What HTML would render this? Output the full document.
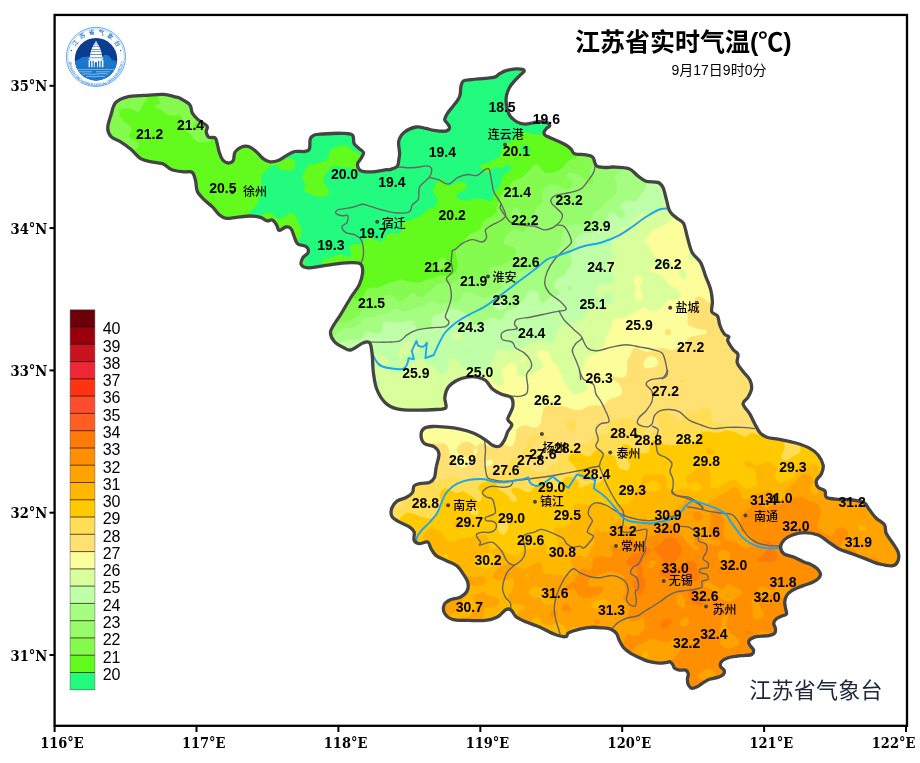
<!DOCTYPE html>
<html lang="zh"><head><meta charset="utf-8"><title>江苏省实时气温</title>
<style>html,body{margin:0;padding:0;background:#fff}svg{display:block}.n{font:bold 14px "Liberation Sans",sans-serif;fill:#000;text-anchor:middle}.c{font:500 12px "Liberation Sans","Noto Sans CJK SC",sans-serif;fill:#000}.ax{font:bold 15px "DejaVu Serif","Liberation Serif",serif;fill:#000}.cb{font:16px "Liberation Sans",sans-serif;fill:#000}</style></head><body>
<svg width="920" height="763" viewBox="0 0 920 763">
<rect width="920" height="763" fill="#fff"/>
<defs><clipPath id="prov"><path d="M115.6 102.6C118.3 99.6 122.7 98 127.5 96.8C132.3 95.6 138.5 95.8 144.5 95.4C150.5 95 158.2 94.2 163.3 94.4C168.4 94.6 172.4 96.2 175.2 96.8C178 97.4 177.6 97 180 98.3C182.4 99.6 187.8 102.3 189.8 104.8C191.9 107.2 190.9 110.5 192.3 113C193.7 115.5 195.6 117.4 198 119.6C200.4 121.8 205.6 124.1 207 126.1C208.4 128.1 205.9 130 206.2 131.8C206.5 133.7 207.2 136.2 208.7 137.2C210.2 138.2 213.8 136.8 215.2 137.9C216.6 139.1 216.6 141.7 217.3 144.1C218 146.5 218.4 149.7 219.3 152.3C220.2 154.9 221.1 157.9 222.6 159.7C224.1 161.5 226.5 162.9 228.3 163C230.1 163.1 232.1 162.3 233.2 160.5C234.3 158.7 233.7 154.5 234.9 152.3C236.1 150.1 238.3 148.4 240.6 147.4C242.9 146.4 246.2 145.9 248.8 146.6C251.4 147.3 253.7 149.4 256.1 151.5C258.6 153.6 261.2 157.2 263.5 158.9C265.8 160.6 267.7 161.5 270.1 161.8C272.6 162.1 275.5 161.5 278.2 160.5C280.9 159.5 283.7 157.1 286.4 155.6C289.1 154.1 291.6 152.2 294.6 151.5C297.6 150.8 301.9 151.9 304.4 151.5C306.9 151.1 308.4 151.1 309.4 149C310.4 146.9 309.4 141.5 310.2 139.2C311 136.9 312.2 136 314.3 135.1C316.4 134.2 317.9 134.3 322.5 134C327.1 133.7 337.1 133.1 342.1 133.3C347.1 133.5 350.4 133.3 352.4 135C354.4 136.7 353 141.2 354.1 143.5C355.2 145.8 357.6 147.1 359.2 148.6C360.8 150.1 363.3 151 363.6 152.7C363.9 154.4 361.9 156.9 360.9 158.8C359.9 160.7 357.5 161.9 357.5 163.9C357.5 165.9 358.3 169.4 360.9 170.7C363.4 172 368.6 172 372.8 171.8C377.1 171.6 383.6 170.1 386.4 169.7C389.2 169.3 388 170.2 389.8 169.6C391.6 169 395.7 167.9 397.2 166.3C398.7 164.7 398.4 162 398.8 159.8C399.2 157.6 399.6 156.3 399.6 153.2C399.6 150.1 398 144.5 398.8 141C399.6 137.5 401.7 134.3 404.6 132C407.5 129.7 412.5 127.6 416 127C419.5 126.4 422.8 127.9 425.8 128.4C428.8 129 430.7 129.9 434 130.3C437.3 130.8 442.9 131.5 445.5 131.1C448.1 130.7 449.3 129.2 449.6 127.9C449.9 126.6 447.9 124.4 447.1 123C446.3 121.6 444.7 121.2 444.7 119.7C444.7 118.2 445.9 116 447.1 113.9C448.3 111.9 450.2 109.7 452 107.4C453.8 105.1 456.4 102.2 457.8 100C459.2 97.8 459.7 96.6 460.2 94.3C460.7 92 460.4 88.3 461 86.1C461.6 83.9 461.7 82 463.5 80.9C465.3 79.8 468.1 80 471.7 79.6C475.2 79.2 481 78.8 484.8 78.4C488.6 78 492.2 77.9 494.6 77.1C497.1 76.3 497.6 74.9 499.5 73.8C501.4 72.7 503.4 71.4 506.1 70.6C508.8 69.8 513.2 69.1 515.9 68.9C518.6 68.7 521.1 69 522.5 69.4C523.9 69.8 524.4 70.5 524.1 71.4C523.8 72.3 522.4 73 520.8 74.6C519.2 76.2 516.2 79 514.3 81.2C512.4 83.4 510.7 85.4 509.4 87.7C508.1 90 507.2 92.7 506.6 95C506.1 97.3 506 99.2 506.1 101.5C506.2 103.8 506.6 106.7 507.2 109.1C507.8 111.5 508.6 113.8 509.9 115.7C511.2 117.6 513.1 119.2 514.8 120.5C516.5 121.8 518.4 122.7 520.2 123.3C522 123.9 523.7 124.1 525.7 124.1C527.7 124 530 123.4 532.2 123C534.4 122.6 536.5 121.7 538.7 121.6C540.9 121.5 543.6 121.9 545.2 122.2C546.8 122.5 547.8 122.9 548.5 123.5C549.2 124.1 550 125.1 549.6 126C549.2 126.9 547.2 127.7 546.3 128.7C545.4 129.7 544.3 130.9 544.1 132C543.9 133.1 544.1 134.2 545.2 135.2C546.3 136.2 548.5 136.9 550.7 137.9C552.9 138.9 555.8 140 558.3 141.2C560.8 142.4 563.7 143.7 565.9 145C568.1 146.3 569.8 147.9 571.3 149.3C572.8 150.8 572.1 152.8 574.6 153.7C577.1 154.6 583.1 154.3 586.1 154.9C589.1 155.5 591.2 155.5 592.9 157.3C594.6 159.1 594.4 164.1 596.4 165.8C598.4 167.5 602 167.3 604.9 167.5C607.8 167.7 609.6 166.8 613.6 167C617.6 167.2 625 167.3 629 168.7C633 170.1 634.7 173.5 637.5 175.6C640.3 177.7 642.6 180.2 646 181.3C649.4 182.4 655.1 181.4 657.9 182.4C660.7 183.4 661.6 184.7 663 187.5C664.4 190.3 665.3 195.4 666.4 199.4C667.5 203.4 668.1 208.2 669.8 211.3C671.5 214.4 674.4 216.1 676.7 218.1C679 220.1 681.8 220.5 683.5 223.3C685.2 226.2 685.5 230.4 686.9 235.2C688.3 240 689.7 247.7 692 252.2C694.3 256.7 698.2 258.4 700.5 262.4C702.8 266.4 703.9 271.6 705.6 276.1C707.3 280.7 709.6 285.4 710.7 289.7C711.8 293.9 712.2 297.9 712.4 301.6C712.6 305.3 710.9 309.4 711.8 311.8C712.6 314.2 716.1 313.6 717.5 315.9C718.9 318.2 718.8 322.5 719.9 325.5C721 328.5 722.9 332.1 724.4 334C725.9 335.9 728.2 335.6 728.8 336.7C729.4 337.8 727.1 338.7 727.8 340.8C728.5 342.9 731.2 347 732.9 349.3C734.6 351.6 737.3 352.1 738 354.4C738.7 356.7 736.4 360 737.3 362.9C738.1 365.8 741 368.6 743.1 371.5C745.2 374.4 748.5 377.2 749.9 380C751.3 382.8 751.9 385.7 751.6 388.5C751.3 391.3 749.6 394.4 748.2 397C746.8 399.6 742.8 400.9 743.1 403.8C743.4 406.7 747.9 410.7 749.9 414.1C751.9 417.5 753.3 421.2 755 424.3C756.7 427.4 758.1 430.7 760.1 432.8C762.1 434.9 763.6 436.1 767 437.2C770.4 438.3 775.8 438.6 780.6 439.6C785.4 440.6 791.1 441.6 795.9 443C800.7 444.4 805.8 446.1 809.5 448.1C813.2 450.1 815.8 452.1 818.1 455C820.4 457.9 822.6 462.1 823.2 465.2C823.8 468.3 822.6 471.1 821.5 473.7C820.4 476.2 817 478.2 816.4 480.5C815.8 482.8 816.7 485.6 818.1 487.3C819.5 489 823.5 489 824.9 490.7C826.3 492.4 824.3 496.1 826.6 497.5C828.9 498.9 834.2 498.9 838.5 499.3C842.8 499.7 847.8 499.3 852.1 499.9C856.4 500.5 861.2 501.1 864.1 502.7C867 504.3 867.2 506.9 869.2 509.5C871.2 512 873.5 515.5 876 518C878.5 520.5 882.8 522.2 884.5 524.8C886.2 527.3 884.8 530.2 886.2 533.3C887.6 536.4 891 540.4 893 543.5C895 546.6 897.2 549.2 898.1 552.1C899 555 899 558.3 898.1 560.6C897.2 562.9 896.1 565.1 893 565.7C889.9 566.3 883.9 565.1 879.4 564C874.9 562.9 870.3 560.6 865.8 558.9C861.2 557.2 856.6 555.5 852.1 553.8C847.6 552.1 842.5 550.7 838.5 548.7C834.5 546.7 831.7 544.1 828.3 541.8C824.9 539.5 822.1 536.5 818.1 535C814.1 533.5 808.7 532.6 804.4 532.6C800.1 532.6 795.9 533.8 792.5 535C789.1 536.2 786 538.1 784 540.1C782 542.1 780.6 544.7 780.6 547C780.6 549.3 781.7 552.1 784 553.8C786.3 555.5 790.8 555.8 794.2 557.2C797.6 558.6 801.9 561.2 804.4 562.3C806.9 563.4 807.3 562.7 809.4 563.7C811.5 564.7 814.9 566.6 816.8 568.3C818.6 570 820.2 572.1 820.5 573.8C820.8 575.5 819.8 576.9 818.6 578.3C817.4 579.7 815.2 580.9 813.1 582C811 583.1 808.2 583.9 805.8 584.8C803.3 585.7 800.8 586.4 798.4 587.5C796 588.6 793.1 589.8 791.1 591.2C789.1 592.6 787.6 594 786.5 595.8C785.4 597.6 784.9 600.1 784.7 602.2C784.6 604.3 785.3 606.6 785.6 608.6C785.9 610.6 787.1 612.9 786.5 614.1C785.9 615.3 783.6 615.2 781.9 616C780.2 616.8 777.8 617.5 776.4 618.7C775 619.9 773.9 621.6 773.7 623.3C773.6 625 775.4 627.1 775.5 628.8C775.6 630.5 775.7 632.3 774.6 633.4C773.5 634.5 771.2 635.1 769.1 635.6C767 636.1 764.2 635.9 761.7 636.1C759.2 636.4 756.5 636.3 754.4 637.1C752.3 637.9 749.7 639.3 748.9 640.7C748.1 642.1 749 643.8 749.8 645.3C750.6 646.8 753.2 648.4 753.5 649.9C753.8 651.4 753.1 653.6 751.7 654.5C750.3 655.4 747.8 655.1 745.2 655.4C742.6 655.7 739.2 655.8 736.1 656.3C733 656.8 729.4 657.3 726.9 658.2C724.4 659.1 722.5 660.4 721.4 661.8C720.3 663.2 720 665 720.5 666.4C721 667.8 723.6 668.7 724.1 670.1C724.6 671.5 724.3 673.5 723.2 674.7C722.1 675.9 720 676.6 717.7 677.4C715.4 678.2 711.9 678.4 709.4 679.3C706.9 680.2 705 681.7 703 682.9C701 684.1 699.3 685.7 697.5 686.6C695.7 687.5 693.5 688.7 692 688.4C690.5 688.1 689.1 686.3 688.3 684.8C687.5 683.3 687.4 681.1 687.4 679.3C687.4 677.5 688.6 675.3 688.3 673.8C688 672.3 687.1 670.7 685.6 670.1C684.1 669.5 681 670.4 679.2 670.1C677.4 669.8 675.7 669.2 674.6 668.3C673.5 667.4 673.6 665.7 672.8 664.6C672 663.5 670.9 662.2 670 661.8C669.1 661.4 669.2 662.1 667.4 662.3C665.5 662.5 662.2 663.4 658.9 663.2C655.6 663 650.9 662.2 647.6 661.2C644.3 660.2 641.9 658.8 639.1 657.5C636.3 656.2 633.3 654.9 630.7 653.3C628.1 651.6 625.5 649.7 623.6 647.6C621.7 645.5 620.6 643 619.4 640.6C618.2 638.2 617.9 635.4 616.5 633.5C615.1 631.6 613.2 630.2 610.9 629.2C608.5 628.2 605.7 628.1 602.4 627.8C599.1 627.5 594.9 627.1 591.1 627.3C587.3 627.5 583.6 628.3 579.8 629.2C576 630.1 570.9 631.6 568.5 632.9C566.1 634.1 568.2 636.5 565.7 636.7C563.2 636.9 558.1 635.6 553.8 634C549.5 632.4 544.6 629.2 540.1 627.2C535.6 625.2 530.5 623.8 526.5 622.1C522.5 620.4 518.8 619 516.3 617C513.8 615 512.9 611.4 511.2 610.1C509.5 608.9 508.4 608.4 506.1 609.5C503.8 610.6 500.9 615.2 497.5 617C494.1 618.8 490.4 619.8 485.6 620.4C480.8 621 474 620.5 468.6 620.4C463.2 620.3 457.3 620.9 453.3 619.7C449.3 618.6 446.2 616 444.7 613.5C443.2 611 443.2 607.3 444.1 605C445 602.7 447.1 601.2 449.8 599.9C452.5 598.6 457.2 598.6 460.1 597.2C463 595.8 465.6 593.8 466.9 591.4C468.2 589 468.5 585.7 467.9 582.9C467.3 580.1 465.4 577.2 463.5 574.4C461.6 571.5 459.6 568.1 456.7 565.8C453.8 563.5 449.8 562.4 446.4 560.7C443 559 438.8 557.6 436.2 555.6C433.6 553.6 432.5 551.1 431.1 548.8C429.7 546.5 429.7 542.9 427.7 542C425.7 541.1 421.5 544 419.2 543.7C416.9 543.4 415 542.3 414.1 540.3C413.2 538.3 415 534.1 414.1 531.8C413.2 529.5 411.6 528.4 409 526.7C406.4 525 401.6 523.3 398.7 521.6C395.8 519.9 393 518.7 391.9 516.4C390.8 514.1 391 510.4 391.9 507.9C392.8 505.3 394.7 502.8 397 501.1C399.3 499.4 403 499.1 405.6 497.7C408.2 496.3 411 494.6 412.4 492.6C413.8 490.6 412.7 487.3 414.1 485.8C415.5 484.3 418.3 484 420.9 483.4C423.4 482.8 427.1 483.4 429.4 482.4C431.7 481.4 433.4 479.9 434.5 477.3C435.6 474.7 435.4 470.9 436.2 467C436.9 463.1 439.3 457.1 439 453.8C438.7 450.5 437 448.7 434.6 447C432.2 445.3 426.7 445.5 424.4 443.5C422.1 441.5 421 437.6 421 435C421 432.4 422.4 429.6 424.4 428.2C426.4 426.8 429.2 426.7 432.9 426.5C436.6 426.3 442 426.8 446.5 427.2C451 427.6 455.6 428.2 460.1 429.2C464.7 430.2 469.5 431.5 473.8 433.3C478.1 435.1 482.6 438.1 485.7 440.1C488.8 442.1 490.2 444.2 492.5 445.2C494.8 446.2 497.3 447.1 499.3 446.3C501.3 445.5 503 442.6 504.4 440.1C505.8 437.7 506.6 434.2 507.8 431.6C509.1 429.1 511.9 426.8 511.9 424.8C511.9 422.8 508.2 421.4 507.8 419.7C507.4 418 508.6 416.9 509.5 414.6C510.4 412.3 512.6 409 512.9 406.1C513.2 403.2 513.2 399.5 511.2 397.5C509.2 395.5 504.1 395.5 501 394.1C497.9 392.7 495.1 391.3 492.5 389C489.9 386.7 488.2 382.5 485.7 380.5C483.1 378.5 480.3 377.7 477.2 377.1C474.1 376.5 470.4 376.5 467 377.1C463.6 377.7 459.8 378.8 456.7 380.5C453.6 382.2 450.2 384.5 448.2 387.3C446.2 390.1 445.2 394.1 444.8 397.5C444.4 400.9 447.2 405.8 445.8 407.8C444.4 409.8 441.3 409.1 436.3 409.5C431.3 409.9 422.3 410.3 415.8 410.2C409.3 410.1 402.2 410.1 397.1 408.8C392 407.6 388.6 406 385.2 402.7C381.8 399.4 378.7 394.1 376.7 389C374.7 383.9 374.1 377.7 373.3 372C372.6 366.3 372.8 359.8 372.2 355C371.6 350.2 371.3 345 369.8 343C368.3 341 366.1 341.9 363 343C359.9 344.1 354.2 348.9 351.1 349.8C348 350.7 347.1 349.5 344.3 348.1C341.5 346.7 336.4 344.1 334.1 341.3C331.8 338.5 329.6 335.6 330.7 331.1C331.8 326.6 337.5 319.8 340.9 314.1C344.3 308.4 348.1 301.9 351.1 297C354.2 292.1 357.3 288.9 359.2 284.9C361.1 280.9 362.3 276.3 362.6 272.9C362.9 269.5 362.6 266.1 360.9 264.4C359.2 262.7 356.1 262.8 352.4 262.7C348.7 262.6 343.8 263.1 338.7 263.7C333.6 264.3 326.8 265.4 321.7 266.1C316.6 266.8 311.5 268.1 308.1 267.8C304.7 267.5 302.1 266.1 301.2 264.4C300.3 262.7 301.8 259.6 302.9 257.6C304 255.6 307.5 254.3 308.1 252.5C308.7 250.7 308.1 248.1 306.4 246.7C304.7 245.3 299.8 245.6 297.8 244C295.8 242.4 295.5 239.8 294.4 237.2C293.3 234.6 292.4 230.4 291 228.7C289.6 227 287.9 226.7 285.9 227C283.9 227.3 280.6 230.7 279.1 230.4C277.6 230.1 277.8 226.9 276.7 225.2C275.6 223.5 273.9 220.8 272.3 220.1C270.7 219.4 269.2 221.2 267.2 220.8C265.2 220.4 263.2 218.2 260.4 217.4C257.5 216.6 254.1 216 250.1 216C246.1 216 240.5 217 236.5 217.4C232.5 217.8 229.1 218.8 226.3 218.4C223.5 218 221.8 216.9 219.5 215C217.2 213.1 215.3 209.8 212.7 207.2C210.1 204.6 206.7 202.4 204.1 199.7C201.5 197 198.7 194.3 197.3 191.2C195.9 188.1 196.4 184.1 195.6 181C194.8 177.9 194.2 173.9 192.2 172.4C190.2 170.9 187.1 172.2 183.7 171.8C180.3 171.4 175.2 171 171.8 169.7C168.4 168.4 166.4 165.2 163.3 163.9C160.2 162.7 156.7 163 153 162.2C149.3 161.3 144.8 161 141.1 158.8C137.4 156.7 134.3 152.1 130.9 149.3C127.5 146.5 124 143.9 120.7 141.8C117.4 139.7 113.3 139 111.1 136.7C108.9 134.4 107.7 131.8 107.7 128.1C107.7 124.4 109.8 118.8 111.1 114.5C112.4 110.2 112.9 105.5 115.6 102.6Z"/></clipPath></defs>
<g clip-path="url(#prov)">
<rect x="90" y="50" width="820" height="660" fill="#22fb7d"/>
<path fill="#63fb1e" d="M93 55L96 55L99 55L102 55L105 55L108 55L111 55L114 55L117 55L120 55L123 55L126 55L129 55L132 55L135 55L138 55L141 55L144 55L147 55L150 55L153 55L156 55L159 55L162 55L165 55L168 55L171 55L174 55L177 55L180 55L183 55L186 55L189 55L192 55L195 55L198 55L201 55L204 55L207 55L210 55L213 55L216 55L219 55L222 55L225 55L228 55L231 55L234 55L237 55L240 55L243 55L246 55L249 55L252 55L255 55L258 55L261 55L264 55L267 55L270 55L272 55L272.4 58L273 59L275.7 61L276 61.1L279 62.9L282 64L282.2 64L285 65.5L286.5 67L285 67.9L282 69.6L280.6 70L279 70.5L276 71.2L273.6 73L276 74.7L279 75L280.3 76L282 77L283.3 79L283.8 82L283.1 85L282 87.5L280.8 88L279.5 91L282 92.7L282.7 94L284.8 97L285 97.2L288 98.7L291 99.6L291.7 100L294 101.2L296 103L297 104.5L298 106L298.9 109L298.9 112L297.3 115L297 115.3L294 115.4L293.7 115L291 113.3L290 112L288 109.9L287.3 109L285.4 106L285 105L282.3 103L282 102.7L281.7 103L279 104.1L277.1 106L276 108.6L275.9 109L276 109.5L276.8 112L279 114.4L279.7 115L282 117L283.3 118L284.8 121L284.5 124L283.1 127L282 128.5L279 127.6L278 127L276 126.2L273 125.3L270 125L267 125.5L264 126.4L262.9 127L261 128.8L260.4 130L260.2 133L261 135.3L261.3 136L263.5 139L264 139.7L265.9 142L267 143.5L269.7 145L270 145.1L273 146L276 147.4L276.6 148L277.2 151L276.8 154L276.8 157L277.7 160L279 161.7L282 160.4L282.5 160L285 158.9L288 158L291 158.2L294 159.9L294.1 160L295.3 163L294.9 166L294.1 169L294 169.2L291 170.8L288 170.6L285 170.5L282 170.5L279.6 169L279 168L277.5 166L276 164.6L273 165.7L272.3 166L270 167.3L267.1 169L267 169.1L264.4 172L264 172.4L261.9 175L261.2 178L261.5 181L261.6 184L261.5 187L261.4 190L261.2 193L261 193.3L260 196L259 199L258.1 202L258 202.3L256.6 205L255 206.8L253.6 208L252 209.5L250.9 211L249 213.8L248.9 214L247.2 217L246 219.7L245.9 220L245.2 223L244.9 226L245.5 229L246 229.9L249 232L252 231.9L255 229.8L255.4 229L256.1 226L256.8 223L257.8 220L258 219.3L259.4 217L261 215.4L263.3 214L264 213.6L267 212.8L270 213.1L272.2 214L273 214.5L276 216.9L276.2 217L279 219.1L282 218.4L283.9 217L285 216.1L287.6 214L288 213.7L291 213.3L294 214L294.1 214L296.5 217L297 220L297 220.1L298 223L300 225.7L300.2 226L301.2 229L301.3 232L300.7 235L300 236.9L299.5 238L298.4 241L297.6 244L297 246L296.5 247L294.8 250L294.2 253L297 254.9L298.9 256L300 256.4L303 258.1L304 259L304.9 262L305.3 265L306 267.1L307.1 268L309 268.7L312 268.1L312.4 268L315 267.6L318 267.4L321 266.3L322.5 265L323 262L323.6 259L324 258.5L327 258.7L330 258.7L333 257.1L334.9 256L336 255.4L339 254.3L342 254.4L344.8 256L345 256.1L348 257.2L351 256L351 256L351 255L350.9 253L349.8 250L349.7 247L351 245.3L354 244.3L357 244.3L358.9 244L360 243.7L363 242.1L364.4 241L365.9 238L366 237.8L369 236.6L372 237.6L372.5 238L375 239.4L377.2 241L378 241.5L381 242L382.6 241L384 239.7L385.1 238L387 235L387 235L390 233L393 233L396 233.8L399 233.2L400.6 232L402 229L401.3 226L400.9 223L402 220.9L405 220.5L408 220.6L410.1 220L411 219.8L414 218.7L417 217.4L418 217L420 216.1L423 214.1L423.1 214L425.7 211L426 210.7L429 209L431.8 208L432 207.9L435 206.5L436.4 205L437.5 202L437.1 199L435.5 196L435 195.2L433.8 193L433.1 190L433.7 187L435 184.6L435.6 184L437.9 181L438 180.9L441 179.7L444 180.3L444.6 181L446.5 184L447 184.6L450 185.7L453 184.2L453.2 184L456 182.4L459 181.4L462 181.8L465 183.1L466.2 184L467.1 187L465 190L465 190L462 191.7L459 192.6L457.9 193L456.5 196L458.7 199L459 199.2L462 200.2L465 200.6L468 200.4L471 199.2L471.7 199L474 198.4L477 198.6L480 198.9L480.6 199L483 199.2L486 200.1L489 201.3L492 199.7L492.5 199L493.3 196L494.3 193L495 192.2L496.7 190L498 189L499.5 187L500.3 184L501 181L501 181L502.2 178L503.8 175L504 174.3L507 173.3L508.3 172L510 170.2L511 169L510.3 166L510 165.5L507 164.1L504.4 166L504 167L501 168.5L498 167.4L495 166.6L492 168.9L492 169L489.9 172L489 172.8L486 172.6L485.5 172L483 169.2L482.7 169L480 166.4L479.4 166L480 165.2L483 163.9L486 163.2L486.9 163L489 162.6L492 161.2L493.1 160L495 159.2L498 157.9L499.1 157L500.9 154L501 153.5L501.7 151L502 148L503.2 145L504 144.3L507 142.7L509.3 142L510 141.8L513 140.3L514.6 139L516 137.7L517.3 136L519 133.1L519.1 133L522 131.4L525 131.9L528 132.9L528.3 133L531 133.8L534 134L537 134.1L540 134.4L543 135L546 135.3L549 135.2L552 135L555 134.1L556.4 133L558 131.1L559 130L561 127.8L564 128.1L567 128.3L569.5 127L570 126.5L571.3 124L572.9 121L573 120.7L573.9 118L575.3 115L576 114.2L577.2 112L579 109.6L579.4 109L581.6 106L582 105.5L584.4 103L585 102.2L587.5 100L588 99.3L590.5 97L591 96L592 94L593.5 91L594 90L595 88L596.2 85L595.8 82L596.8 79L597 78.7L600 76.1L600.3 76L601.6 73L602.8 70L603 69.4L604 67L604.8 64L604.9 61L605.7 58L606 57.3L606.6 55L609 55L612 55L615 55L618 55L621 55L624 55L627 55L630 55L633 55L636 55L639 55L642 55L645 55L648 55L651 55L654 55L657 55L660 55L663 55L666 55L669 55L672 55L675 55L678 55L681 55L684 55L687 55L690 55L693 55L696 55L699 55L702 55L705 55L708 55L711 55L714 55L717 55L720 55L723 55L726 55L729 55L732 55L735 55L738 55L741 55L744 55L747 55L750 55L753 55L756 55L759 55L762 55L765 55L768 55L771 55L774 55L777 55L780 55L783 55L786 55L789 55L792 55L795 55L798 55L801 55L804 55L807 55L810 55L813 55L816 55L819 55L822 55L825 55L828 55L831 55L834 55L837 55L840 55L843 55L846 55L849 55L852 55L855 55L858 55L861 55L864 55L867 55L870 55L873 55L876 55L879 55L882 55L885 55L888 55L891 55L894 55L897 55L897 58L897 61L897 64L897 67L897 70L897 73L897 76L897 79L897 82L897 85L897 88L897 91L897 94L897 97L897 100L897 103L897 106L897 109L897 112L897 115L897 118L897 121L897 124L897 127L897 130L897 133L897 136L897 139L897 142L897 145L897 148L897 151L897 154L897 157L897 160L897 163L897 166L897 169L897 172L897 175L897 178L897 181L897 184L897 187L897 190L897 193L897 196L897 199L897 202L897 205L897 208L897 211L897 214L897 217L897 220L897 223L897 226L897 229L897 232L897 235L897 238L897 241L897 244L897 247L897 250L897 253L897 256L897 259L897 262L897 265L897 268L897 271L897 274L897 277L897 280L897 283L897 286L897 289L897 292L897 295L897 298L897 301L897 304L897 307L897 310L897 313L897 316L897 319L897 322L897 325L897 328L897 331L897 334L897 337L897 340L897 343L897 346L897 349L897 352L897 355L897 358L897 361L897 364L897 367L897 370L897 373L897 376L897 379L897 382L897 385L897 388L897 391L897 394L897 397L897 400L897 403L897 406L897 409L897 412L897 415L897 418L897 421L897 424L897 427L897 430L897 433L897 436L897 439L897 442L897 445L897 448L897 451L897 454L897 457L897 460L897 463L897 466L897 469L897 472L897 475L897 478L897 481L897 484L897 487L897 490L897 493L897 496L897 499L897 502L897 505L897 508L897 511L897 514L897 517L897 520L897 523L897 526L897 529L897 532L897 535L897 538L897 541L897 544L897 547L897 550L897 553L897 556L897 559L897 562L897 565L897 568L897 571L897 574L897 577L897 580L897 583L897 586L897 589L897 592L897 595L897 598L897 601L897 604L897 607L897 610L897 613L897 616L897 619L897 622L897 625L897 628L897 631L897 634L897 637L897 640L897 643L897 646L897 649L897 652L897 655L897 658L897 661L897 664L897 667L897 670L897 673L897 676L897 679L897 682L897 685L897 688L897 691L897 694L897 697L894 697L891 697L888 697L885 697L882 697L879 697L876 697L873 697L870 697L867 697L864 697L861 697L858 697L855 697L852 697L849 697L846 697L843 697L840 697L837 697L834 697L831 697L828 697L825 697L822 697L819 697L816 697L813 697L810 697L807 697L804 697L801 697L798 697L795 697L792 697L789 697L786 697L783 697L780 697L777 697L774 697L771 697L768 697L765 697L762 697L759 697L756 697L753 697L750 697L747 697L744 697L741 697L738 697L735 697L732 697L729 697L726 697L723 697L720 697L717 697L714 697L711 697L708 697L705 697L702 697L699 697L696 697L693 697L690 697L687 697L684 697L681 697L678 697L675 697L672 697L669 697L666 697L663 697L660 697L657 697L654 697L651 697L648 697L645 697L642 697L639 697L636 697L633 697L630 697L627 697L624 697L621 697L618 697L615 697L612 697L609 697L606 697L603 697L600 697L597 697L594 697L591 697L588 697L585 697L582 697L579 697L576 697L573 697L570 697L567 697L564 697L561 697L558 697L555 697L552 697L549 697L546 697L543 697L540 697L537 697L534 697L531 697L528 697L525 697L522 697L519 697L516 697L513 697L510 697L507 697L504 697L501 697L498 697L495 697L492 697L489 697L486 697L483 697L480 697L477 697L474 697L471 697L468 697L465 697L462 697L459 697L456 697L453 697L450 697L447 697L444 697L441 697L438 697L435 697L432 697L429 697L426 697L423 697L420 697L417 697L414 697L411 697L408 697L405 697L402 697L399 697L396 697L393 697L390 697L387 697L384 697L381 697L378 697L375 697L372 697L369 697L366 697L363 697L360 697L357 697L354 697L351 697L348 697L345 697L342 697L339 697L336 697L333 697L330 697L327 697L324 697L321 697L318 697L315 697L312 697L309 697L306 697L303 697L300 697L297 697L294 697L291 697L288 697L285 697L282 697L279 697L276 697L273 697L270 697L267 697L264 697L261 697L258 697L255 697L252 697L249 697L246 697L243 697L240 697L237 697L234 697L231 697L228 697L225 697L222 697L219 697L216 697L213 697L210 697L207 697L204 697L201 697L198 697L195 697L192 697L189 697L186 697L183 697L180 697L177 697L174 697L171 697L168 697L165 697L162 697L159 697L156 697L153 697L150 697L147 697L144 697L141 697L138 697L135 697L132 697L129 697L126 697L123 697L120 697L117 697L114 697L111 697L108 697L105 697L102 697L99 697L96 697L93 697L90 697L90 694L90 691L90 688L90 685L90 682L90 679L90 676L90 673L90 670L90 667L90 664L90 661L90 658L90 655L90 652L90 649L90 646L90 643L90 640L90 637L90 634L90 631L90 628L90 625L90 622L90 619L90 616L90 613L90 610L90 607L90 604L90 601L90 598L90 595L90 592L90 589L90 586L90 583L90 580L90 577L90 574L90 571L90 568L90 565L90 562L90 559L90 556L90 553L90 550L90 547L90 544L90 541L90 538L90 535L90 532L90 529L90 526L90 523L90 520L90 517L90 514L90 511L90 508L90 505L90 502L90 499L90 496L90 493L90 490L90 487L90 484L90 481L90 478L90 475L90 472L90 469L90 466L90 463L90 460L90 457L90 454L90 451L90 448L90 445L90 442L90 439L90 436L90 433L90 430L90 427L90 424L90 421L90 418L90 415L90 412L90 409L90 406L90 403L90 400L90 397L90 394L90 391L90 388L90 385L90 382L90 379L90 376L90 373L90 370L90 367L90 364L90 361L90 358L90 355L90 352L90 349L90 346L90 343L90 340L90 337L90 334L90 331L90 328L90 325L90 322L90 319L90 316L90 313L90 310L90 307L90 304L90 301L90 298L90 295L90 292L90 289L90 286L90 283L90 280L90 277L90 274L90 271L90 268L90 265L90 262L90 259L90 256L90 253L90 250L90 247L90 244L90 241L90 238L90 235L90 232L90 229L90 226L90 223L90 220L90 217L90 214L90 211L90 208L90 205L90 202L90 199L90 196L90 193L90 190L90 187L90 184L90 181L90 178L90 175L90 172L90 169L90 166L90 163L90 160L90 157L90 154L90 151L90 148L90 145L90 142L90 139L90 136L90 133L90 130L90 127L90 124L90 121L90 118L90 115L90 112L90 109L90 106L90 103L90 100L90 97L90 94L90 91L90 88L90 85L90 82L90 79L90 76L90 73L90 70L90 67L90 64L90 61L90 58L90 55ZM251.6 67L249 67.6L246.8 70L248.4 73L249 73.2L249.6 73L252 71.5L253.1 70L252 67L252 67ZM524.8 145L522 145.6L520.2 148L521.1 151L522 152L525 153.6L528 153.1L530.2 151L529.6 148L528 146.4L525.1 145L525 145ZM458.7 217L459 218.9L462 217.9L462.6 217L462 215.5L459 216.7ZM455.5 220L456 220.5L458 220L456 219.7ZM567 60.2L569.4 61L570 61.2L573 62.8L576 63.7L579 63.6L582 63.2L585 62.6L588 61.6L590.7 64L589.3 67L588.1 70L588 70.8L587.6 73L587.5 76L585.1 79L585 79.1L582 80.8L580.3 82L579.2 85L579.2 88L579 90.6L578.9 91L577.2 94L576 94.9L573 95L572.1 94L571.2 91L570.9 88L570.7 85L570.5 82L570 81.3L568.6 79L567 77.2L566.2 76L564.3 73L564 71.6L563.3 70L563.9 67L564 66.2L564.4 64L564.9 61ZM333 148L336 147.2L339 146.4L342 145.6L345 145.2L348 146L350.3 148L351 148.7L353.9 151L354 151.1L357 153L359.4 154L360 154.4L363 154.3L366 154.1L369 155.2L370.6 157L372 159.4L372.2 160L372.9 163L372.4 166L372 166.3L370.6 166L369 165.8L366 165.4L363.4 166L363 166.1L360.7 169L360 170.4L358.1 172L357 172.4L355.9 172L354 170.9L351.9 169L351 168.2L348 167.5L345 167.6L342 167.4L339 166.5L336 166.1L333 166.8L330 168L329.3 169L327.4 172L327 172.4L325 175L324 176.7L323.3 178L323.3 181L324 182.1L324.9 184L326.9 187L327 187.2L328.7 190L329.2 193L327 196L327 196L324 196.7L321 196.6L318 196.6L315 196.3L314.2 196L312 194.8L309 193.1L308.3 193L306 192L303.5 190L305.3 187L305.2 184L303.6 181L303 179.7L302 178L302.4 175L303 174.4L304.1 172L305.6 169L306 168.2L307.7 166L309 165L312 164.3L315 163.8L316.9 163L318 162.4L321 161.6L324 161.7L326.6 160L327 159.6L328.1 157L329.2 154L330 151.5L330.2 151L333 148Z"/>
<path fill="#85fb4f" d="M120 55L123 55L126 55L129 55L132 55L135 55L138 55L138.2 55L141 57L142.5 58L144 58.6L147 59.6L150 59.6L152.3 58L153 57.1L154.3 55L156 55L159 55L162 55L164.6 55L165 56.4L165.8 58L166.5 61L165 63.7L164.9 64L164.6 67L165 67.9L166.3 70L168 71.8L171 71.7L172.8 70L174 68.9L177 67.7L180 67.6L183 67.8L186 68.4L189 69.2L191.7 70L191.9 73L190.3 76L189 77.6L187.7 79L186 80.6L184.1 82L183 83.5L181.8 85L181.8 88L183 90.3L183.4 91L186 93.5L187.7 94L189 94.3L192 94.3L195 94.6L198 95.2L201 95.9L204 96L207 94.7L207.7 94L208.7 91L210 89.3L212.4 88L213 87.8L213.3 88L214.6 91L214.7 94L216 95.6L217.7 97L219 97.5L222 98.6L225 99.9L225.1 100L227.1 103L228 103.9L229.4 106L231 108.2L231.3 109L231.8 112L231.5 115L231 118L231 118L230.7 121L231 122.1L231.5 124L231 125.2L228 126L227.2 124L225 121.8L224.1 121L222 120.1L219 120.1L217.8 121L216 123.5L215.7 124L214.3 127L213.2 130L213 130.7L212.1 133L211.8 136L211.3 139L210 141.7L209.1 142L207 142.3L204 142.2L201 142.3L198 142.1L197.8 142L195 139.4L193.9 139L192 136.3L191.7 136L189 133L189 133L186 130.3L185.9 130L184.7 127L183.7 124L183 121.9L182.8 121L182 118L180 115.4L177 115.1L174 115.5L171 115.6L169.1 115L168 114.6L165 112.7L163.6 112L162 110.2L159 109.2L158.2 109L156 107.2L154.7 106L156 104.7L159 104.6L161.1 103L159 101L158.6 100L158.5 97L158.9 94L159 93L159.3 91L159 90L158.5 88L156 85.5L155.5 85L153 83.1L151.9 82L150 79.4L149.6 79L147 76.3L146.5 76L144 75.2L141 75L138 75L135 75.9L134.8 76L134.1 79L135 80.5L135.7 82L137.3 85L138 86L139.6 88L141 89.6L142.6 91L144 92.7L145.3 94L147 97L146.7 100L144 102.7L143.8 103L142.2 106L141 109L141 109L138.7 112L138 112.6L137.1 112L135 110.8L132.1 109L132 108.9L129 108.4L126 108.4L123 108.7L122 109L120 110.5L119.4 112L119.6 115L120 116.1L120.9 118L123 120.8L123.3 121L126 122.9L127.7 124L129 125.1L130.5 127L131.5 130L130.3 133L129 135.2L128.7 136L129 136.8L131 139L132 139.5L135 140.1L137.2 142L138 143.5L138.5 145L138 147.2L137.6 148L135 149.6L132 148.1L131.7 148L129 146.7L126 146.8L123 147.4L121.4 148L120 148.6L117 150.2L115 151L114 152.1L111 152.4L108 153.8L107.9 154L108 154.4L111 156.5L114 156.1L115 157L117 158.4L118.1 160L119.3 163L120 164.8L120.6 166L123 168.6L123.8 169L126 169.8L128 172L128.9 175L128.2 178L126 179.7L123 180.4L120 180.6L118.5 181L117 181.6L114.3 184L114 184.5L111.7 187L111 188.5L109.7 190L111 191.4L113.8 193L114 193L117 194.4L120 195.5L123 195.5L126 193.2L126.1 193L129 191.3L132 190L132 190L135 189.2L138 188.8L138 190L138.1 193L139 196L141 197.9L143.5 199L144 199.2L147 200.1L150 201.2L151.5 202L152.9 205L152.4 208L150 210.5L148.8 211L147 211.5L144 211.7L142 211L141 210.3L139.5 208L138 206L136.9 205L135 203.5L132.5 202L132 201.7L129 200.8L126 200.4L123.3 202L123 202.3L121.5 205L120.8 208L122.7 211L123 211.2L126 211.4L128.9 211L129 211L132 210.9L132.5 211L135 211.5L138 212.4L139.9 214L140.9 217L141 217.5L141.3 220L141.5 223L141 225.2L139.9 226L138 226.4L137.1 226L135 225.5L132 225.2L131.1 226L130.2 229L130.7 232L132 234.4L132.9 235L135 235.6L138 235.9L141 236.2L144 236.9L146.2 238L147 238.3L150 238.4L153 238.4L156 239.8L156.7 241L157.5 244L158.4 247L159 248.1L161.1 250L162 250.6L165 250.5L166.2 250L168 248.5L169.5 247L171 244.4L171.8 244L174 242.5L175.7 244L177 244.6L180 247L180 247L183 248.2L186 249.8L186.2 250L188.9 253L189 253.2L190.6 256L192 258L194.5 259L195 259.2L198 259.1L199.3 259L201 258.9L204 259L204.5 259L207 259.5L209.6 262L210 262.3L213 263.8L216 262.9L217.2 262L219 260L219.8 259L221 256L222 254.2L225 253.3L228 253.8L231 255.3L231.9 256L234 256.8L237 258L239.4 259L240 259.3L243 261.6L243.3 262L243.4 265L243 266.3L241.9 268L240 270L238.5 271L237 272.4L235.8 274L235.7 277L237 277.5L238 277L240 275.5L241.4 274L243 272.4L246 271.7L249 272.4L251.5 274L252 274.9L252.7 277L253.5 280L254.8 283L255 283.5L258 285.1L261 285.4L263.7 286L264 286.1L267 287.1L270 287.4L273 286.7L275.1 286L276 285.6L279 285L282 286L282 286L284.6 289L285 289.6L286.7 292L288 293.1L291 293.3L293.3 292L294 291.2L295.6 289L297 286.2L297.2 286L300 284.8L303 285.1L305.5 286L306 286.3L307.1 289L307.3 292L307.9 295L309 296.6L312 297.2L315 296.3L318 295.1L318.2 295L321 294.4L324 294.6L325.4 295L327 295.5L330 296.7L333 298L333.2 298L336 298.6L339 298.9L342 299.1L345 299.1L348 298.6L351 298.5L354 298.7L357 299L360 298.6L361.4 298L363 296.6L364.3 295L365.5 292L366 291L367.5 289L369 288L372 287.4L375 287.7L378 287.5L381 286.6L382.2 286L384 285L387 283.7L389.5 283L390 282.8L393 282.2L396 281.4L398.6 280L399 279.7L402 279.1L403.2 280L405 280.8L408 281.5L411 281.9L414 282.2L417 282.5L420 282.3L423 281.3L425.8 280L426 279.9L429 278.9L432 278.1L435 277.4L436.5 277L438 276.3L441 275.6L444 275.7L447 275.9L450 275.5L453 274.3L453.5 274L456 271.3L456.2 271L457.2 268L457.6 265L457.6 262L456.8 259L456 256.1L456 256L455.5 253L456 250.3L456.1 250L458 247L459 246.2L461 244L462 243.1L464 241L465 239.6L466.6 238L468 236.2L469.6 235L471 233.7L474 232.3L475 232L477 231.1L480 229.3L480.3 229L481.1 226L482.1 223L483 222.2L485.2 220L486 219.5L489 217.8L490.6 217L492 216.1L495 214.1L495.1 214L497 211L496.8 208L497.1 205L498 203.4L498.9 202L499.6 199L500.4 196L501 194.8L502.4 193L504 190.7L505.1 190L507 188.8L508.9 187L510 185.1L510.6 184L513 181.3L513.5 181L516 180L519 179.1L521.1 178L522 177.3L524.4 175L525 174.2L527.7 172L528 171.6L530.8 169L531 168.7L533.1 166L534 165.1L537 164L539.3 166L540 166.7L541.2 169L543 171.1L544 172L546 173L549 173.1L552 172.7L555 172.1L555.2 172L558 170.7L561 169L561 169L564 166.1L564.1 166L566.3 163L567 162.4L569.6 160L570 159.7L573 158.3L576 157.4L576.7 157L579 154.6L579.3 154L579.3 151L579 150L578.4 148L577.5 145L577.3 142L578.1 139L579 137.8L580.4 136L582 134.3L583.6 133L585 131.5L586.9 130L588 128.4L588.9 127L590 124L589 121L588 119.6L587.4 118L587.7 115L588 114.7L591 112.8L594 112.5L597 112.1L597.2 112L600 110.6L601.5 109L603 107.6L604.9 106L606 105L609 104.4L612 105.6L614.5 106L615 106.1L615.1 106L618 104.2L618.9 103L621 101.1L622.6 100L624 99.1L627 98.7L629.9 100L630 100L630.3 100L633 97.7L633.5 97L635.5 94L636 93.1L636.5 91L636 89.7L633 88.8L630 90L627 90.4L624 89.1L621.1 88L621 87.9L620.9 88L618 89L616.2 91L615 92.4L613.5 94L612 95.7L609 96.8L606.9 94L607.2 91L608.6 88L609 87.4L611.1 85L612 84.1L615 82.8L618 82.7L619.4 82L621 81.5L624 79.4L624.6 79L627 77.7L629.9 76L630 75.9L632.7 73L632.9 70L632.7 67L633 66.5L634.4 64L636 62.5L636.7 61L637 58L637 55L639 55L642 55L645 55L648 55L651 55L653.8 55L653.7 58L654 59.5L657 59.3L657.8 58L659.5 55L660 55L663 55L666 55L669 55L672 55L675 55L678 55L681 55L684 55L687 55L690 55L693 55L696 55L699 55L702 55L705 55L708 55L711 55L714 55L717 55L720 55L723 55L726 55L729 55L732 55L735 55L738 55L741 55L744 55L747 55L750 55L753 55L756 55L759 55L762 55L765 55L768 55L771 55L774 55L777 55L780 55L783 55L786 55L789 55L792 55L795 55L798 55L801 55L804 55L807 55L810 55L813 55L816 55L819 55L822 55L825 55L828 55L831 55L834 55L837 55L840 55L843 55L846 55L849 55L852 55L855 55L858 55L861 55L864 55L867 55L870 55L873 55L876 55L879 55L882 55L885 55L888 55L891 55L894 55L897 55L897 58L897 61L897 64L897 67L897 70L897 73L897 76L897 79L897 82L897 85L897 88L897 91L897 94L897 97L897 100L897 103L897 106L897 109L897 112L897 115L897 118L897 121L897 124L897 127L897 130L897 133L897 136L897 139L897 142L897 145L897 148L897 151L897 154L897 157L897 160L897 163L897 166L897 169L897 172L897 175L897 178L897 181L897 184L897 187L897 190L897 193L897 196L897 199L897 202L897 205L897 208L897 211L897 214L897 217L897 220L897 223L897 226L897 229L897 232L897 235L897 238L897 241L897 244L897 247L897 250L897 253L897 256L897 259L897 262L897 265L897 268L897 271L897 274L897 277L897 280L897 283L897 286L897 289L897 292L897 295L897 298L897 301L897 304L897 307L897 310L897 313L897 316L897 319L897 322L897 325L897 328L897 331L897 334L897 337L897 340L897 343L897 346L897 349L897 352L897 355L897 358L897 361L897 364L897 367L897 370L897 373L897 376L897 379L897 382L897 385L897 388L897 391L897 394L897 397L897 400L897 403L897 406L897 409L897 412L897 415L897 418L897 421L897 424L897 427L897 430L897 433L897 436L897 439L897 442L897 445L897 448L897 451L897 454L897 457L897 460L897 463L897 466L897 469L897 472L897 475L897 478L897 481L897 484L897 487L897 490L897 493L897 496L897 499L897 502L897 505L897 508L897 511L897 514L897 517L897 520L897 523L897 526L897 529L897 532L897 535L897 538L897 541L897 544L897 547L897 550L897 553L897 556L897 559L897 562L897 565L897 568L897 571L897 574L897 577L897 580L897 583L897 586L897 589L897 592L897 595L897 598L897 601L897 604L897 607L897 610L897 613L897 616L897 619L897 622L897 625L897 628L897 631L897 634L897 637L897 640L897 643L897 646L897 649L897 652L897 655L897 658L897 661L897 664L897 667L897 670L897 673L897 676L897 679L897 682L897 685L897 688L897 691L897 694L897 697L894 697L891 697L888 697L885 697L882 697L879 697L876 697L873 697L870 697L867 697L864 697L861 697L858 697L855 697L852 697L849 697L846 697L843 697L840 697L837 697L834 697L831 697L828 697L825 697L822 697L819 697L816 697L813 697L810 697L807 697L804 697L801 697L798 697L795 697L792 697L789 697L786 697L783 697L780 697L777 697L774 697L771 697L768 697L765 697L762 697L759 697L756 697L753 697L750 697L747 697L744 697L741 697L738 697L735 697L732 697L729 697L726 697L723 697L720 697L717 697L714 697L711 697L708 697L705 697L702 697L699 697L696 697L693 697L690 697L687 697L684 697L681 697L678 697L675 697L672 697L669 697L666 697L663 697L660 697L657 697L654 697L651 697L648 697L645 697L642 697L639 697L636 697L633 697L630 697L627 697L624 697L621 697L618 697L615 697L612 697L609 697L606 697L603 697L600 697L597 697L594 697L591 697L588 697L585 697L582 697L579 697L576 697L573 697L570 697L567 697L564 697L561 697L558 697L555 697L552 697L549 697L546 697L543 697L540 697L537 697L534 697L531 697L528 697L525 697L522 697L519 697L516 697L513 697L510 697L507 697L504 697L501 697L498 697L495 697L492 697L489 697L486 697L483 697L480 697L477 697L474 697L471 697L468 697L465 697L462 697L459 697L456 697L453 697L450 697L447 697L444 697L441 697L438 697L435 697L432 697L429 697L426 697L423 697L420 697L417 697L414 697L411 697L408 697L405 697L402 697L399 697L396 697L393 697L390 697L387 697L384 697L381 697L378 697L375 697L372 697L369 697L366 697L363 697L360 697L357 697L354 697L351 697L348 697L345 697L342 697L339 697L336 697L333 697L330 697L327 697L324 697L321 697L318 697L315 697L312 697L309 697L306 697L303 697L300 697L297 697L294 697L291 697L288 697L285 697L282 697L279 697L276 697L273 697L270 697L267 697L264 697L261 697L258 697L255 697L252 697L249 697L246 697L243 697L240 697L237 697L234 697L231 697L228 697L225 697L222 697L219 697L216 697L213 697L210 697L207 697L204 697L201 697L198 697L195 697L192 697L189 697L186 697L183 697L180 697L177 697L174 697L171 697L168 697L165 697L162 697L159 697L156 697L153 697L150 697L147 697L144 697L141 697L138 697L135 697L132 697L129 697L126 697L123 697L120 697L117 697L114 697L111 697L108 697L105 697L102 697L99 697L96 697L93 697L90 697L90 694L90 691L90 688L90 685L90 682L90 679L90 676L90 673L90 670L90 667L90 664L90 661L90 658L90 655L90 652L90 649L90 646L90 643L90 640L90 637L90 634L90 631L90 628L90 625L90 622L90 619L90 616L90 613L90 610L90 607L90 604L90 601L90 598L90 595L90 592L90 589L90 586L90 583L90 580L90 577L90 574L90 571L90 568L90 565L90 562L90 559L90 556L90 553L90 550L90 547L90 544L90 541L90 538L90 535L90 532L90 529L90 526L90 523L90 520L90 517L90 514L90 511L90 508L90 505L90 502L90 499L90 496L90 493L90 490L90 487L90 484L90 481L90 478L90 475L90 472L90 469L90 466L90 463L90 460L90 457L90 454L90 451L90 448L90 445L90 442L90 439L90 436L90 433L90 430L90 427L90 424L90 421L90 418L90 415L90 412L90 409L90 406L90 403L90 400L90 397L90 394L90 391L90 388L90 385L90 382L90 379L90 376L90 373L90 370L90 367L90 364L90 361L90 358L90 355L90 352L90 349L90 346L90 343L90 340L90 337L90 334L90 331L90 328L90 325L90 322L90 319L90 316L90 313L90 310L90 307L90 304L90 301L90 298L90 295L90 292L90 289L90 286L90 283L90 280L90 277L90 274L90 271L90 268L90 265L90 262L90 259L90 256L90 253L90 250L90 247L90 244L90 241L90 238L90 235L90 232L90 229L90 226L90 223L90 220L90 217L90 214L90 211L90 208L90 205L90 202L90 199L90 196L90 193L90 190L90 187L90 184.3L90.3 184L91 181L90 180.2L90 178L90 175L90 172L90 169L90 166L90 163L90 160L90 157L90 154L90 151L90 148L90 145L90 142L90 139L90 136L90 133L90 130L90 127L90 124L90 121L90 118L90 115L90 112L90 109L90 106L90 103L90 100L90 97L90 96.2L92.2 94L93 92.6L93.7 91L93.2 88L93 87.5L91.2 85L90 84.3L90 82L90 79L90 76L90 74.5L93 74.4L95.4 73L96 72.4L97.9 70L99 67.8L99.8 67L102 65.1L105 66.3L105.8 67L108 68.6L111 68.9L114 68.1L116.4 67L117 66.6L120 64L120 63.7L120.4 61L120 60.4L119 58L117.3 55ZM197.2 109L195 111.5L194.6 112L194.6 115L195 116.2L198 116.5L199.7 115L201 114.3L203.9 112L204 111.3L204.3 109L204 108.6L201 107.7L198 108.6ZM194.7 124L193.8 127L194 130L195 130.2L195.7 130L198 129.1L201 127.8L202.5 127L201 126.1L199.3 124L198 122.5L195 122.6ZM93.5 205L95.8 208L96 208.2L98.4 211L99 211.7L101.1 214L102 215L103.9 217L105 217.2L108 217.7L110.9 217L111 217L112.4 214L112.5 211L112 208L111.2 205L111 204.6L108 202.8L106 205L105 205.9L102.3 208L102 208.3L101.4 208L99 207.1L97.2 205L96 204.5ZM195 55L198 55L201 55L204 55L206.1 55L206.1 58L204 59.9L202.7 61L201 62.5L199.6 61L198 60.1L196.6 58L195 56.1L194.4 55ZM147 129.5L150 129.5L150.5 130L150 132.9L147 131.4L146 130ZM141 179.3L142.1 181L141.6 184L141 185.1L139.6 184L140 181ZM210 204.7L213 204.7L213.6 205L215.4 208L216 209.1L216.5 211L216 211.2L214.1 214L213.7 217L215.2 220L216 220.9L219 222.3L221.2 223L222 224.7L222.6 226L223.5 229L222 230.5L219 231.1L216 230.4L213 229.6L210 230.1L207 231.8L206.6 232L204 233.3L201 233.4L198.5 232L198 231.6L196.3 229L195.6 226L196.6 223L198 220.6L198.3 220L199.4 217L201 214.1L201.1 214L203.5 211L204 210.5L206.3 208L207 207.3L209.6 205ZM156 212.3L159 211.6L162 213L164.8 214L165 214.1L165.2 214L168 213.2L171 212.7L173.4 214L174 214.7L174.8 217L174 218.6L173.2 220L171 221.9L168 222.9L165 221.5L162.9 220L162 218.6L159 218.3L156 217.5L155.6 217L154.9 214ZM231 239.9L234 241L234 241L234.5 244L234 245.6L233 247L231 249.2L228 249.2L226.4 247L226.5 244L228 241.1L228.2 241ZM441 257.9L444 257.6L445.9 259L446.9 262L445.7 265L444 267.5L443.4 268L441 269.8L438 269.8L435 268.5L434.5 268L435 266.4L435.4 265L437.4 262L438 261.2L439.6 259ZM282 273.3L285 272.9L288 273.1L291 272.4L294 271.5L296.5 274L297 275.3L297.2 277L297.1 280L297 280.5L294 281.3L291.6 280L291 279.6L288 278.7L285 278.3L283 277L282 275.2L281.4 274Z"/>
<path fill="#97fc6b" d="M675 55L678 55L681 55L684 55L687 55L690 55L693 55L696 55L699 55L702 55L705 55L708 55L711 55L714 55L717 55L720 55L723 55L726 55L729 55L732 55L735 55L738 55L741 55L744 55L747 55L750 55L753 55L756 55L759 55L762 55L765 55L768 55L771 55L774 55L777 55L780 55L783 55L786 55L789 55L792 55L795 55L798 55L801 55L804 55L807 55L810 55L813 55L816 55L819 55L822 55L825 55L828 55L831 55L834 55L837 55L840 55L843 55L846 55L849 55L852 55L855 55L858 55L861 55L864 55L867 55L870 55L873 55L876 55L879 55L882 55L885 55L888 55L891 55L894 55L897 55L897 58L897 61L897 64L897 67L897 70L897 73L897 76L897 79L897 82L897 85L897 88L897 91L897 94L897 97L897 100L897 103L897 106L897 109L897 112L897 115L897 118L897 121L897 124L897 127L897 130L897 133L897 136L897 139L897 142L897 145L897 148L897 151L897 154L897 157L897 160L897 163L897 166L897 169L897 172L897 175L897 178L897 181L897 184L897 187L897 190L897 193L897 196L897 199L897 202L897 205L897 208L897 211L897 214L897 217L897 220L897 223L897 226L897 229L897 232L897 235L897 238L897 241L897 244L897 247L897 250L897 253L897 256L897 259L897 262L897 265L897 268L897 271L897 274L897 277L897 280L897 283L897 286L897 289L897 292L897 295L897 298L897 301L897 304L897 307L897 310L897 313L897 316L897 319L897 322L897 325L897 328L897 331L897 334L897 337L897 340L897 343L897 346L897 349L897 352L897 355L897 358L897 361L897 364L897 367L897 370L897 373L897 376L897 379L897 382L897 385L897 388L897 391L897 394L897 397L897 400L897 403L897 406L897 409L897 412L897 415L897 418L897 421L897 424L897 427L897 430L897 433L897 436L897 439L897 442L897 445L897 448L897 451L897 454L897 457L897 460L897 463L897 466L897 469L897 472L897 475L897 478L897 481L897 484L897 487L897 490L897 493L897 496L897 499L897 502L897 505L897 508L897 511L897 514L897 517L897 520L897 523L897 526L897 529L897 532L897 535L897 538L897 541L897 544L897 547L897 550L897 553L897 556L897 559L897 562L897 565L897 568L897 571L897 574L897 577L897 580L897 583L897 586L897 589L897 592L897 595L897 598L897 601L897 604L897 607L897 610L897 613L897 616L897 619L897 622L897 625L897 628L897 631L897 634L897 637L897 640L897 643L897 646L897 649L897 652L897 655L897 658L897 661L897 664L897 667L897 670L897 673L897 676L897 679L897 682L897 685L897 688L897 691L897 694L897 697L894 697L891 697L888 697L885 697L882 697L879 697L876 697L873 697L870 697L867 697L864 697L861 697L858 697L855 697L852 697L849 697L846 697L843 697L840 697L837 697L834 697L831 697L828 697L825 697L822 697L819 697L816 697L813 697L810 697L807 697L804 697L801 697L798 697L795 697L792 697L789 697L786 697L783 697L780 697L777 697L774 697L771 697L768 697L765 697L762 697L759 697L756 697L753 697L750 697L747 697L744 697L741 697L738 697L735 697L732 697L729 697L726 697L723 697L720 697L717 697L714 697L711 697L708 697L705 697L702 697L699 697L696 697L693 697L690 697L687 697L684 697L681 697L678 697L675 697L672 697L669 697L666 697L663 697L660 697L657 697L654 697L651 697L648 697L645 697L642 697L639 697L636 697L633 697L630 697L627 697L624 697L621 697L618 697L615 697L612 697L609 697L606 697L603 697L600 697L597 697L594 697L591 697L588 697L585 697L582 697L579 697L576 697L573 697L570 697L567 697L564 697L561 697L558 697L555 697L552 697L549 697L546 697L543 697L540 697L537 697L534 697L531 697L528 697L525 697L522 697L519 697L516 697L513 697L510 697L507 697L504 697L501 697L498 697L495 697L492 697L489 697L486 697L483 697L480 697L477 697L474 697L471 697L468 697L465 697L462 697L459 697L456 697L453 697L450 697L447 697L444 697L441 697L438 697L435 697L432 697L429 697L426 697L423 697L420 697L417 697L414 697L411 697L408 697L405 697L402 697L399 697L396 697L393 697L390 697L387 697L384 697L381 697L378 697L375 697L372 697L369 697L366 697L363 697L360 697L357 697L354 697L351 697L348 697L345 697L342 697L339 697L336 697L333 697L330 697L327 697L324 697L321 697L318 697L315 697L312 697L309 697L306 697L303 697L300 697L297 697L294 697L291 697L288 697L285 697L282 697L279 697L276 697L273 697L270 697L267 697L264 697L261 697L258 697L255 697L252 697L249 697L246 697L243 697L240 697L237 697L234 697L231 697L228 697L225 697L222 697L219 697L216 697L213 697L210 697L207 697L204 697L201 697L198 697L195 697L192 697L189 697L186 697L183 697L180 697L177 697L174 697L171 697L168 697L165 697L162 697L159 697L156 697L153 697L150 697L147 697L144 697L141 697L138 697L135 697L132 697L129 697L126 697L123 697L120 697L117 697L114 697L111 697L108 697L105 697L102 697L99 697L96 697L93 697L90 697L90 694L90 691L90 688L90 685L90 682L90 679L90 676L90 673L90 670L90 667L90 664L90 661L90 658L90 655L90 652L90 649L90 646L90 643L90 640L90 637L90 634L90 631L90 628L90 625L90 622L90 619L90 616L90 613L90 610L90 607L90 604L90 601L90 598L90 595L90 592L90 589L90 586L90 583L90 580L90 577L90 574L90 571L90 568L90 565L90 562L90 559L90 556L90 553L90 550L90 547L90 544L90 541L90 538L90 535L90 532L90 529L90 526L90 523L90 520L90 517L90 514L90 511L90 508L90 505L90 502L90 499L90 496L90 493L90 490L90 487L90 484L90 481L90 478L90 475L90 472L90 469L90 466L90 463L90 460L90 457L90 454L90 451L90 448L90 445L90 442L90 439L90 436L90 433L90 430L90 427L90 424L90 421L90 418L90 415L90 412L90 409L90 406L90 403L90 400L90 397L90 394L90 391L90 388L90 385L90 382L90 379L90 376L90 373L90 370L90 367L90 364L90 361L90 358L90 355L90 352L90 349L90 346L90 343L90 340L90 337L90 334L90 331L90 328L90 325L90 322L90 319L90 316L90 313L90 310L90 307L90 304L90 301L90 298L90 295L90 292L90 289L90 286L90 283L90 280L90 277L90 274L90 272.7L93 272.4L96 272.4L99 273.1L101.4 274L102 274.4L104.9 277L105 277.3L106.6 280L108 281.4L110.4 283L111 283.5L113.1 286L112.5 289L112.7 292L114 293.9L114.8 295L117 296.8L118.3 298L120 299.2L123 300.2L126 299.5L128 298L129 296.2L129.8 295L131.9 292L132 291.9L132.2 292L135 292.6L138 294.9L138.2 295L141 295.6L143.2 295L144 294.7L147 292.8L150 292.2L153 292.4L154.5 292L156 291.6L159 289.7L159.8 289L162 287.6L165 286.6L168 288.3L168.4 289L169.4 292L169.3 295L168 296.7L166.3 298L165 299.2L163.8 301L165 303L168 302.6L171 301.3L171.5 301L174 299.8L177 300L180 300.9L180.3 301L183 302.6L186 303.7L188.6 304L189 304.1L192 304.8L195 305.4L195.5 304L198 302.6L199.6 301L201 300.1L204 298.4L205.3 298L207 297L210 295.4L210.6 295L210 294.4L209.1 292L209.3 289L210 288.5L213 288.1L216 288.9L216.1 289L217.1 292L216.3 295L216 296.5L214.9 298L216 298.5L218.1 301L219 301.6L220.6 304L222 305.5L223.1 307L225 308.9L226 310L228 312.9L228.1 313L229 316L229.9 319L231 320.8L232.1 322L234 323.4L237 324.3L240 324.4L243 322.8L243.8 322L246 319.9L247.5 319L249 318.2L252 318.2L255 318.8L256.4 319L258 319.3L259.2 319L261 318.1L264 316.1L267 317.5L268.9 319L270 319.3L273 320L276 319.9L279 319.2L279.5 319L282 318.2L285 317.2L288 316.4L290.5 316L291 315.9L291.5 316L294 316.4L297 318.9L297.1 319L300 321.9L300.2 322L303 323.8L306 324L309 322.8L310.4 322L312 321L315 319.4L316.3 319L318 318.5L321 318.3L324 318L327 317.9L330 318.7L330.6 319L333 320.6L336 321.9L337.5 322L339 322.1L339.6 322L342 321.7L345 321.4L348 320.9L351 319.8L353.2 319L354 318.7L357 316.4L357.4 316L360 313L360 313L362.9 310L363 309.9L366 308.8L369 309L372 309.4L375 308.7L377.6 307L378 306.7L380.2 304L381 302.6L381.9 301L383 298L384 296.2L387 295.2L387.8 295L390 294.4L391.1 295L393 296.1L395 298L396 299.1L398.2 301L399 301.4L402 301.2L402.3 301L405 298.8L405.9 298L408 296.1L409.5 295L411 293.8L414 293.4L416.2 295L417 295.5L420 297.2L423 296.6L425.4 295L426 294.5L429 292.1L429.1 292L432 289.1L432.1 289L435 286.1L435.1 286L438 284.3L441 283.1L442.1 283L444 282.9L445.9 283L447 283.1L450 283.1L450.4 283L453 282.3L456 280.5L456.8 280L459 278.9L462 277.8L465 277.6L468 278.2L471 279L474 279.9L475.1 280L477 280.1L477.4 280L480 279.4L483 278.2L485.6 277L486 276.6L488.2 274L488.8 271L489 269.8L489.7 268L492 266.4L495 266.2L498 266.4L501 265.7L502.2 265L504 264.3L507 262.6L508 262L510 260.7L512.7 259L513 258.8L515.1 256L515.7 253L515.9 250L513.8 247L513 246.6L510 245.8L507 245.6L504.3 244L504 242.4L503.9 241L504 240.5L504.9 238L507 235.3L507.2 235L509.6 232L510 231.4L513 229L513.4 229L516 228.6L516.7 229L519 230.4L521.9 232L522 232L522 232L525 230.3L526.2 229L528 226.2L528.2 226L528.7 223L529.9 220L531 219.3L532.5 217L534 214.1L534 214L534.8 211L535.7 208L537 206.4L540 205.1L540.2 205L542.9 202L542.5 199L541.8 196L542 193L543 190.9L543.4 190L545.2 187L546 186.4L549 184.5L552 184.4L555 185L558 185.6L561 186.6L561.6 187L564 188.5L567 189.7L570 188.7L571.3 187L572.5 184L571.5 181L570 179.4L567.8 178L567 176.9L566.3 175L567 173.9L570 172.3L573 173L576 173.9L578.7 175L579 175.2L582 177.1L583.3 178L585 180.6L585.3 181L588 183.8L588.9 184L591 184.2L591.7 184L594 181.4L594.1 181L594 180.8L591.9 178L591 176.8L589.4 175L589.4 172L590.5 169L591 167.8L592.2 166L594 164.8L596.2 163L597 162.5L598.9 160L600 158.8L602 157L603 156L606 154.3L606.4 154L608.7 151L609 150.7L611.4 148L612 147.5L615 145.2L615.4 145L618 143.4L621 143.1L623.6 145L624 145.3L627 147.7L630 145.3L630.1 145L631.1 142L633 141.1L636 139.9L637.5 139L639 137.5L639.9 136L640 133L639 130.2L638.9 130L637.8 127L637.5 124L638.3 121L639 119.6L640.3 118L642 115.7L643 115L644.8 112L645 111.8L646.5 109L648 107.5L649.2 106L651 104.1L651.9 103L653.6 100L654 98.5L654.4 97L654.7 94L655.3 91L657 88.6L657.9 88L660 87.2L663 87.8L663.5 88L666 89.6L669 89.7L670.2 88L671.3 85L670.9 82L669.9 79L669 76.9L668.4 76L666 73L666 73L664.3 70L665.7 67L666 66.8L668.9 64L669 63.9L671.7 61L672 60.2L673.3 58L673.1 55ZM690.7 61L691.2 64L692.3 67L693 69L696 67.8L696.3 67L696.3 64L696 63.3L694 61L693 60.2ZM689.8 76L690 76.5L690.3 76L690 75.5ZM194.7 310L195 311.6L195.3 310L195 309.1ZM516 206.7L517.8 208L519 209.4L519.8 211L520.8 214L522 216.3L522.7 217L524.7 220L522 222.4L519.3 220L519 219.7L516 217.4L515 217L513 216.5L510 214L512 211L513 208.6L513.3 208ZM129 270.7L129.8 271L132 272.6L134.1 274L135 276.1L135.8 277L135.6 280L135 281.5L134.3 283L132 284.9L130.3 286L129 287.1L127 289L126 289.5L123 290.1L120 289.4L119.2 289L117.1 286L117.5 283L118.8 280L120 278.1L120.5 277L122.7 274L123 273.6L126 271.1L126.4 271ZM150 270.9L153 270.8L153.9 271L156 272.4L157.6 274L156 276.7L155.8 277L153 279.9L152.9 280L150 282.1L147 282.1L144.8 280L144 278.9L142.1 277L143.1 274L144 273.7L147 272.2L149.6 271Z"/>
<path fill="#a5fd82" d="M786 55L789 55L792 55L795 55L798 55L801 55L804 55L807 55L810 55L813 55L816 55L819 55L822 55L825 55L828 55L831 55L834 55L837 55L840 55L843 55L846 55L849 55L852 55L855 55L858 55L861 55L864 55L867 55L870 55L873 55L876 55L879 55L882 55L885 55L888 55L891 55L894 55L897 55L897 58L897 61L897 64L897 67L897 70L897 73L897 76L897 79L897 82L897 85L897 88L897 91L897 94L897 97L897 100L897 103L897 106L897 109L897 112L897 115L897 118L897 121L897 124L897 127L897 130L897 133L897 136L897 139L897 142L897 145L897 148L897 151L897 154L897 157L897 160L897 163L897 166L897 169L897 172L897 175L897 178L897 181L897 184L897 187L897 190L897 193L897 196L897 199L897 202L897 205L897 208L897 211L897 214L897 217L897 220L897 223L897 226L897 229L897 232L897 235L897 238L897 241L897 244L897 247L897 250L897 253L897 256L897 259L897 262L897 265L897 268L897 271L897 274L897 277L897 280L897 283L897 286L897 289L897 292L897 295L897 298L897 301L897 304L897 307L897 310L897 313L897 316L897 319L897 322L897 325L897 328L897 331L897 334L897 337L897 340L897 343L897 346L897 349L897 352L897 355L897 358L897 361L897 364L897 367L897 370L897 373L897 376L897 379L897 382L897 385L897 388L897 391L897 394L897 397L897 400L897 403L897 406L897 409L897 412L897 415L897 418L897 421L897 424L897 427L897 430L897 433L897 436L897 439L897 442L897 445L897 448L897 451L897 454L897 457L897 460L897 463L897 466L897 469L897 472L897 475L897 478L897 481L897 484L897 487L897 490L897 493L897 496L897 499L897 502L897 505L897 508L897 511L897 514L897 517L897 520L897 523L897 526L897 529L897 532L897 535L897 538L897 541L897 544L897 547L897 550L897 553L897 556L897 559L897 562L897 565L897 568L897 571L897 574L897 577L897 580L897 583L897 586L897 589L897 592L897 595L897 598L897 601L897 604L897 607L897 610L897 613L897 616L897 619L897 622L897 625L897 628L897 631L897 634L897 637L897 640L897 643L897 646L897 649L897 652L897 655L897 658L897 661L897 664L897 667L897 670L897 673L897 676L897 679L897 682L897 685L897 688L897 691L897 694L897 697L894 697L891 697L888 697L885 697L882 697L879 697L876 697L873 697L870 697L867 697L864 697L861 697L858 697L855 697L852 697L849 697L846 697L843 697L840 697L837 697L834 697L831 697L828 697L825 697L822 697L819 697L816 697L813 697L810 697L807 697L804 697L801 697L798 697L795 697L792 697L789 697L786 697L783 697L780 697L777 697L774 697L771 697L768 697L765 697L762 697L759 697L756 697L753 697L750 697L747 697L744 697L741 697L738 697L735 697L732 697L729 697L726 697L723 697L720 697L717 697L714 697L711 697L708 697L705 697L702 697L699 697L696 697L693 697L690 697L687 697L684 697L681 697L678 697L675 697L672 697L669 697L666 697L663 697L660 697L657 697L654 697L651 697L648 697L645 697L642 697L639 697L636 697L633 697L630 697L627 697L624 697L621 697L618 697L615 697L612 697L609 697L606 697L603 697L600 697L597 697L594 697L591 697L588 697L585 697L582 697L579 697L576 697L573 697L570 697L567 697L564 697L561 697L558 697L555 697L552 697L549 697L546 697L543 697L540 697L537 697L534 697L531 697L528 697L525 697L522 697L519 697L516 697L513 697L510 697L507 697L504 697L501 697L498 697L495 697L492 697L489 697L486 697L483 697L480 697L477 697L474 697L471 697L468 697L465 697L462 697L459 697L456 697L453 697L450 697L447 697L444 697L441 697L438 697L435 697L432 697L429 697L426 697L423 697L420 697L417 697L414 697L411 697L408 697L405 697L402 697L399 697L396 697L393 697L390 697L387 697L384 697L381 697L378 697L375 697L372 697L369 697L366 697L363 697L360 697L357 697L354 697L351 697L348 697L345 697L342 697L339 697L336 697L333 697L330 697L327 697L324 697L321 697L318 697L315 697L312 697L309 697L306 697L303 697L300 697L297 697L294 697L291 697L288 697L285 697L282 697L279 697L276 697L273 697L270 697L267 697L264 697L261 697L258 697L255 697L252 697L249 697L246 697L243 697L240 697L237 697L234 697L231 697L228 697L225 697L222 697L219 697L216 697L213 697L210 697L207 697L204 697L201 697L198 697L195 697L192 697L189 697L186 697L183 697L180 697L177 697L174 697L171 697L168 697L165 697L162 697L159 697L156 697L153 697L150 697L147 697L144 697L141 697L138 697L135 697L132 697L129 697L126 697L123 697L120 697L117 697L114 697L111 697L108 697L105 697L102 697L99 697L96 697L93 697L90 697L90 694L90 691L90 688L90 685L90 682L90 679L90 676L90 673L90 670L90 667L90 664L90 661L90 658L90 655L90 652L90 649L90 646L90 643L90 640L90 637L90 634L90 631L90 628L90 625L90 622L90 619L90 616L90 613L90 610L90 607L90 604L90 601L90 598L90 595L90 592L90 589L90 586L90 583L90 580L90 577L90 574L90 571L90 568L90 565L90 562L90 559L90 556L90 553L90 550L90 547L90 544L90 541L90 538L90 535L90 532L90 529L90 526L90 523L90 520L90 517L90 514L90 511L90 508L90 505L90 502L90 499L90 496L90 493L90 490L90 487L90 484L90 481L90 478L90 475L90 472L90 469L90 466L90 463L90 460L90 457L90 454L90 451L90 448L90 445L90 442L90 439L90 436L90 433L90 430L90 427L90 424L90 421L90 418L90 415L90 412L90 409L90 406L90 403L90 400L90 397L90 394L90 391L90 388L90 385L90 382L90 379L90 376L90 373L90 370L90 367.6L93 368.6L96 368.8L99 369L102 369.2L102.5 367L103.4 364L104.6 361L105 360.5L108 359.7L111 360.2L114 360.3L117 360L120 359.3L122.2 358L122.1 355L120 352.4L119.7 352L117 349.6L116.2 349L114 347.5L111.4 346L111 345.6L109.3 343L109.4 340L111 337.1L111 337L113.4 334L114 333.2L116.6 331L117 330.4L117.5 331L120 332.4L121.3 334L123 335.5L124.9 337L126 337.8L129 338.8L132 338.9L135 338.9L136.7 340L138 341.8L138.5 343L139.7 346L141 347.7L142.6 349L144 349.9L147 349.6L147.7 349L149.2 346L148.9 343L149 340L150 338.9L152.2 337L153 336.6L156 336.4L157.7 337L159 338.5L162 340L162 340L162.1 340L165 339.4L166.6 340L168 340.4L171 342.7L171.4 343L174 345.3L174.9 346L177 348.8L177.1 349L178.1 352L178.3 355L178 358L178 361L180 363.5L183 363.5L186 362.2L188.1 361L189 360.5L192 358.5L192.6 358L194.1 355L194.2 352L194 349L193.9 346L194.9 343L195 342.9L198 342.1L201 342.3L203.6 343L204 343.1L207 344.8L208.8 346L210 346.6L213 347.8L215.7 349L216 349.1L219 349.9L221.9 349L222 349L225 346.7L226 346L228 345.1L231 343.6L232 343L234 341.6L237 340.1L240 341.4L240.3 343L241.6 346L243 347.6L244.5 349L246 350.3L249 351.9L249.9 352L252 352.9L253.2 352L255 351.5L258 349.5L258.6 349L261 347.7L264 346.5L266.7 346L267 345.9L270 345.4L273 343.8L273.7 343L276 340.5L276.5 340L279 337.3L279.5 337L282 334.9L285 334.8L288 336.3L289.1 337L291 338.2L293.1 340L294 341.7L294.5 343L295.7 346L297 347.4L298.6 349L300 349.7L303 350.2L306 350L309 349.5L310.1 349L312 347.9L314.8 346L315 345.8L317.6 343L317.7 340L317.2 337L317.7 334L318 333.6L321 332.7L324 333.7L324.6 334L327 335.3L330 336.1L333 335.8L336 334.4L336.5 334L339 331.3L339.3 331L342 328.9L345 328L345.1 328L348 327.9L351 327.9L354 327.5L357 326.2L358.3 325L360 323L360.8 322L363 319.4L363.6 319L366 317.6L369 317.3L372 317.4L375 316.9L376.7 316L378 315.5L381 314L384 313.1L384.6 313L387 312.4L390 310.9L391.5 310L393 309.2L396 309.2L398.6 310L399 310.2L402 311.6L405 311.8L408 310.9L410.3 310L411 309.7L414 308.5L417 307.9L420 307.6L421.6 307L423 306.5L425.9 304L426 303.9L429 301.7L432 301.4L435 302.5L438 303.6L440.7 304L441 304L441.4 304L444 303.7L447 303.2L450 302.9L453 302.9L456 302.7L459 301.7L460.2 301L461.2 298L461.6 295L462 294.4L465 292.4L468 292L471 292.6L474 293.7L476.1 295L477 295.4L480 297.1L483 297.8L486 296.9L489 296L491.8 295L492 294.9L495 292.7L496.6 292L498 290.9L500.6 289L501 287.6L501.6 286L503 283L504 282.5L507 281.6L510 281.4L511.9 283L513 283.5L516 284.1L517.9 283L519 281.6L519.7 280L519 277.5L518.5 277L516.3 274L519 273.1L522 272L525 271L525 271L528 270.2L531 269.2L534 268L534 268L537 266.3L539 265L540 264L543 262.2L543.6 262L546 261.1L549 259.7L550.2 259L552 257.9L554.5 256L555 255.4L556.2 253L557.8 250L558 249.6L559.6 247L561 244L561 243.8L561.3 241L561.6 238L562.2 235L562.9 232L563.6 229L564 228.5L567 226L567.1 226L570 225.2L573 224.5L576 224.1L579 224.3L582 224.6L585 224.4L588 223L588.1 223L590.5 220L591 218.3L591.5 217L592.9 214L594 212.7L596.5 211L597 210.7L600 208.9L600.9 208L603 205.8L603.6 205L606 202.4L606.5 202L609 200.2L610.8 199L612 198.1L614.1 196L615 194.8L615.9 193L616.7 190L617.2 187L617 184L616 181L615 178.7L614.6 178L615 176.4L616 175L618 172.8L618.7 172L621 171.1L624 170.6L627 170.1L629.6 169L630 168.7L633 167.1L636 166.7L639 167L642 167.6L645 168.3L648 168.2L650.7 166L651 165.8L654 163.7L655.2 163L657 162.1L660 160.1L660.2 160L663 157.1L663.2 157L666 156L669 155.4L672 154.2L672.2 154L675 151.6L675.6 151L677.5 148L678 146L678.4 145L678 144.3L675 143.7L672 143.5L669 142.8L667.2 142L667.1 139L668 136L669 133L669 133L670.6 130L669 128.7L668 127L666 124.6L665.6 124L666 123.3L668.2 121L669 120.1L671 118L672 117L673.8 115L675 113.8L676.8 112L678 111.5L678.3 112L679 115L679.3 118L679.5 121L678.7 124L678 125.9L676.8 127L678 128.2L678.9 130L681 131.8L682 133L684 135L686.1 136L687 136.6L690 136.6L690.3 136L691.5 133L692.5 130L693 129L693.8 127L696 124.2L696.3 124L699 123L702 123.2L705 123.2L708 121.4L708.4 121L710.8 118L711 117.8L714 117L717 117.2L720 116L720.5 115L720 112.9L719.7 112L717 109.9L715.3 109L714 108.1L711.4 106L711.9 103L713.8 100L714 99.5L717 97.7L717.9 97L720 95.9L722.3 94L723 93.2L724.6 91L724.1 88L723 86.7L720.8 85L720 84.2L717 84.1L715.4 85L714.2 88L714.3 91L714.1 94L714 94.2L711 96.2L708 96.9L707.8 97L705 98.1L702 98.3L700.3 97L699 94.2L699 94L699 93.9L700.2 91L702 89.3L705 88.1L705.5 88L708 87.4L711 85.4L711.7 85L712.3 82L713.9 79L714 78.9L717 78.3L720 77L721.1 76L723 75L726 73.8L729 73.4L732 73.6L734.7 76L735 77L736.2 79L738 80.2L740.3 79L741 78.7L744 77.9L747 77.6L750 76.8L752.1 76L753 75.6L756 74L757.2 73L759 70.3L759.1 70L760.5 67L762 65.4L765 64.4L768 64.7L771 64.5L772.3 64L774 63.4L777 62.5L780 61.6L781.3 61L783 59.7L784.1 58L784.6 55ZM154.4 361L153 363.5L152.8 364L153 364.4L154.4 367L155.6 370L156 371.1L159 371.3L162 371.3L165 370.2L165.1 370L165 368.4L164.9 367L164.1 364L162.8 361L162 360L159 359.2L156 360.1ZM114 317.3L115.5 319L114 320.5L111.4 319Z"/>
<path fill="#bfffa8" d="M816 56.8L816.9 55L819 55L822 55L825 55L826.9 55L826.8 58L826.6 61L828 63.4L828.5 64L831 65.6L834 64.8L834.6 64L837 62.8L840 61.8L843 61.9L846 64L846 64L849 66.7L849.5 67L852 68.4L855 68.7L857 67L858 65.9L859 64L859.8 61L859.5 58L858.8 55L861 55L864 55L867 55L870 55L873 55L876 55L879 55L882 55L885 55L888 55L891 55L894 55L897 55L897 58L897 61L897 64L897 67L897 70L897 73L897 76L897 79L897 82L897 85L897 88L897 91L897 94L897 97L897 100L897 103L897 106L897 109L897 112L897 115L897 118L897 121L897 124L897 127L897 130L897 133L897 136L897 139L897 142L897 145L897 148L897 151L897 154L897 157L897 160L897 163L897 166L897 169L897 172L897 175L897 178L897 181L897 184L897 187L897 190L897 193L897 196L897 199L897 202L897 205L897 208L897 211L897 214L897 217L897 220L897 223L897 226L897 229L897 232L897 235L897 238L897 241L897 244L897 247L897 250L897 253L897 256L897 259L897 262L897 265L897 268L897 271L897 274L897 277L897 280L897 283L897 286L897 289L897 292L897 295L897 298L897 301L897 304L897 307L897 310L897 313L897 316L897 319L897 322L897 325L897 328L897 331L897 334L897 337L897 340L897 343L897 346L897 349L897 352L897 355L897 358L897 361L897 364L897 367L897 370L897 373L897 376L897 379L897 382L897 385L897 388L897 391L897 394L897 397L897 400L897 403L897 406L897 409L897 412L897 415L897 418L897 421L897 424L897 427L897 430L897 433L897 436L897 439L897 442L897 445L897 448L897 451L897 454L897 457L897 460L897 463L897 466L897 469L897 472L897 475L897 478L897 481L897 484L897 487L897 490L897 493L897 496L897 499L897 502L897 505L897 508L897 511L897 514L897 517L897 520L897 523L897 526L897 529L897 532L897 535L897 538L897 541L897 544L897 547L897 550L897 553L897 556L897 559L897 562L897 565L897 568L897 571L897 574L897 577L897 580L897 583L897 586L897 589L897 592L897 595L897 598L897 601L897 604L897 607L897 610L897 613L897 616L897 619L897 622L897 625L897 628L897 631L897 634L897 637L897 640L897 643L897 646L897 649L897 652L897 655L897 658L897 661L897 664L897 667L897 670L897 673L897 676L897 679L897 682L897 685L897 688L897 691L897 694L897 697L894 697L891 697L888 697L885 697L882 697L879 697L876 697L873 697L870 697L867 697L864 697L861 697L858 697L855 697L852 697L849 697L846 697L843 697L840 697L837 697L834 697L831 697L828 697L825 697L822 697L819 697L816 697L813 697L810 697L807 697L804 697L801 697L798 697L795 697L792 697L789 697L786 697L783 697L780 697L777 697L774 697L771 697L768 697L765 697L762 697L759 697L756 697L753 697L750 697L747 697L744 697L741 697L738 697L735 697L732 697L729 697L726 697L723 697L720 697L717 697L714 697L711 697L708 697L705 697L702 697L699 697L696 697L693 697L690 697L687 697L684 697L681 697L678 697L675 697L672 697L669 697L666 697L663 697L660 697L657 697L654 697L651 697L648 697L645 697L642 697L639 697L636 697L633 697L630 697L627 697L624 697L621 697L618 697L615 697L612 697L609 697L606 697L603 697L600 697L597 697L594 697L591 697L588 697L585 697L582 697L579 697L576 697L573 697L570 697L567 697L564 697L561 697L558 697L555 697L552 697L549 697L546 697L543 697L540 697L537 697L534 697L531 697L528 697L525 697L522 697L519 697L516 697L513 697L510 697L507 697L504 697L501 697L498 697L495 697L492 697L489 697L486 697L483 697L480 697L477 697L474 697L471 697L468 697L465 697L462 697L459 697L456 697L453 697L450 697L447 697L444 697L441 697L438 697L435 697L432 697L429 697L426 697L423 697L420 697L417 697L414 697L411 697L408 697L405 697L402 697L399 697L396 697L393 697L390 697L387 697L384 697L381 697L378 697L375 697L372 697L369 697L366 697L363 697L360 697L357 697L354 697L351 697L348 697L345 697L342 697L339 697L336 697L333 697L330 697L327 697L324 697L321 697L318 697L315 697L312 697L309 697L306 697L303 697L300 697L297 697L294 697L291 697L288 697L285 697L282 697L279 697L276 697L273 697L270 697L267 697L264 697L261 697L258 697L255 697L252 697L249 697L246 697L243 697L240 697L237 697L234 697L231 697L228 697L225 697L222 697L219 697L216 697L213 697L210 697L207 697L204 697L201 697L198 697L195 697L192 697L189 697L186 697L183 697L180 697L177 697L174 697L171 697L168 697L165 697L162 697L159 697L156 697L153 697L150 697L147 697L144 697L141 697L138 697L135 697L132 697L129 697L126 697L123 697L120 697L117 697L114 697L111 697L108 697L105 697L102 697L99 697L96 697L93 697L90 697L90 694L90 691L90 688L90 685L90 682L90 679L90 676L90 673L90 670L90 667L90 664L90 661L90 658L90 655L90 652L90 649L90 646L90 643L90 640L90 637L90 634L90 631L90 628L90 625L90 622L90 619L90 616L90 613L90 610L90 607L90 604L90 601L90 598L90 595L90 592L90 589L90 586L90 583L90 580L90 577L90 574L90 571L90 568L90 565L90 562L90 559L90 556L90 553L90 550L90 547L90 544L90 541L90 538L90 535L90 532L90 529L90 526L90 523L90 520L90 517L90 514L90 511L90 508L90 505L90 502L90 499L90 496L90 493L90 490L90 487L90 484L90 481L90 478L90 475L90 472L90 469L90 466L90 463L90 460L90 457L90 454L90 451L90 448L90 445L90 442L90 439L90 436L90 433L90 430L90 427L90 424L90 421L90 418L90 415L90 412L90 409L90 406L90 403.8L93 404L95.9 406L96 406.1L99 408.8L99.6 406L99.5 403L99 402L97.6 400L97.7 397L99 395.6L102 394L105 395.6L107.3 397L108 397.2L111 398.2L113.6 400L113.8 403L113.4 406L113.4 409L113.3 412L113.4 415L114 415.5L117 417.7L117.7 418L120 418.5L123 418.1L123.3 418L125.1 415L123.6 412L123 411L122 409L122 406L122.9 403L123 402.6L126 400.6L129 401L132 400.4L132.4 400L133.6 397L133 394L132 392.5L129 391.4L126.4 394L126 394.4L123 396.7L120 396.3L118.1 394L117 391.1L117 391L116.2 388L114 385L112.9 385L111 384.9L110.9 385L108 386.1L105 387.6L102 387.8L99 386.9L96 386.8L93 387.5L91.9 388L90 388.4L90 388L90 385L90 382L90 379L90 378.9L93 379L93.3 379L96 380.5L99 380.9L102 379.7L105 379.1L108 379.2L111 379.3L114 379.4L116 382L117 383.1L120 384.3L121.8 385L123 385.6L126 387.3L127.6 388L129 390.4L132 390.1L135 389.9L136.3 391L138 392.5L141 393.5L144 393.6L145.4 394L147 395.1L147.8 397L147.7 400L147.7 403L148.7 406L150 407.7L151.6 409L153 409.7L156 410.2L159 410.1L162 409.4L163.1 409L165 407.7L168 407.6L169.4 409L171 409.7L174 411.9L174.1 412L177 412.8L180 413.1L183 412.5L184.3 412L186 411.1L189 409.2L189.4 409L191.1 406L192 403.5L195 403.2L196.3 406L196.9 409L198 410L201 411.1L204 410.7L207 409.3L207.4 409L210 406.6L210.5 406L212.1 403L213 400.5L213.2 400L215.2 397L216 396.2L219 395L220.7 394L222 392L222.8 391L222.5 388L222 387.6L219.8 385L219 384.4L216 382.2L215.8 382L215 379L215.8 376L216 375.5L219 375.1L222 374.8L223.8 376L225 376.6L225.9 379L226.8 382L227.3 385L227.4 388L228 389.8L228.4 391L230.2 394L231 394.5L234 394.1L234.2 394L237 391.7L237.5 391L238.9 388L240 386.2L240.6 385L243 383.2L246 382.6L249 383.1L252 383.9L255 384.5L258 384.2L261 383.6L264 382.8L265.4 382L267 380.3L268 379L270 376.6L271.9 376L273 375.8L275.3 376L276 376.1L279 376.8L282 378.1L283.1 379L285 380.6L287.2 382L288 382.2L291 382L291.1 382L294 379.1L294.1 379L294.9 376L295.9 373L297 372.4L300 372.6L301.4 373L303 373.2L306 373.5L309 373.4L310.9 373L312 372.7L315 371.8L318 371L320.4 370L321 369.1L322.9 367L324 365.9L327 365.3L330 364L330 364L330.6 361L330.6 358L331.3 355L333 352.4L333.2 352L335.1 349L336 347.3L336.8 346L339 343.2L339.3 343L342 341.6L345 340.9L348 340.4L349.4 340L351 339.6L354 339.1L357 339.5L360 339.8L363 337.1L363 337L364.3 334L366 332.6L369 331.9L372 332.4L375 333.1L378 333.3L381 332.1L382.3 331L382.3 328L382.1 325L384 322.7L385.8 322L387 321.7L390 321.5L393 321.9L396 321.9L399 321.8L402 321.8L405 321.5L408 321L411 320.5L414 321.5L414.4 322L415.3 325L416 328L417 329.4L420 330.1L423 329.3L426 328.5L429 328.1L429.4 328L431.7 325L431.7 322L432 319.3L432 319L433.8 316L435 315.2L438 314.5L441 313.4L441.6 313L444 311.8L447 310.2L447.4 310L450 309.3L453 309.1L456 309.4L458.5 310L459 310.1L462 311.3L464.9 313L465 313.2L467.3 316L468 317.6L469.1 319L470.7 322L471 322.7L474 324.8L477 324.4L480 323.6L482.7 322L483 321.9L486 320L488.2 319L489 318.6L492 317.8L495 317.9L497 319L498 319.6L501 319.3L501.3 319L503.8 316L504 315.6L505 313L507 310.7L510 310L510 310L513 308.9L516 307.3L516.4 307L519 304.7L519.7 304L522 301.2L522.1 301L524.7 298L525 297.6L526.6 295L528 292.3L528.2 292L531 290.1L534 290.3L537 291.8L537.3 292L539.1 295L539.3 298L539.7 301L540 301.4L543 302.9L546 301.2L546.2 301L549 298.6L550.1 298L552 296.8L555 296.1L558 295.5L559.1 295L559.1 292L558 291.2L555.7 289L555 288L554 286L554.5 283L555 281.8L555.9 280L558 278L560.5 277L561 276.9L564 275.4L565 274L566.8 271L567 270.7L568.7 268L570 266.1L570.9 265L572.3 262L571.8 259L570.2 256L570.6 253L573 250L573 250L574.5 247L574.9 244L575.4 241L576 239.6L576.6 238L579 235.1L579.1 235L582 233.2L585 232.7L588 233.1L591 233.5L593.6 232L594 231.8L597 229L597 229L600 227.1L603 226.1L603.3 226L606 224.5L607 223L607.4 220L607.6 217L608.8 214L609 213.7L612 212L615 213.2L615.4 214L618 216.8L618.3 217L621 217.9L623.4 217L624 216.2L625.2 214L624.4 211L624 210.6L621 208.2L620.7 208L620.4 205L621 204.4L623.2 202L624 201.3L627 200.2L630 200.5L633 201.5L636 200.8L637.4 199L639 197.2L639.7 196L642 193.3L642.3 193L644.5 190L645 188.9L645.8 187L646.9 184L648 182.4L649.5 181L651 180.1L654 179.9L656.9 181L657 181.1L659.4 184L660 185L663 187L663 187L663 187L664 184L663.7 181L664.3 178L666 175L666 175L669 173.6L672 173.7L675 174L678 173.9L681 173L682.4 172L682.8 169L681.7 166L681 164.6L680 163L679.5 160L681 158.1L682.2 157L684 156.1L687 155.5L690 155.2L693 155L696 155.2L699 155.9L702 154.2L702.1 154L702.5 151L703.7 148L705 146.1L707.4 145L708 144.7L709.5 145L711 145.3L714 145.7L717 145.5L720 146.3L721.3 148L721.4 151L721.7 154L723 156.4L726 156.4L729 155.1L732 154.4L733.4 154L735 153.1L738 151.7L741 151L741.2 151L743.1 148L741 147L738.7 145L738 144.5L735 142.4L734 142L732 140.9L730.3 139L729.4 136L729 134.3L728.9 133L728.7 130L729 127.5L729.1 127L730.8 124L732 122.9L735 122.7L738 123.8L738.6 124L741 125.6L744 126.2L746.4 124L747 123.6L748.7 121L750 119L750.8 118L753 115.7L754.5 115L756 114.3L759 113.5L762 112.6L763.7 112L765 111.4L768 109.8L769.8 109L771 108L774 108.3L774.7 109L777 109.8L780 110.6L783 110.9L786 111.1L789 111L792 110L793.3 109L795 107.1L795.9 106L798 103.7L799.3 103L801 102.3L804 101.8L807 101.7L810 102.3L811.2 103L812.5 106L812.2 109L813 110.2L815 109L816 108.4L816.9 106L819 103.5L819.2 103L820.4 100L819.8 97L819 96.6L816 94.9L814.9 94L813 92.8L810 91L809.9 91L807 88.5L804.1 88L807 87.5L808.7 85L810 83.2L810.6 82L810.4 79L810 78.4L808.7 76L807 73.4L806.7 73L805.8 70L806.8 67L807 66.7L808.6 64L810 62.1L811.3 61L813 59.2L815.3 58ZM828.2 91L828 92.3L827.7 94L828 94.1L828.4 94L831 92.8L834 91.3L834.4 91L834 90.4L831 90.2ZM773.4 133L774 133.3L774.6 133L774 132.7ZM695.3 169L696 171.2L699 170.2L700.2 169L699 166.5L696 168.2ZM569.1 286L567.7 289L570 290.4L572.5 289L570.5 286L570 285.7ZM789 78.5L792 77.2L793.6 79L795 79.8L797 82L798 82.9L800.6 85L801 85.8L804 88L801 89.6L798 90.5L797 91L795 91.9L792 94L792 94L789 95.2L786 95.3L783 95L780 94.9L777 94.7L775.9 94L774 92.2L773.4 91L773.2 88L774 85L774 85L776.6 82L777 81.8L780 81.2L783 80.6L786 79.7L788.2 79ZM501 300.6L504 300.7L504.9 301L506.5 304L505.6 307L504 309.6L503 310L501 310.5L498 310.5L497.2 310L495 308.4L494.2 307L494.4 304L495 303.3L498 301.1L498.3 301ZM186 384.9L186.2 385L186 387.2L185.9 385Z"/>
<path fill="#d9ff9c" d="M885 114.6L888 114.3L891 114L894 113.6L897 113.1L897 115L897 118L897 121L897 124L897 127L897 130L897 133L897 136L897 139L897 142L897 145L897 148L897 151L897 154L897 157L897 160L897 163L897 166L897 169L897 172L897 175L897 178L897 181L897 184L897 187L897 190L897 193L897 196L897 199L897 202L897 205L897 208L897 211L897 214L897 217L897 220L897 223L897 226L897 229L897 232L897 235L897 238L897 241L897 244L897 247L897 250L897 253L897 256L897 259L897 262L897 265L897 268L897 271L897 274L897 277L897 280L897 283L897 286L897 289L897 292L897 295L897 298L897 301L897 304L897 307L897 310L897 313L897 316L897 319L897 322L897 325L897 328L897 331L897 334L897 337L897 340L897 343L897 346L897 349L897 352L897 355L897 358L897 361L897 364L897 367L897 370L897 373L897 376L897 379L897 382L897 385L897 388L897 391L897 394L897 397L897 400L897 403L897 406L897 409L897 412L897 415L897 418L897 421L897 424L897 427L897 430L897 433L897 436L897 439L897 442L897 445L897 448L897 451L897 454L897 457L897 460L897 463L897 466L897 469L897 472L897 475L897 478L897 481L897 484L897 487L897 490L897 493L897 496L897 499L897 502L897 505L897 508L897 511L897 514L897 517L897 520L897 523L897 526L897 529L897 532L897 535L897 538L897 541L897 544L897 547L897 550L897 553L897 556L897 559L897 562L897 565L897 568L897 571L897 574L897 577L897 580L897 583L897 586L897 589L897 592L897 595L897 598L897 601L897 604L897 607L897 610L897 613L897 616L897 619L897 622L897 625L897 628L897 631L897 634L897 637L897 640L897 643L897 646L897 649L897 652L897 655L897 658L897 661L897 664L897 667L897 670L897 673L897 676L897 679L897 682L897 685L897 688L897 691L897 694L897 697L894 697L891 697L888 697L885 697L882 697L879 697L876 697L873 697L870 697L867 697L864 697L861 697L858 697L855 697L852 697L849 697L846 697L843 697L840 697L837 697L834 697L831 697L828 697L825 697L822 697L819 697L816 697L813 697L810 697L807 697L804 697L801 697L798 697L795 697L792 697L789 697L786 697L783 697L780 697L777 697L774 697L771 697L768 697L765 697L762 697L759 697L756 697L753 697L750 697L747 697L744 697L741 697L738 697L735 697L732 697L729 697L726 697L723 697L720 697L717 697L714 697L711 697L708 697L705 697L702 697L699 697L696 697L693 697L690 697L687 697L684 697L681 697L678 697L675 697L672 697L669 697L666 697L663 697L660 697L657 697L654 697L651 697L648 697L645 697L642 697L639 697L636 697L633 697L630 697L627 697L624 697L621 697L618 697L615 697L612 697L609 697L606 697L603 697L600 697L597 697L594 697L591 697L588 697L585 697L582 697L579 697L576 697L573 697L570 697L567 697L564 697L561 697L558 697L555 697L552 697L549 697L546 697L543 697L540 697L537 697L534 697L531 697L528 697L525 697L522 697L519 697L516 697L513 697L510 697L507 697L504 697L501 697L498 697L495 697L492 697L489 697L486 697L483 697L480 697L477 697L474 697L471 697L468 697L465 697L462 697L459 697L456 697L453 697L450 697L447 697L444 697L441 697L438 697L435 697L432 697L429 697L426 697L423 697L420 697L417 697L414 697L411 697L408 697L405 697L402 697L399 697L396 697L393 697L390 697L387 697L384 697L381 697L378 697L375 697L372 697L369 697L366 697L363 697L360 697L357 697L354 697L351 697L348 697L345 697L342 697L339 697L336 697L333 697L330 697L327 697L324 697L321 697L318 697L315 697L312 697L309 697L306 697L303 697L300 697L297 697L294 697L291 697L288 697L285 697L282 697L279 697L276 697L273 697L270 697L267 697L264 697L261 697L258 697L255 697L252 697L249 697L246 697L243 697L240 697L237 697L234 697L231 697L228 697L225 697L222 697L219 697L216 697L213 697L210 697L207 697L204 697L201 697L198 697L195 697L192 697L189 697L186 697L183 697L180 697L177 697L174 697L171 697L168 697L165 697L162 697L159 697L156 697L153 697L150 697L147 697L144 697L141 697L138 697L135 697L132 697L129 697L126 697L123 697L120 697L117 697L114 697L111 697L108 697L105 697L102 697L99 697L96 697L93 697L90 697L90 694L90 691L90 688L90 685L90 682L90 679L90 676L90 673L90 670L90 667L90 664L90 661L90 658L90 655L90 652L90 649L90 646L90 643L90 640L90 637L90 634L90 631L90 628L90 625L90 622L90 619L90 616L90 613L90 610L90 607L90 604L90 601L90 598L90 595L90 592L90 589L90 586L90 583L90 580L90 577L90 574L90 571L90 568L90 565L90 562L90 559L90 556L90 553L90 550L90 547L90 544L90 541L90 538L90 535L90 532L90 529L90 526L90 523L90 520L90 517L90 514L90 511L90 508L90 505L90 502L90 499L90 496L90 493L90 491.6L93 492.3L94.2 493L96 493.5L99 493.7L102 493.7L103.1 493L104.9 490L104.6 487L102.5 484L102 483.4L100.3 481L99 479.3L97.6 478L96 477.2L93 476.4L90 476.2L90 475L90 472L90 469L90 466L90 463L90 460L90 457L90 455L93 455.1L96 455.4L99 455.7L102 456.5L102.6 457L105 458.3L106.9 460L108 461.1L110.1 463L111 464L114 465.9L114.1 466L117 467.7L118.5 469L120 470.5L121.2 472L123 474L124.1 475L126 476L129 476.5L132 475.8L133.2 475L134.9 472L135 471.8L138 469.4L141 469.6L144 470.7L147 471.8L147.6 472L150 473L153 473.3L154.8 472L156 469.1L156 469L159 466.9L162 467.6L165 468.4L168 468.4L171 466.7L171.6 466L172.1 463L171 461L170.4 460L168.5 457L169.3 454L171 452.5L174 451L177 451.2L179.1 454L179.9 457L180 457.5L180.4 460L182.5 463L183 463.3L186 464.4L189 464.5L191.2 463L189.7 460L189.1 457L189.5 454L190 451L190.7 448L192 446.7L194.1 445L195 444.5L198 442.3L198.7 442L201 440.9L203 442L204 442.4L207 443L210 442.4L212.8 442L213 442L213.7 442L216 442.2L218.8 442L219 442L219.9 439L220.5 436L222 433.4L222.3 433L225 431L227.7 430L228 429.9L231 429.6L234 429.8L235.7 430L235.5 433L236.6 436L237 436.3L240 437.8L243 438.8L243.7 439L246 439.5L249 439.4L249.6 439L251.5 436L251.1 433L249 430.1L248.7 430L246 429.1L243 429.3L240 429.6L237.6 427L240 424.1L240.1 424L243 421.9L244.9 421L246 420.1L249 418.4L249.4 418L249.5 415L250 412L252 409.3L253 409L255 408.4L258 407.4L261 406.4L264 408L267 408.6L270 407.5L273 408.1L274.2 409L276 410.6L279 411.5L282 409.3L282.3 409L285 407.8L288 408.2L290.2 409L291 409.3L294 410.4L297 411.3L299.2 412L300 412.2L303 412.6L305.5 412L306 411.8L309 409.5L310.1 409L312 408.1L315 407.1L316.3 406L318 405L320.8 403L321 402.9L324 401.2L325.2 400L326.9 397L327 396.9L328.5 394L330 392.3L331.3 391L333 388.6L333.5 388L334.1 385L335.5 382L336 381.7L339 379.8L340.7 379L342 378.2L345 378.3L346.6 379L348 379.4L349.7 379L351 378.2L351.9 376L352.9 373L354 370.2L354.1 370L355.3 367L357 364.1L357.2 364L360 361.7L363 362.5L365.9 361L365 358L363 355.3L360.8 358L360 359.1L357 359.8L356.2 358L357 357.2L359.5 355L360 354.7L363 354.9L366 354.6L369 354.2L372 353.9L375 353.7L378 353.7L381 354.5L381.6 355L384 356.6L385.7 358L387 359.2L388.7 361L389.1 364L388.9 367L389.5 370L390 370.8L393 372.8L396 373L399 372.5L401.6 370L400.7 367L400.1 364L400.7 361L399 358.1L399 358L398 355L399 352L399 352L400.6 349L401.8 346L402 345.5L404.1 343L405 342.4L408 341.7L411 341.6L414 341.6L417 341.8L420 342.5L421 343L423 346L420.9 349L420 349.4L417 351L415.4 352L414 353.5L411 354.4L408 354.3L405 354.9L404.9 355L402.1 358L403.3 361L405 361.8L408 363.8L409.7 364L411 364.3L411.3 364L413.6 361L414 360.4L417 359.1L420 359.3L423 360.1L424.3 361L426 362.8L427.4 364L429 365.1L432 366.1L433.2 367L435 369.1L435.5 370L437.8 373L438 373.2L441 373.6L443.7 373L444 372.9L447 370.9L447.8 370L448.2 367L448.2 364L448.6 361L450 358.6L453 358.6L456 359.3L457.5 361L459 362.4L460.3 364L462 365.6L464 367L465 367.6L468 368.9L471 369.8L471.5 370L474 371.2L477 372.1L480 371.1L483 370.1L483.1 370L486 369L488.9 367L489 367L490.6 364L492 361.7L492.5 361L494.6 358L495 356.8L495.9 355L496 352L498 349.3L501 349.7L504 350.5L507 350.7L510 350.6L513 350.4L516 349.9L518.9 349L519 349L522 347.7L525 346.4L525.9 346L528 344.8L531 343.5L532.2 343L534 342.3L537 340.9L539.9 340L540 340L540.5 340L543 340.1L546 341.2L549 342.6L550.1 343L552 343.4L552.6 343L554.2 340L555 337.8L555.3 337L556.4 334L557.7 331L558 330.1L559.3 328L560.5 325L561 322.8L563.4 325L564 325.2L567 325.8L569.4 325L570 324.9L573 323.6L576 322.4L577 322L579 320.6L581.2 319L582 317.9L583.8 316L585 314.7L586.3 313L588 310.5L588.4 310L591 307.7L594 307.7L597 308L600 307.7L601.5 307L603 306L606 304.2L607.2 304L609 303.6L612 302.5L613.1 301L613.3 298L612.2 295L612 294.7L609.3 292L609 291.6L607.3 292L606 292.3L603.6 295L603 295.8L600 297.2L597 295.9L596.4 295L595.2 292L595.6 289L597 287.3L599.2 286L600 285.6L603 285L606 284.9L609 284.1L610.5 283L612 282L613.8 280L613.9 277L612 274.1L611.9 274L609 271.4L608.4 271L606.9 268L606.8 265L607.6 262L609 260.7L611.7 259L612 258.8L614.4 256L613.4 253L612 251.1L611.2 250L610.6 247L611.9 244L612 243.8L613.4 241L613.7 238L614.7 235L615 234.3L617.1 232L618 230.9L619.4 229L621 228.2L624 227.3L627 226.3L627.4 226L630 223.9L630.7 223L632.9 220L633 219.9L635.8 217L636 216.7L639 214.7L640.8 214L642 213.5L645 213.2L648 213.5L651 213.2L654 212.3L657 211.1L657.3 211L660 209.2L661.2 208L662.4 205L663 203L663.4 202L665.4 199L666 198.5L669 196.8L671.1 196L672 195.7L673.2 196L675 196.8L676.4 199L678 200.5L680 202L681 202.5L684 203.2L687 202L687 202L688.7 199L689.9 196L690 195.7L691.9 193L693 192.2L696 190.5L699 190.2L702 191.9L702.8 193L705 195.5L705.3 196L708 199L708 199L711 200.8L714 200.5L717 199.3L717.5 199L718.7 196L718.3 193L717.9 190L718.7 187L720 186.1L723 185.4L726 185L728.6 184L729 183.7L732 181.3L733.5 181L735 180.5L738 179.7L738.5 178L738.7 175L738.5 172L739.5 169L741 167.4L742.4 166L744 164.8L747 163.8L750 163.9L753 164.7L754.8 166L755.9 169L754.3 172L753 174L752.5 175L753 176.3L754.1 178L756 179.2L759 179.5L760.8 178L762 176.7L763.6 175L765 174.2L768 173L771 172L771.1 172L774 171.2L776.9 169L777 168.9L777.6 166L778.3 163L779.8 160L780 159.8L782.7 157L783 156.8L786 155.2L788.9 154L789 154L792 153.3L795 152.1L798 151L798 151L801 150.5L804 150.3L807 149.5L810 148.3L810.4 148L813 146.5L815.3 145L816 144.5L819 143.2L822 143.8L824.4 145L825 145.4L827.8 148L828 148.7L829.1 151L831 152.8L833.8 151L833.5 148L834 147.6L836.4 145L837 144.7L840 143.3L842.3 142L843 141.7L846 139.9L847.1 139L849 137.9L852 136.9L854.8 139L855 139.2L858 141.2L861 140.4L863 139L864 138L867 136.1L867.3 136L870 135.5L873 135L876 134L877.7 133L879 131.3L879.9 130L879.9 127L879.3 124L879.1 121L879.7 118L882 115.4L883.1 115ZM839.8 151L837 153.6L836.5 154L837 154.5L837.7 157L840 159.9L843 159.7L844.7 157L845.6 154L844.2 151L843 150.3L840 150.9ZM791 160L791.7 163L792 163.3L795 164.9L797.7 163L797.3 160L795 157.9L792 158.3ZM784.5 175L783 176.5L782.2 178L783 178.9L786 180.2L789 180.4L792 179.4L793.5 178L792.1 175L792 174.9L789 174.3L786 174.7ZM740.9 190L741 190.5L741.1 190L741 189.7ZM729 199L729 199L732 199.5L734.1 199L732 198.7L729 199ZM590.1 322L591 323.5L592.4 322L591 321.3ZM570.8 349L570.4 352L573 352.9L574.2 352L575.5 349L573 346.1ZM375 382L375 382.1L376.4 385L378 386.6L378.8 385L381 382.1L381.1 382L381 381.9L378 379.5L375 381.9ZM262.6 415L261 417L260.1 418L259.3 421L261 423L261.6 424L264 426.1L265 427L267 428.7L268.5 430L270 431.7L271.3 433L273 434.4L276 434.9L279 433.6L279.5 433L281.4 430L282 429.3L284.2 427L285 426L286.3 424L286.1 421L285 419.1L283.9 418L282 416.2L279 415.1L276 415.4L273 415.6L270.8 415L270 414.6L267 412.5L264 413.1ZM221.1 451L221.4 454L222 454.7L225 456.5L228 456.3L231 455.3L232.8 454L231 453.3L228 451.7L227.3 451L225 449.8L222 448.9ZM558 318.8L561 318.1L562.2 319L561 321.5L558 319.2L557.9 319ZM453 332.9L456 332.8L459 332.7L462 332.6L462.4 334L462.4 337L462 337.9L459.6 340L459 340.4L456 340.1L455.8 340L453 337.8L452.4 337L452.4 334ZM468 344L469.5 346L468 348.2L465.2 346ZM300 390.8L303 389.3L305.3 391L306 391.5L306.8 394L307.3 397L306.9 400L306 401.1L303.3 400L303 399.9L300 397.9L298.9 397L297 394.8L294.7 394L297 392.2L299.6 391ZM201 423.5L204 422.3L207 421.6L210 422.4L211.2 424L212.7 427L212.6 430L210 432.1L207 432.2L204 432.3L201 431.8L199.5 430L198 427L199.5 424ZM183 438.9L183.1 439L186 441.5L186.4 442L187.1 445L186 445.8L183 446.8L180 446.7L178.1 445L177.5 442L180 439.2L181.7 439ZM105 441.2L108 440.7L111 441.3L111.8 442L111.2 445L111 445.3L108 447.5L105.1 448L105 448L105 448L103.7 445L104.5 442ZM129 442.7L132 442.5L133 445L133.2 448L132 449.8L129 449.4L128.1 448L127.9 445Z"/>
<path fill="#fbfe9b" d="M879 158.3L882 159.9L882 160L885 161.9L886.4 163L888 164L891 166L891 166L894 167.9L897 168.6L897 169L897 172L897 174.3L894.9 175L894 175.3L891 176.4L888 177L885 178L885 178L882 180.6L881.4 181L882 181.6L883.2 184L885 185.4L888 186.5L891 186.1L894 186.4L896.3 187L897 187.1L897 190L897 193L897 196L897 199L897 202L897 205L897 208L897 211L897 214L897 217L897 220L897 223L897 226L897 229L897 232L897 235L897 238L897 241L897 244L897 247L897 250L897 253L897 256L897 259L897 262L897 265L897 268L897 271L897 274L897 277L897 280L897 283L897 286L897 289L897 292L897 295L897 298L897 301L897 304L897 307L897 310L897 313L897 316L897 319L897 322L897 325L897 328L897 331L897 334L897 337L897 340L897 343L897 346L897 349L897 352L897 355L897 358L897 361L897 364L897 367L897 370L897 373L897 376L897 379L897 382L897 385L897 388L897 391L897 394L897 397L897 400L897 403L897 406L897 409L897 412L897 415L897 418L897 421L897 424L897 427L897 430L897 433L897 436L897 439L897 442L897 445L897 448L897 451L897 454L897 457L897 460L897 463L897 466L897 469L897 472L897 475L897 478L897 481L897 484L897 487L897 490L897 493L897 496L897 499L897 502L897 505L897 508L897 511L897 514L897 517L897 520L897 523L897 526L897 529L897 532L897 535L897 538L897 541L897 544L897 547L897 550L897 553L897 556L897 559L897 562L897 565L897 568L897 571L897 574L897 577L897 580L897 583L897 586L897 589L897 592L897 595L897 598L897 601L897 604L897 607L897 610L897 613L897 616L897 619L897 622L897 625L897 628L897 631L897 634L897 637L897 640L897 643L897 646L897 649L897 652L897 655L897 658L897 661L897 664L897 667L897 670L897 673L897 676L897 679L897 682L897 685L897 688L897 691L897 694L897 697L894 697L891 697L888 697L885 697L882 697L879 697L876 697L873 697L870 697L867 697L864 697L861 697L858 697L855 697L852 697L849 697L846 697L843 697L840 697L837 697L834 697L831 697L828 697L825 697L822 697L819 697L816 697L813 697L810 697L807 697L804 697L801 697L798 697L795 697L792 697L789 697L786 697L783 697L780 697L777 697L774 697L771 697L768 697L765 697L762 697L759 697L756 697L753 697L750 697L747 697L744 697L741 697L738 697L735 697L732 697L729 697L726 697L723 697L720 697L717 697L714 697L711 697L708 697L705 697L702 697L699 697L696 697L693 697L690 697L687 697L684 697L681 697L678 697L675 697L672 697L669 697L666 697L663 697L660 697L657 697L654 697L651 697L648 697L645 697L642 697L639 697L636 697L633 697L630 697L627 697L624 697L621 697L618 697L615 697L612 697L609 697L606 697L603 697L600 697L597 697L594 697L591 697L588 697L585 697L582 697L579 697L576 697L573 697L570 697L567 697L564 697L561 697L558 697L555 697L552 697L549 697L546 697L543 697L540 697L537 697L534 697L531 697L528 697L525 697L522 697L519 697L516 697L513 697L510 697L507 697L504 697L501 697L498 697L495 697L492 697L489 697L486 697L483 697L480 697L477 697L474 697L471 697L468 697L465 697L462 697L459 697L456 697L453 697L450 697L447 697L444 697L441 697L438 697L435 697L432 697L429 697L426 697L423 697L420 697L417 697L414 697L411 697L408 697L405 697L402 697L399 697L396 697L393 697L390 697L387 697L384 697L381 697L378 697L375 697L372 697L369 697L366 697L363 697L360 697L357 697L354 697L351 697L348 697L345 697L342 697L339 697L336 697L333 697L330 697L327 697L324 697L321 697L318 697L315 697L312 697L309 697L306 697L303 697L300 697L297 697L294 697L291 697L288 697L285 697L282 697L279 697L276 697L273 697L270 697L267 697L264 697L261 697L258 697L255 697L252 697L249 697L246 697L243 697L240 697L237 697L234 697L231 697L228 697L225 697L222 697L219 697L216 697L213 697L210 697L207 697L204 697L201 697L198 697L195 697L192 697L189 697L186 697L183 697L180 697L177 697L174 697L171 697L168 697L165 697L162 697L159 697L156 697L153 697L150 697L147 697L144 697L141 697L138 697L135 697L132 697L129 697L126 697L123 697L120 697L117 697L114 697L111 697L108 697L105 697L102 697L99 697L96 697L93 697L90 697L90 694L90 691L90 688L90 685L90 682L90 679L90 676L90 673L90 670L90 667L90 664L90 661L90 658L90 655L90 652L90 649L90 646L90 643L90 640L90 637L90 634L90 631L90 628L90 625L90 622L90 619L90 616L90 613L90 610L90 607L90 604L90 601L90 598L90 595L90 592L90 589L90 586L90 583L90 580L90 577L90 574L90 571L90 570.5L91 571L93 571.4L96 571.4L98.5 571L99 570.8L100.4 568L100.4 565L100.4 562L102 559.3L102.2 559L105 556.2L105.2 556L107.9 553L108 552.9L111 551.1L112.8 550L114 549.1L115.7 547L116.9 544L117 543.7L120 541.8L122.6 544L123 544.3L126 546.7L129 546.9L132 545L133.3 544L135 542.4L138 541.7L141 542.3L144 541.3L144.3 541L144 540.3L142.6 538L141 537.1L138.1 535L138 534.9L137 532L135.7 529L135 527.4L134.3 526L134.8 523L135 522.8L138 520L138 520L140.2 517L139.5 514L138 511.2L137.9 511L137.5 508L138 507.2L141 507L144 507.7L147 507.7L150 507.9L150.2 508L151.4 511L150 513L149.2 514L147 515.4L144.8 517L144 518.9L143.3 520L144 520.8L144.6 523L146 526L147 528.9L147 529L147.6 532L148.5 535L149.9 538L150 538.2L150.5 541L152 544L153 544.8L156 544L156 544L159 542.6L159.7 541L159.9 538L160.3 535L161.1 532L160.9 529L159.4 526L159 525.2L158.1 523L157.8 520L158.5 517L159 516.1L160.5 514L162 511.9L163 511L165 509.4L168 509.7L171 510.4L174 511L174 511L177 511.4L180 511.6L183 511L183 511L185.5 508L186 507.1L187.2 505L189 502.8L189.7 502L192 500.3L193.3 499L195 497.3L196.2 496L198 493.7L199.1 493L201 492.1L204 491.8L207 492.4L208.1 493L209.7 496L210 498.4L210.1 499L211.2 502L213 503.5L216 503.4L219 502.2L219.6 502L222 501.2L225 501.3L226.7 502L228 502.8L230.7 505L231 505.2L234 505.6L236.6 505L237 504.8L239.1 502L239 499L239.2 496L240 493L240 492.9L243 491L246 491L249 490.1L249.1 490L250.2 487L249.9 484L249.8 481L249.9 478L250 475L250.6 472L252 470.5L254.9 469L255 469L258 466.5L258.5 466L261 464.1L262.7 463L264 462.4L267 461.8L270 462.2L272.6 463L273 463.2L276 463L276 463L279 460.5L279.3 460L280 457L280.8 454L282 452.2L284.8 451L285 451L285.2 451L288 451.5L291 451.8L294 451.6L297 451.5L300 451.8L302.6 451L303 450.6L303.6 448L303.6 445L303.2 442L303 440.6L302.6 439L302.9 436L303 435.9L305.7 433L306 432.8L309 431.4L312 431L315 431.8L317.5 433L318 433.3L321 435.3L322 436L322.3 439L321 440.3L320.2 442L319 445L319 448L321 449.9L324 450.2L327 450.1L330 451L330.1 451L331.2 454L330 456.1L329.7 457L329.4 460L330 461.6L333 462L336 460.9L338.8 460L339 459.9L339.5 457L339 455L338.5 454L339 452.5L340 451L342 450.1L344.9 451L345 451L346.8 454L348 455.5L351 456.4L354 455.5L357 454.8L360 454L360 454L360.3 451L360.1 448L361.6 445L363 444.3L365.7 445L366 445.1L369 446.7L372 448L372.2 448L375 450L378 449.9L381 449.2L384 448.5L385.1 448L387 447.1L387.8 445L390 442.1L390.1 442L393 439L393 439L396 436.3L399 436.5L402 437L405 436.2L405.3 436L408 433.6L408.5 433L410.6 430L411 429.4L413.2 427L414 426L416.7 424L417 423.7L420 423.7L420.3 424L423 426.1L423.7 427L426 428.6L429 429.6L432 429L435 428L437.4 427L438 426.5L440.5 424L440.6 421L440 418L439.4 415L438.9 412L438.9 409L440.5 406L441 405.5L442.3 406L444 406.4L447 407.3L450 408L453 407.5L454.6 406L456 404.1L456.6 403L459 400L459 400L461.9 397L462 396.9L464.2 394L465 392.7L468 391.5L470 394L471 395.7L471.5 397L472 400L472.5 403L474 405.1L477 406L480 405.9L483 403.5L483.2 403L483.3 400L483 397L483 397L482.5 394L482 391L481 388L480.4 385L482.9 382L483 382L486 380.5L489 379.2L492 380.1L493.4 382L495 383.7L497.1 385L498 385.4L501 385.4L502.3 385L504 382.9L504.4 382L504 381.4L503.3 379L502 376L501.4 373L502 370L504 367.3L504.4 367L507 365L508.6 364L510 363.1L513 362.4L516 363.9L516.1 364L516.4 367L516.3 370L516.7 373L518.2 376L519 376.5L522 376.8L525 376.6L528 376.3L529 376L531 375.3L534 373.3L534.4 373L537 371.1L539.1 370L540 369.4L543 367.2L543.2 367L543.4 364L543 363.5L540.7 361L540 360.2L538.4 358L537 355L537.1 352L540 350.3L543 350.1L546 351L548 352L549 353.2L549.9 355L550.3 358L552 360.6L552.3 361L555 363.2L555.9 364L557.9 367L558 367.1L559 370L560.2 373L561 374.6L561.8 376L563.3 379L564 381.1L564.5 382L565.8 385L567 386.5L568.1 388L570 390.3L570.7 391L572.6 394L573 394.8L576 394.5L577.6 394L579 393.6L582 392.4L584.6 391L585 390.8L588 388.5L588.5 388L588 386.3L587.5 385L585 382.7L584.6 382L583.6 379L582.5 376L582 374.4L581.4 373L581.3 370L582 369.2L583.2 367L584.5 364L585 362.1L585.3 361L586.6 358L588 356.6L591 355.3L591.9 355L594 354.1L597 352L597 352L599.8 349L600 348.8L603 346.1L603.3 346L605.4 343L604.9 340L605 337L606 336.3L607.8 334L609 332.6L609.9 331L611 328L611.6 325L612 322.6L612.2 322L613.7 319L615 318L618 317.5L621 317.7L624 317.5L627 316.3L627.5 316L630 314.7L632.9 313L633 312.9L636 311.1L638.5 310L639 309.6L642 307.7L643.5 307L645 305.5L646.2 307L648 309.9L648.1 310L651 310.6L654 310.5L656.8 310L657 310L660 309L662.5 307L663 306.3L664.4 304L666 301.2L666.2 301L669 299.5L672 299.7L675 299.9L678 299L679.5 298L681 295.1L681 295L681 294.9L679.5 292L678 289.5L677.1 289L675 288L672 286.9L670.9 286L669 284.7L667.7 283L666 281.2L665.3 280L663 277.3L662.7 277L660 274.6L658.4 274L657 273.4L654 272.8L651 272.1L649.2 271L650.2 268L651 267.4L654 266.2L657 266.2L660 266.9L662.7 268L663 268.1L666 268.5L669 268.1L669.1 268L672 265L671.8 262L669 261L666.6 262L666 262.3L663 262.7L662.1 262L660 261L657.9 259L657 258.3L654.8 256L654 255L652.4 253L651 250L651 249.9L649.6 247L648 245L647.4 244L645 241L645 241L645 240.9L646.4 238L648 236L648.9 235L651 232.6L651.6 232L654 229.6L654.7 229L657 228.2L660 227.2L662 226L663 225.5L666 223.8L666.8 223L669 221.3L670.3 220L672 218.9L675 217.5L677.3 217L678 216.8L678.5 217L681 218.7L681.6 220L682.3 223L684 225.9L684.1 226L687 228L690 228L691.9 226L693 223.6L693.4 223L696 221.3L699 221.8L702 221.4L703.5 220L705 218.9L708 217.1L711 217.2L714 219.4L714.6 220L717 222.5L717.7 223L720 224.6L723 225.9L723.6 226L726 226.4L727.4 226L729 225.1L730.4 223L732 220.2L732.2 220L735 218.7L736.8 220L738 222.7L738.1 223L738.1 226L740.5 229L741 229.2L744 229.8L747 230.5L750 231.7L750.9 232L753 232.5L755.3 232L756 230.9L756.3 229L756 228.2L754.9 226L753 224.2L751.3 223L750 222.1L748.2 220L747 217.2L746.9 217L745.4 214L744.3 211L745.1 208L746.6 205L747 204.5L749.7 202L750 201.6L753 200.3L756 199.5L759 200L760.7 202L762 203.3L763 205L762.8 208L762 209.7L761.4 211L759.8 214L759.3 217L761.3 220L762 220.4L765 221L768 220.7L770.5 220L771 219.8L774 217.6L774.6 217L776.2 214L777 212.9L780 211.8L783 212.8L785.6 214L786 214.3L787.4 217L787.5 220L787.3 223L786.9 226L786.7 229L789 230.4L792 230.8L795 230.2L796.7 229L798 227.6L799.2 226L800.8 223L801 222.5L804 221.8L805.1 223L805.3 226L804 229L804 229L804 229.1L804.1 232L807 234.4L808 235L810 235.7L813 235.8L816 235.7L818.3 235L818.9 232L817.3 229L816 226.6L815.6 226L814.9 223L815.6 220L816 219.2L817 217L818.5 214L818 211L816 209.8L813 210.6L812.2 211L810 211.9L807 212.9L804.3 214L804 214.2L801 215L798 214.5L795 214.1L793.1 214L792 213.9L789 211.4L788.9 211L789 210.7L789.7 208L792 205.8L795 205.2L796.1 205L798 204.8L801 203.4L802.3 202L803.8 199L804 197.8L804.4 196L805.3 193L807 191.4L808.4 190L810 189.1L813 187.9L815.7 187L816 186.9L819 185.9L821.6 184L822 183.8L825 182.7L828 182.5L831 182.8L833 184L834 184.9L836.9 187L837 187.1L840 187.5L843 187L843.1 187L846 185.7L847.5 184L847.3 181L849 179.7L851.4 178L852 177.8L855 175.8L855.7 175L858 172.7L859.1 172L861 170.8L864 171.2L865.1 172L867 174.5L867.4 175L868.6 178L870 179.7L873 180.7L876 179.7L877.2 178L876.7 175L876.3 172L876.1 169L876.3 166L876.9 163L877.9 160ZM852.5 184L852 184.5L849.2 187L850.8 190L852 191L854.3 193L855 193.5L856.5 196L857.2 199L857.8 202L858 203.1L858.7 205L859.8 208L860.8 211L861 211.3L864 213.1L867 211.2L867.1 211L867 210.3L866.7 208L867 206.8L867.2 205L868.4 202L869.4 199L869 196L867 193.4L866.6 193L864.2 190L864 189.6L862.9 187L861.4 184L861 183.7L858 182.5L855 182.8ZM824.5 199L825 199.3L825.3 199L825 198.7ZM714.3 238L714 239.2L712.9 241L714 241.2L717 242.4L718.3 244L720 245.2L723 246.7L726 245.7L727.5 244L728.2 241L726.7 238L726 237.3L723 235.9L720 236L717 237.1ZM689 253L687.7 256L688.9 259L690 260.2L693 259.9L693.6 259L693.5 256L693 255.2L690.4 253L690 252.7ZM678.6 271L678.2 274L680.4 277L681 277.7L684 279.9L686.3 277L686.3 274L685.4 271L684 269.7L681 269.6ZM636 276.3L639 275.5L642 276.6L642.2 277L642.5 280L642 282.4L641.7 283L640.3 286L640.5 289L642 291.8L642.1 292L642.8 295L642.7 298L642 300.2L640.3 301L639 301.3L638.3 301L636 300.1L635 298L634.9 295L635.2 292L635.6 289L635.6 286L634.6 283L633 280.2L632.9 280L633 279.8L634.6 277ZM522 358L525 357.4L526.2 358L525.7 361L525 361.5L522 361.7L520.6 361L522 358ZM390 422.8L393 422.5L396 422.8L397.4 424L396.2 427L396 427.3L393 428.5L390 427.3L389.4 427L387.4 424ZM339 429.1L342 427.5L345 427.7L347.8 430L348 431.1L348.2 433L348 433.5L346.1 436L345 437L342.5 439L342 439.5L339 441.1L336 441.1L333 439L333.4 436L335.1 433L336 432L337.9 430ZM249 460.9L249.6 463L249 464.3L248.4 463ZM93 508.1L93.9 511L93.3 514L93 514.3L90 515.5L90 514L90 511L90 509.1ZM99 534.4L102 533.9L104.3 535L105 536.4L105.5 538L105 538.9L103.9 541L102 542.6L99 543.3L96 543.9L95.9 544L95.3 547L95.7 550L96 551.3L96.5 553L97.1 556L96.5 559L96 559.3L93 561L90 561.6L90 559L90 556L90 553L90 550L90 547L90 544L90 541.2L92.7 541L93 541L95 538L96 537.1L98.1 535Z"/>
<path fill="#ffe072" d="M852 234.8L855 234.6L857 235L858 235.4L861 237.1L863.7 238L864 238.6L865.4 241L864 241.7L861 242.6L858 243.5L855 244L852 243.1L849.8 241L849 239.8L846.6 238L849 235.1L849.3 235ZM870 249.9L873 249.7L874.9 250L876 250.3L879 251.4L881.5 253L882 256L882 256L882 256L879 258.6L877.6 259L876 260.1L875.4 262L875.4 265L874.7 268L873.9 271L873.5 274L874.1 277L875.3 280L876 281.2L877.8 283L879 283.7L882 283.1L882.1 283L882.5 280L882 277.9L881.8 277L882 275.1L882.1 274L882.8 271L882.8 268L882.2 265L882.4 262L885 260.1L888 260.2L891 260.9L894 261.7L896.7 262L897 262L897 265L897 268L897 271L897 274L897 277L897 280L897 283L897 286L897 289L897 292L897 295L897 298L897 301L897 304L897 307L897 310L897 313L897 316L897 319L897 322L897 325L897 328L897 331L897 334L897 337L897 340L897 343L897 346L897 349L897 352L897 355L897 358L897 361L897 364L897 367L897 370L897 373L897 376L897 379L897 382L897 385L897 388L897 391L897 394L897 397L897 400L897 403L897 406L897 409L897 412L897 415L897 418L897 421L897 424L897 427L897 430L897 433L897 436L897 439L897 442L897 445L897 448L897 451L897 454L897 457L897 460L897 463L897 466L897 469L897 472L897 475L897 478L897 481L897 484L897 487L897 490L897 493L897 496L897 499L897 502L897 505L897 508L897 511L897 514L897 517L897 520L897 523L897 526L897 529L897 532L897 535L897 538L897 541L897 544L897 547L897 550L897 553L897 556L897 559L897 562L897 565L897 568L897 571L897 574L897 577L897 580L897 583L897 586L897 589L897 592L897 595L897 598L897 601L897 604L897 607L897 610L897 613L897 616L897 619L897 622L897 625L897 628L897 631L897 634L897 637L897 640L897 643L897 646L897 649L897 652L897 655L897 658L897 661L897 664L897 667L897 670L897 673L897 676L897 679L897 682L897 685L897 688L897 691L897 694L897 697L894 697L891 697L888 697L885 697L882 697L879 697L876 697L873 697L870 697L867 697L864 697L861 697L858 697L855 697L852 697L849 697L846 697L843 697L840 697L837 697L834 697L831 697L828 697L825 697L822 697L819 697L816 697L813 697L810 697L807 697L804 697L801 697L798 697L795 697L792 697L789 697L786 697L783 697L780 697L777 697L774 697L771 697L768 697L765 697L762 697L759 697L756 697L753 697L750 697L747 697L744 697L741 697L738 697L735 697L732 697L729 697L726 697L723 697L720 697L717 697L714 697L711 697L708 697L705 697L702 697L699 697L696 697L693 697L690 697L687 697L684 697L681 697L678 697L675 697L672 697L669 697L666 697L663 697L660 697L657 697L654 697L651 697L648 697L645 697L642 697L639 697L636 697L633 697L630 697L627 697L624 697L621 697L618 697L615 697L612 697L609 697L606 697L603 697L600 697L597 697L594 697L591 697L588 697L585 697L582 697L579 697L576 697L573 697L570 697L567 697L564 697L561 697L558 697L555 697L552 697L549 697L546 697L543 697L540 697L537 697L534 697L531 697L528 697L525 697L522 697L519 697L516 697L513 697L510 697L507 697L504 697L501 697L498 697L495 697L492 697L489 697L486 697L483 697L480 697L477 697L474 697L471 697L468 697L465 697L462 697L459 697L456 697L453 697L450 697L447 697L444 697L441 697L438 697L435 697L432 697L429 697L426 697L423 697L420 697L417 697L414 697L411 697L408 697L405 697L402 697L399 697L396 697L393 697L390 697L387 697L384 697L381 697L378 697L375 697L372 697L369 697L366 697L363 697L360 697L357 697L354 697L351 697L348 697L345 697L342 697L339 697L336 697L333 697L330 697L327 697L324 697L321 697L318 697L315 697L312 697L309 697L306 697L303 697L300 697L297 697L294 697L291 697L288 697L285 697L282 697L279 697L276 697L273 697L270 697L267 697L264 697L261 697L258 697L255 697L252 697L249 697L246 697L243 697L240 697L237 697L234 697L231 697L228 697L225 697L222 697L219 697L216 697L213 697L210 697L207 697L204 697L201 697L198 697L195 697L192 697L189 697L186 697L183 697L180 697L177 697L174 697L171 697L168 697L165 697L162 697L159 697L156 697L153 697L150 697L147 697L144 697L141 697L138 697L135 697L132 697L129 697L126 697L123 697L120 697L117 697L114 697L111 697L108 697L105 697L102 697L99 697L96 697L93 697L90 697L90 694L90 691L90 688L90 685L90 682L90 679L90 676L90 673L90 670L90 667L90 664L90 661L90 658L90 655L90 652L90 649L90 646L90 643L90 640L90 637L90 634L90 631L90 628L90 625.5L90.6 625L93 622.9L93.7 622L96 619.5L96.6 619L99 617.7L102 616.6L103.9 616L105 615.3L106.9 613L107.4 610L107.4 607L107.4 604L107.9 601L108 600.1L108.3 598L108.7 595L110.2 592L111 591.3L113.2 592L114 592.4L115.9 595L117 596.1L118.9 598L120 598.7L123 600.9L123.1 601L125.2 604L126 605.9L126.4 607L127.4 610L128.8 613L129 613.3L132 615.8L132.4 616L135 617.6L137.3 619L138 620L138.8 619L141 617.9L141.9 616L144 613.1L144.1 613L145.6 610L146.6 607L147 605.2L147.5 604L149.2 601L150 600.2L153 599.7L156 600.3L159 599.4L159.7 598L160.5 595L160.2 592L159 589.5L158.6 589L156 586.7L155 586L153.8 583L156 580.9L159 580.4L162 581.2L165 581.6L168 581.1L170.1 580L171 579.6L174 577.8L175.3 577L177 575.9L179.2 574L180 571L179.4 568L179 565L180 562.4L180.4 562L183 560.8L186 560.1L187.6 559L187.7 556L187.4 553L187.6 550L189 547.2L189.1 547L191.8 544L192 543.8L195 541.8L198 541.3L201 542.5L202.9 544L202.8 547L202.9 550L203.5 553L204 554L204.5 553L207 550.6L207.8 550L210 548L213 548.1L216 548.3L219 548.2L222 548.5L225 548.9L228 548.6L231 547.2L231.4 547L233.7 544L232.5 541L231 539.5L228 538.6L225 539L222 539.9L219 540.2L216 539.1L214.5 538L216 536.1L216.6 535L219 533.7L222 532.2L222.5 532L225 531.1L228 531.6L228.8 532L231 533.1L234 533.5L237 532.1L237.1 532L238.4 529L239.4 526L240 525.4L243 523.8L246 523.2L247.7 523L249 522.9L252 522.5L255 521.1L256 520L258 517.6L258.5 517L260.3 514L261 512.7L262.3 511L264 509.1L266.7 508L267 507.9L267.7 508L270 508.2L273 508.7L276 508L276 508L279 505.4L279.7 505L282 504.1L285 504.5L286 505L288 505.9L291 507.3L294 507.7L297 507.6L299.1 508L300 508.2L303 509.8L306 511L306.1 511L309 511.3L309.9 511L312 509.7L312.7 508L313.2 505L314.1 502L315 500.7L317 499L318 498.2L321 497.5L324 498.9L324.1 499L327 501.7L330 499.3L330.1 499L330 498.3L329.5 496L327.5 493L327 492.2L325.6 490L325.4 487L326.4 484L327 483L328.1 481L330 478.3L330.4 478L333 475.9L336 475.9L339 477.2L341 478L342 478.3L345 478.3L345.6 478L348 476.4L351 475.9L353.2 478L354 479.2L354.9 481L355.8 484L357 485.6L360 486.1L363 485.3L366 484L366.2 484L369 483.4L370.6 484L372 484.8L375 486.1L376.5 484L378 482.7L379.1 481L380.8 478L381 477.4L382.6 475L384 474.1L387 474.2L390 474.8L391.1 475L393 475.2L396 475.3L398.5 475L399 474.9L402 472.2L402.1 472L402.5 469L402 467.7L401.6 466L400.9 463L400.3 460L399.7 457L399.8 454L402 451.2L402.2 451L405 448.7L406 448L408 446.7L410.3 445L411 444.5L414 443.4L417 442.6L420 445L420 445L423 446L426 445.3L426.7 445L429 444L432 443L435 443.3L438 443.8L441 443.3L444 443.2L446.6 445L447 445.5L448.5 448L448.9 451L449.8 454L450 454.1L453 456.9L453 457L455.1 460L456 462L456.4 463L458.3 466L459 466.6L462 467.8L465 467.5L467.3 466L468 464.7L469 463L468.6 460L468 459.2L465.8 457L465 456.6L462 455.4L459 454.1L458.9 454L456.8 451L456.9 448L459 445.1L459.1 445L462 443L464.7 442L465 441.8L468 441.7L468.7 442L471 443.1L474 445L474 445.2L477 447.7L477.6 445L480 443.6L483 443.7L485.5 445L486 445.1L489 446.4L492 446.6L495 445.5L496 445L498 443.8L501 443.2L504 444L505.9 445L507 445.8L510 446.6L513 445.5L513.4 445L514.5 442L515.2 439L515.8 436L516 434L516.1 433L516.3 430L519 427.1L519.2 427L522 425.9L525 425.1L528 425.6L530.2 427L531 427.2L534 427.5L537 427.2L537.5 427L540 424.7L540.6 424L541.2 421L541.5 418L542.1 415L542.5 412L543 410.2L543.3 409L546 406L546 406L549 405.2L552 405.4L554.4 406L555 406.2L558 406.7L561 406.2L564 406.2L567 407.2L570 408.5L571.4 409L573 409.5L576 410.1L579 410.2L582 409.8L583.1 409L585 407.8L588 406.2L588.4 406L591 405.3L594 405.2L597 405.3L600 405.4L603 405.1L605.8 403L606 402.8L608.7 400L609 399.8L612 398.5L615 397.8L617.5 397L618 396.7L621 394.9L621.7 394L622.2 391L621.4 388L621 387.1L619.6 385L618 382.8L616.5 382L615 380.3L612 379.8L610.1 379L611.3 376L612 375.9L612.5 376L615 377.1L618 377.6L621 377.5L624 377L625.6 376L627 373.3L627.1 373L627.2 370L627.2 367L627 364.4L627 364L627 363L627.1 361L628.6 358L630 355.8L630.4 355L631.4 352L632.7 349L633 348.5L636 347L639 348.3L640 349L642 350.1L645 351.4L648 351.8L651 351.1L654 349.7L655.3 349L657 348.5L660 347.9L663 348L666 348.7L666.9 349L669 349.8L672 350.3L675 349.4L675.6 349L678 347.6L680.9 346L681 345.9L684 344L685.1 343L687 340L687 339.9L689.9 337L690 336.9L693 336.2L696 335.6L699 335L702 334.6L705 334.3L705.5 334L707.1 331L705 329.6L702 329.7L699 329.3L696 328.2L695.5 328L693 327.3L690 326.3L688.3 325L687.4 322L687.6 319L687.7 316L687.2 313L687.3 310L690 307.5L690.5 307L692.9 304L693 303.7L694 301L695.4 298L696 297.2L699 296L702 297.4L702.7 298L705 299.8L706.9 301L708 301.9L711 303.8L711.4 304L714 305.8L717 306.7L717.8 307L720 307.9L723 310L723 310L725.2 313L723.5 316L724.3 319L726 319.8L727.2 319L727.5 316L726.8 313L729 311.6L730.6 310L732 309.2L735 308.2L738 308L741 308.3L742.5 310L744 312.4L744.2 313L746.2 316L747 317L749.4 319L750 319.5L753 319.8L754.2 319L756 317.9L757.9 316L759 314L759.5 313L760.2 310L760.1 307L759 304.7L758.8 304L757.3 301L756.6 298L759 295.1L759.2 295L762 294.2L765 294.5L766.5 295L768 296L769.7 298L769.5 301L769.1 304L770.1 307L771 307.7L774 308.9L777 308.7L779.4 307L780 305.4L780.3 304L780 303L779.2 301L777.4 298L777.1 295L780 292.7L782.6 292L783 291.9L783.3 292L786 292.9L788.1 295L789 295.8L791.2 298L792 298.7L794.7 301L795 301.3L798 303.5L799.4 304L801 304.7L804 304.4L804.7 304L807 302.6L808.4 301L809.3 298L808.7 295L807.1 292L807 291.8L805.3 289L804 286.1L803.9 286L803.7 283L804 282L804.8 280L807 277.4L810 277.3L813 278L816 278.2L818.8 277L819 276.7L821.3 274L820.6 271L820.1 268L819 265.4L818.9 265L817.2 262L816 259.6L815.5 259L816 257.8L817.7 256L819 255.6L822 255.8L822.3 256L825 257.7L826.2 259L827.6 262L827.5 265L826.3 268L825 270.6L824.6 271L822.4 274L822.1 277L823.4 280L825 281.9L825.8 283L828 285.7L828.5 286L831 288L834 287.7L836.2 286L837 284.7L837.5 283L838 280L838.9 277L840 274.9L840.8 274L843 271.8L845.7 271L846 270.8L846.8 271L849 271.3L852 272.2L855 271.3L855.2 271L855 269.4L854.7 268L853.3 265L855 263L855.7 262L858 261.2L861 260.3L864 259.3L864.7 259L866.9 256L867 255.5L867.5 253L869.8 250ZM829.8 301L828 301.8L826.7 304L825 306.8L824.9 307L825 309.3L828 309.5L831 308.4L833.7 307L834 306.1L834.6 304L834 303.3L831.5 301L831 300.6ZM778.9 337L780 337.1L780.3 337L780 337ZM767.7 340L768 342.5L771 341.2L773.7 340L771 339.7L768 339.7ZM646.7 358L645 360L644.3 361L643.1 364L643.5 367L645 368.2L648 368.2L651 367.8L654 367.2L654.5 367L657 365.2L658 364L658.4 361L657 359L656 358L654 356.7L651 355.8L648 356.4ZM473.6 451L473.3 454L474 454.8L477 454.1L477 454L477.5 451L477 448.2L474 449.7ZM488 460L486 460.9L484 463L485.3 466L486 466.3L489 466.1L489.4 466L492 463.9L493.2 463L492.4 460L492 459.9L489 459.7ZM254.5 532L252 533.1L250.4 535L249.4 538L249 539.3L248.4 541L246.7 544L246 546.8L245.9 547L246 547.1L248.6 550L249 550.2L252 551.7L254.9 553L255 553L255.3 553L258 551.7L261 550L261.2 550L264 548.1L265.7 547L267 545.2L267.4 544L267 543.4L266.3 541L265.8 538L264 535.2L263.9 535L261 533.1L258 532L257.6 532L255 531.8ZM197.4 559L195 560.7L192.8 562L192 564L191.7 565L190 568L189 569L187.3 571L186.1 574L187.2 577L189 578.7L192 579.4L194.2 577L195 575.7L195.7 574L197 571L198 569.7L199.4 568L201 566.3L201.9 565L202.8 562L202.6 559L201 556.5L198 558.7ZM158.3 613L157.9 616L158.4 619L159 620.2L160.7 619L162 618.1L163.1 616L164 613L162 610.8L159 611.7ZM101.4 631L99 631.4L96.1 634L96.3 637L97.4 640L98.6 643L99 643.8L99.9 643L102 642L103.7 640L105 638.7L107.4 637L108 636.3L109.6 637L111 637.4L113.9 640L114 640.1L114.6 640L117 639.8L118.5 637L118.8 634L117 631.9L114 631.1L111 631.3L108 631.3L106.3 631L105 630.9L102 630.9ZM777 255.5L780 254.3L783 254.1L786 254.3L789 255.4L790 256L792 257.1L795 258.2L798 258.7L799.6 259L801 259.4L803.5 262L803 265L801 267.3L799.7 268L798 268.5L795 269.1L792 269.3L789 268.3L788.6 268L786 265.8L784.3 265L783 264.4L780 264L778.3 265L777 265.8L775 268L774 269.1L771 269.4L768 268.1L767.7 268L765.9 265L766.9 262L768 259.8L768.8 259L771 257.5L774 256.9L775.9 256ZM840 254.9L843 254.1L846 254.8L847 256L848.5 259L849 261.2L849.5 262L849 262.7L846.4 265L846 265.2L843.3 265L843 265L840 263.9L837.5 262L837 260.2L836.7 259L837 258.5L838.4 256ZM729 276.8L732 275.9L733.7 277L735 277.8L738 279.8L739 280L741 280.5L744 280.1L746.5 280L747 280L747.1 280L750 280.9L753 282.9L753.1 283L753 283.2L752.3 286L750 287.9L748.6 289L747 289.9L744 291L741.7 292L741 292.3L738 294.1L737.1 295L735 297.2L734.2 298L732 299.4L729 299.5L726 298.8L724.4 298L723 296.1L722.4 295L723 294.1L726 292.2L726.6 292L729 291.2L731.7 289L731.3 286L729.8 283L729 281.3L728.5 280L728.8 277ZM666 329.7L669 328.6L671.4 331L670.8 334L669 335.4L666 335.1L665 334L665.1 331Z"/>
<path fill="#ffdd55" d="M885 308.6L888 308.6L890.8 310L891 310.1L893.8 313L894 315L894.1 316L894 316.2L892.5 319L891 320.9L890.1 322L888.3 325L888 326.2L887.4 328L888 331L888 331L891 332.5L894 332.5L897 332L897 334L897 337L897 340L897 343L897 346L897 349L897 352L897 355L897 355.3L896.3 355L894 354.2L891 353.8L888 354.8L887.5 355L885 358L885 358.1L884.9 358L883.7 355L883.2 352L882.9 349L882.6 346L882 343.9L881.1 343L879 342.3L876 342.1L873 341.1L871.9 340L871.7 337L872.6 334L873 333L874.1 331L875.2 328L876 325.7L876.3 325L877.7 322L878.8 319L879 318.3L879.5 316L880.5 313L882 310.8L882.9 310ZM813 336.6L813.2 337L813 337.8L811.5 337ZM834 336.3L837 336.6L837.2 337L838.4 340L840 342.4L840.6 343L843 344.5L846 344.9L849 344.9L852 344L854 343L855 342.6L858 341.7L861 342.2L862.4 343L864 345.1L864.5 346L864.1 349L864 349.2L862.6 352L861 354.7L860.5 355L861 356.1L861.5 358L862.4 361L861.3 364L864 367L864 367L867 369.3L867.8 370L870 371.2L873 371.9L876 371.9L879 371L880.2 370L882 368.2L883.7 367L885 365.6L888 365.1L891 364.8L894 364.1L894.7 364L897 363.3L897 364L897 367L897 370L897 373L897 376L897 379L897 382L897 385L897 388L897 391L897 394L897 397L897 400L897 403L897 406L897 409L897 412L897 415L897 418L897 421L897 424L897 427L897 430L897 433L897 436L897 439L897 442L897 445L897 448L897 451L897 454L897 457L897 460L897 463L897 466L897 469L897 472L897 475L897 478L897 481L897 484L897 487L897 490L897 493L897 496L897 499L897 502L897 505L897 508L897 511L897 514L897 517L897 520L897 523L897 526L897 529L897 532L897 535L897 538L897 541L897 544L897 547L897 550L897 553L897 556L897 559L897 562L897 565L897 568L897 571L897 574L897 577L897 580L897 583L897 586L897 589L897 592L897 595L897 598L897 601L897 604L897 607L897 610L897 613L897 616L897 619L897 622L897 625L897 628L897 631L897 634L897 637L897 640L897 643L897 646L897 649L897 652L897 655L897 658L897 661L897 664L897 667L897 670L897 673L897 676L897 679L897 682L897 685L897 688L897 691L897 694L897 697L894 697L891 697L888 697L885 697L882 697L879 697L876 697L873 697L870 697L867 697L864 697L861 697L858 697L855 697L852 697L849 697L846 697L843 697L840 697L837 697L834 697L831 697L828 697L825 697L822 697L819 697L816 697L813 697L810 697L807 697L804 697L801 697L798 697L795 697L792 697L789 697L786 697L783 697L780 697L777 697L774 697L771 697L768 697L765 697L762 697L759 697L756 697L753 697L750 697L747 697L744 697L741 697L738 697L735 697L732 697L729 697L726 697L723 697L720 697L717 697L714 697L711 697L708 697L705 697L702 697L699 697L696 697L693 697L690 697L687 697L684 697L681 697L678 697L675 697L672 697L669 697L666 697L663 697L660 697L657 697L654 697L651 697L648 697L645 697L642 697L639 697L636 697L633 697L630 697L627 697L624 697L621 697L618 697L615 697L612 697L609 697L606 697L603 697L600 697L597 697L594 697L591 697L588 697L585 697L582 697L579 697L576 697L573 697L570 697L567 697L564 697L561 697L558 697L555 697L552 697L549 697L546 697L543 697L540 697L537 697L534 697L531 697L528 697L525 697L522 697L519 697L516 697L513 697L510 697L507 697L504 697L501 697L498 697L495 697L492 697L489 697L486 697L483 697L480 697L477 697L474 697L471 697L468 697L465 697L462 697L459 697L456 697L453 697L450 697L447 697L444 697L441 697L438 697L435 697L432 697L429 697L426 697L423 697L420 697L417 697L414 697L411 697L408 697L405 697L402 697L399 697L396 697L393 697L390 697L387 697L384 697L381 697L378 697L375 697L372 697L369 697L366 697L363 697L360 697L357 697L354 697L351 697L348 697L345 697L342 697L339 697L336 697L333 697L330 697L327 697L324 697L321 697L318 697L315 697L312 697L309 697L306 697L303 697L300 697L297 697L294 697L291 697L288 697L285 697L282 697L279 697L276 697L273 697L270 697L267 697L264 697L261 697L258 697L255 697L252 697L249 697L246 697L243 697L240 697L237 697L234 697L231 697L228 697L225 697L222 697L219 697L216 697L213 697L210 697L207 697L204 697L201 697L198 697L195 697L192 697L189 697L186 697L183 697L180 697L177 697L174 697L171 697L168 697L165 697L162 697L159 697L156 697L153 697L150 697L147.5 697L147 696.1L145.7 694L144 691.3L143.7 691L141 688.1L138 688.2L135 690.1L133.9 691L132 693.6L129.9 694L129 694.3L128.9 694L127.3 691L127.3 688L127.7 685L127.7 682L127.1 679L126.6 676L127.1 673L128.4 670L129 668.7L130.1 667L132 664.9L135 664.3L138 665.7L139 667L139.4 670L139.1 673L139.2 676L140.7 679L141 679.5L144 681.7L147 681.8L150 681.3L153 680.3L155.9 679L156 678.9L158.8 676L159 675.4L159.7 673L160.2 670L160.4 667L160.3 664L159.7 661L159 658.8L158.8 658L159 657.3L160.3 655L162 654L163.4 652L165 650.3L165.8 649L168 646.6L168.8 646L171 644.1L174 643.7L177 644.8L178.4 646L180 647L181.9 649L183 650L186 651.9L189 651.9L192 649.5L192.4 649L193.5 646L193 643L192 641.6L190.8 640L189.5 637L189.8 634L190 631L189 628.2L188.8 628L186 625.6L185.3 625L186 624.5L189 624.5L192 625L195 625L198 624.7L201 624.6L202.8 625L204 625.3L207 626.2L210 626L211.2 625L213 622.1L213.1 622L215.5 619L216 618.6L219 618.7L220.8 619L222 619.4L222.8 619L224.7 616L225 613L225 612.7L225.3 610L227.6 607L228 606.8L229.4 607L231 607.3L234 607.7L235.4 607L237 606.1L238.6 604L240 602.6L243 601.2L243.8 601L246 600.6L249 598.9L250 598L252 596.4L255 595.4L258 595.6L261 596.2L264 597L267 596.2L267.5 595L267.7 592L267 589L267 589L264 586.8L263.1 586L261 583.9L260.4 583L259.4 580L259.1 577L260 574L261 573.2L264 572.5L266.8 574L267 574.1L268.6 577L269.9 580L270 580.2L272.1 583L273 583.5L275.3 583L276 582.9L279 582.2L282 581.3L284.4 580L285 579.6L288 577.7L289.3 577L291 575.5L292.7 574L293.1 571L292.3 568L294 567.3L297 567.4L300 565L298 562L297.3 559L297.1 556L297 554.9L296.7 553L295 550L294 548.1L293.5 547L293.9 544L294 543.5L296.2 541L297 540.6L297.5 541L300 542.6L302.6 544L303 544.2L306 546L307.3 547L309 548.3L312 548.8L314.9 547L315 546.9L315.9 544L315 541.6L314.7 541L312 538.2L311.7 538L309 536.1L307.5 535L306 532.2L305.9 532L306 531.9L309 530.6L312 532L312 532L315 534L318 534.7L319.5 535L321 535.6L324 536.4L326.8 535L327 534.7L327.4 532L328.5 529L329.3 526L330 524.6L330.9 523L333 521.3L334.4 520L336 518.9L338.2 517L339 516.3L341.7 514L342 513.5L345 511.9L348 513.3L348.6 514L350.9 517L351 517.1L353.8 520L354 520.2L357 521.6L360 521.2L361.2 520L363 517.9L363.9 517L366 515.6L367.4 514L369 512.3L369.6 511L370.9 508L372 505.1L372 505L372.8 502L374.2 499L375 498.4L378 496.3L378.3 496L381 493.9L382.1 493L383.7 490L384 489.2L386 487L387 486L389.9 484L390 484L393 483.5L396 483.1L399 483L402 483L405 481.8L405.8 481L408 478.9L409.2 478L411 476.7L413.4 475L414 474.7L416.1 475L417 475.2L419.4 478L420 478.8L423 480.3L426 479.9L429 480.1L431.7 481L432 481.1L435 481.5L437.6 481L438 481L441 480.1L444 478.9L445.9 478L447 477.3L450 475.9L453 475.3L456 476.1L458.7 478L459 478.2L462 479.3L465 480.1L468 479L469.2 478L471 476.4L474 476.4L477 477.9L477.2 478L480 478.6L482.4 478L483 477.8L486 475.3L486.4 475L489 473L491 472L492 471.6L495 471L498 470.9L501 470.8L504 469.4L504.4 469L506.7 466L507 465.6L509.3 463L510 461.8L511.4 460L513 458.8L516 457.8L519 457.6L519.7 457L521.9 454L522 453.8L523.9 451L525 448.5L525.4 448L526.2 445L526.7 442L528 440.8L530 439L531 438.1L533.7 436L534 435.9L537 435.6L540 435.4L543 435.2L546 435.7L546.6 436L549 438.9L549.1 439L549 439.1L546 439.5L543 439.5L540 439L539.4 439L537 438.5L536.8 439L534 440.6L532.8 442L531.9 445L532.2 448L533.3 451L534 452.1L535.9 454L537 455.4L539.8 457L540 457.4L543 459.5L543.5 460L546 462.8L546.2 463L546 463.7L543 464L541.9 463L540 461L538.4 460L537 459L534 458.2L531 457.5L528 457.5L525 458.3L522 459.2L521.3 460L521.1 463L522 464.8L525 465.5L527.1 466L528 466.1L531 468L531.9 469L534 470.8L536.3 472L537 472.2L540 472.2L542.3 472L543 471.9L546 471.3L549 470.4L550.4 469L549 466.5L547.8 466L549 465.6L552 464.8L555 463.9L556.4 463L558 461.8L558.9 460L559.8 457L559.6 454L558 451.2L557.8 451L555 448.8L553.7 448L552.5 445L555 442.8L558 443.6L561 444L564 444.3L567 444.7L570 444.9L573 444.6L576 443.9L579 443.7L582 444.3L585 444.6L588 442.6L588.5 442L591 439.6L591.7 439L594 436.9L595.4 436L597 434.7L600 434.4L603 434.1L606 433.9L608.6 433L609 431.2L609.1 430L609 429.7L608.1 427L606.9 424L608 421L609 420.9L612 420.5L615 419.8L618 419L621 418.3L622.6 418L624 417.7L627 417.5L630 417.8L630.8 418L633 419.3L635.5 421L636 421.4L639 422.8L640.8 424L642 424.6L644.3 427L645 429.8L645 430L645 432.7L645 433L645 433L648 434.1L651 433.4L652.3 433L654 432.1L657 430.8L660 430.1L663 430.4L664.8 430L663 429.6L660 429.6L658.9 427L658.1 424L657.8 421L657.3 418L657 416.8L656.5 415L656.6 412L657 411L658.4 409L660 407.7L663 408L664.5 409L666 410.2L667.8 412L669 413.7L670.5 415L672 416.1L675 417.9L675.1 418L677.5 421L678 422.5L681 421.9L681.2 421L682 418L683.4 415L684 413.9L686.3 412L687 411.6L687.7 412L690 412.6L693 413.9L696 413.8L697.3 412L699 410.4L700.7 409L702 408.1L705 407.5L708 408.1L709.4 409L711 411.9L711 412L711.2 415L711.2 418L711.6 421L714 423.3L716 424L717 424.2L720 424.4L723 424.5L726 425.1L729 425.6L732 426L735 426.6L737.1 427L738 427.2L741 427.9L744 428.7L747 428.8L750 427.6L752.7 427L753 426.9L753.6 427L756 427.4L759 427.3L760.2 427L762 426.6L765 425.7L768 425.1L771 424.8L773.4 424L774 423.6L776.1 421L776.9 418L776.6 415L777 412.9L777.3 412L780 410.4L783 410.2L786 410L788 409L789 408.2L791 406L792 403.8L792.3 403L792.9 400L794.1 397L795 395.9L796.2 394L798 392L799 391L799.9 388L798 385.3L797.8 385L795 382.7L793.8 382L792 380.4L789 379.9L786 381.6L784.6 379L786 377.7L788.5 376L789 375.3L789.6 373L790.6 370L792 367L792 367L793.9 364L795 361.7L795.2 361L796.9 358L798 356.6L801 355.9L804 356.4L807 356.2L808.6 355L810 353.5L811 352L813 350.1L814.5 349L816 346.9L816.8 346L817.2 343L819 340.1L819.2 340L822 339.1L825 339.6L828 339.6L831 338L832.7 337ZM826.6 349L825.3 352L825 353.2L824.9 355L825 356.2L825.2 358L826.6 361L828 362.7L829.8 364L831 364.7L834 365.6L837 366L840 366.1L843 366L846 365.7L849 365.7L852 366.8L852.3 367L855 367.8L858 367.4L859.5 367L860.4 364L858 363L855 361.3L854.7 361L852.3 358L852 357.8L849 356.3L846 355.1L845.8 355L843 353L841.4 352L840 350.8L837 350.1L834 349.9L831 349.5L829.2 349L828 347.6ZM814.3 373L813.1 376L813 377.4L812.9 379L812.5 382L812.1 385L812.6 388L813 388.7L814.5 391L816 393.8L816.1 394L817.2 397L819 398.9L822 398.3L825 397L825.1 397L828 395.4L831 394.7L832.5 394L834 392.8L836 391L837 388.3L837.1 388L837 387.5L836.4 385L834.1 382L834 381.9L831 381.4L828 379.8L827.6 379L826.2 376L825 373.4L824.6 373L822 371.6L819 371.1L816 371.7ZM520.3 475L522 475.1L522.1 475L522 474.9ZM518.9 478L519 478.2L519.3 478L519 475.7ZM395.4 502L395.2 505L396 507.2L396.9 508L399 508.6L400.1 508L402 505.4L402.3 505L402 503.8L401.2 502L399 500.1L396 500.7ZM232.7 631L234 633.7L234.5 634L237 634.4L238.1 634L238.3 631L237 630L234 629.1ZM179.3 670L177 670.5L174 672L173 673L171.8 676L172.4 679L174 680.3L177 681.5L180 681.2L183 680.2L186 679.3L187.3 679L189 678.5L192 678L195 677.7L197.8 676L196.8 673L195 671.3L193 670L192 669.6L189 668.9L186 669L183 669.4L180 669.9ZM795 341.3L798 342.2L800.5 343L800.9 346L798 347.2L795 346.4L794.7 346L793.2 343ZM684 378.7L684.2 379L684.7 382L684 383.5L681 382.5L680.3 382L681 379.8L682.1 379ZM663 393.5L663.7 394L663 394.4L662.6 394ZM570 420.2L573 419.4L576 420.1L576.5 421L576.6 424L576 426.8L575.9 427L573.9 430L573 431L570 431.4L567.6 430L567 428.6L566.8 427L566 424L567 421.5L567.6 421ZM228 572.5L231 572.2L234 573.7L234.3 574L237 576.3L237.6 577L237 579.9L236.9 580L234 580.5L231 580L230.8 580L228 579.5L225 578.6L223.5 577L225 574.6L225.9 574ZM207 587L207.8 589L208 592L207 592.9L204 593.9L201.3 595L201 595.1L200.9 595L200.8 592L201 591.2L204 589.1L204.2 589ZM132 638.9L132.5 640L132.9 643L132 644.1L129 645.1L127.2 643L129 641L130.5 640ZM108 672.7L111 671.1L114 672.2L114.5 673L115.2 676L114 678.1L113.1 679L111 680.3L108 681.8L107.7 682L105 683.2L102 684.4L99 684.6L96.8 682L97.9 679L99 677.6L100.8 676L102 675.4L105 674.6L107.5 673ZM93 687.4L93.3 688L93 688.8L92.2 691L90 692.6L90 691L90 688L90 686Z"/>
<path fill="#ffcb00" d="M897 373.9L897 376L897 378.9L895.9 376ZM897 388.2L897 391L897 394L897 397L897 400L897 403L897 406L897 409L897 412L897 415L897 418L897 421L897 424L897 427L897 430L897 433L897 436L897 439L897 442L897 445L897 448L897 451L897 454L897 457L897 460L897 463L897 466L897 469L897 472L897 475L897 478L897 481L897 484L897 487L897 490L897 493L897 496L897 499L897 502L897 505L897 508L897 511L897 514L897 517L897 520L897 523L897 526L897 529L897 532L897 535L897 538L897 541L897 544L897 547L897 550L897 553L897 556L897 559L897 562L897 565L897 568L897 571L897 574L897 577L897 580L897 583L897 586L897 589L897 592L897 595L897 598L897 601L897 604L897 607L897 610L897 613L897 616L897 619L897 622L897 625L897 628L897 631L897 634L897 637L897 640L897 643L897 646L897 649L897 652L897 655L897 658L897 661L897 664L897 667L897 670L897 673L897 676L897 679L897 682L897 685L897 688L897 691L897 694L897 697L894 697L891 697L888 697L885 697L882 697L879 697L876 697L873 697L870 697L867 697L864 697L861 697L858 697L855 697L852 697L849 697L846 697L843 697L840 697L837 697L834 697L831 697L828 697L825 697L822 697L819 697L816 697L813 697L810 697L807 697L804 697L801 697L798 697L795 697L792 697L789 697L786 697L783 697L780 697L777 697L774 697L771 697L768 697L765 697L762 697L759 697L756 697L753 697L750 697L747 697L744 697L741 697L738 697L735 697L732 697L729 697L726 697L723 697L720 697L717 697L714 697L711 697L708 697L705 697L702 697L699 697L696 697L693 697L690 697L687 697L684 697L681 697L678 697L675 697L672 697L669 697L666 697L663 697L660 697L657 697L654 697L651 697L648 697L645 697L642 697L639 697L636 697L633 697L630 697L627 697L624 697L621 697L618 697L615 697L612 697L609 697L606 697L603 697L600 697L597 697L594 697L591 697L588 697L585 697L582 697L579 697L576 697L573 697L570 697L567 697L564 697L561 697L558 697L555 697L552 697L549 697L546 697L543 697L540 697L537 697L534 697L531 697L528 697L525 697L522 697L519 697L516 697L513 697L510 697L507 697L504 697L501 697L498 697L495 697L492 697L489 697L486 697L483 697L480 697L477 697L474 697L471 697L468 697L465 697L462 697L459 697L456 697L453 697L450 697L447 697L444 697L441 697L438 697L435 697L432 697L429 697L426 697L423 697L420 697L417 697L414 697L411 697L408 697L405 697L402 697L399 697L396 697L393 697L390 697L387 697L384 697L381 697L378 697L375 697L372 697L369 697L366 697L363 697L360 697L357 697L354 697L351 697L348 697L345 697L342 697L339 697L336 697L333 697L330 697L327 697L324 697L321 697L318 697L315 697L312 697L309 697L306 697L303 697L300 697L298.1 697L298.1 694L297.8 691L298.1 688L297.7 685L297 683.6L296.2 682L294.6 679L294 676.5L293.9 676L294 675.2L294.3 673L294.6 670L294 667.7L293.8 667L291.6 664L291 663.6L288 661.4L287.1 661L285 660.1L282 659.2L279 658.4L278 658L276 656.6L273 655L273 654.9L272.4 652L273 651.4L275.8 652L276 652.1L279 652.3L279.2 652L282 649.7L282.4 649L284.1 646L285 643.6L285.2 643L285.8 640L286.2 637L286.8 634L288 631.4L288.5 631L289.6 628L288.3 625L288 624.5L286.5 622L285.9 619L288 616L288 616L291 615.8L291.5 616L294 616.9L297 618.4L298.3 619L300 619.9L303 621.2L305.2 622L305.1 625L303 626.8L301.8 628L300 629.3L297 631L296.9 631L296.2 634L297 634.6L300 635.7L303 635.7L306 634.8L307.2 634L309 632L309.5 631L310.2 628L310.2 625L310.2 622L312 620.4L313.6 619L315 618.4L318 618.2L321 618.2L324 616.3L324.2 616L325 613L326.3 610L327 609.4L330 608.8L333 609.5L334.2 610L336 611.1L338.2 613L339 614L342 615.3L345 614.8L347.6 613L348 612.6L349 610L348.9 607L348 605.5L346.9 604L345 601.3L344.8 601L344 598L345 595.4L345.2 595L348 592L348 592L348.9 589L348.4 586L348 583.6L347.8 583L348 582.7L349.2 580L351 578.2L352.1 577L353.6 574L354 572.1L354.3 571L356.7 568L357 567.8L360 566.7L363 566.8L366 566.4L367.4 565L368 562L366 560.5L363 559.1L362.9 559L360 557.1L358.9 556L357.1 553L357.9 550L360 549.4L363 548.2L365.2 547L366 546.6L369 544.8L370.7 544L372 543L375 542.6L378 543.1L381 543.3L384 543.4L387 543.7L389.3 544L390 544.1L393 544.4L395.5 544L396 543.1L396.3 541L396 540.6L393.1 538L393 537.9L390.6 535L390 534L389.1 532L387.7 529L387.8 526L390 523.6L393 524L394.9 526L396 526.8L397.5 526L399 523.6L399.1 523L399.4 520L400.8 517L402 516.1L404.3 514L405 513.5L408 513L411 512.9L414 513.8L414.6 514L417 515.2L420 516.3L422.3 517L423 517.2L426 518.1L429 518.6L432 518L433.2 517L435 515L435.7 514L438 511.8L438.8 511L440.6 508L441 506.4L441.3 505L441 502L441 501.9L440.3 499L439.8 496L440.3 493L441 491.6L442.1 490L444 488.7L447 488.4L450 489.4L451 490L453 492.1L455 493L456 493.3L457.4 493L459 492.6L462 491.6L465 492.1L466.6 493L468 493.9L471 495.8L471.3 496L474 498L475.4 499L477 501.2L479.6 502L480 502.2L480.1 502L481.7 499L482 496L480.9 493L480 491.4L479.2 490L478.3 487L480 484.6L480.5 484L483 483L486 481.8L487.9 481L489 480.4L492 481L492.2 481L495 481.7L496.6 484L497.1 487L498 488.4L499.7 490L501 491.1L504 492.8L504.4 493L507 494.7L508.2 496L509.8 499L510 499.2L512.9 502L513 502L516 502.1L516.1 502L517.3 499L516 496.8L515.2 496L513 493.6L512.3 493L511.3 490L513 487.8L516 487.5L519 488.3L522 489.8L522.4 490L525 491.8L528 492.2L531 491.1L532.1 490L534 487.8L534.7 487L537 484.4L538 484L540 483.2L542.8 484L543 484L546 485.2L549 486.4L550 487L552 488.5L555 489.6L558 488.8L559.6 487L561 485.1L561.6 484L563.1 481L564 479.4L565.7 478L567 477.1L570 476.7L573 477.4L574.2 478L576 479.2L578.2 481L579 483.4L579.5 484L579 485L578.7 487L579 487.5L582 487.2L582.7 487L585 485.8L588 484.7L589.3 484L591 483L594 483.6L597 483.7L600 482.4L601.4 481L603 478.6L603.4 478L604.3 475L603.4 472L603 471.5L600 470.6L597 470.3L594 471.9L593.9 472L591.5 475L591 476.5L589.8 478L588 480.8L585 480.5L582 478.9L581.3 478L579 475.6L578.7 475L577 472L576 469.3L575.9 469L574.6 466L573 464.5L571.4 463L570 461.7L568.6 460L568.9 457L570 455L572 454L573 453.8L576 453.3L579 453.1L581.5 454L582 454.2L585 455.9L588 456.7L591 455.4L592 454L594 451.5L594.7 451L597 449.6L600 449.6L601.9 451L603 452L605.3 454L606 454.6L609 455.1L612 455.2L615 456.5L615.6 457L616.2 460L616.6 463L617.6 466L618 466.7L621 469L621 469L624 470.1L627 471.1L628.8 469L630 466.2L630.1 466L630 465.6L629.7 463L628.1 460L627 458.7L625.5 457L624 454.8L623.4 454L622.5 451L622.2 448L623 445L624 444.2L627 444.5L628.2 445L630 446.2L632 448L633 449.3L634.9 451L636 452.4L639 453.2L642 453.2L645 453.4L648 452.7L649.1 451L649.5 448L649.8 445L651 442.4L651.2 442L654 440.1L657 439.5L660 440.8L661.4 442L663 443.4L665.8 445L666 445.1L669 445.3L672 445.3L675 445.5L676.9 445L678 444.7L681 442.9L682.9 442L684 441.4L687 441.5L687.7 442L690 443.3L693 444.6L696 442.3L696.1 442L696.8 439L697.4 436L699 433.9L700.4 433L702 432.5L705 431.9L708 431.6L711 431.8L714 432.4L717 432.7L720 432.4L723 431.4L726 430.4L729 430.5L732 431.5L735 432.4L737.3 433L738 433.3L741 435L743.4 436L744 437L747 436.3L747.2 436L750 433.6L751.5 433L753 432.8L753.7 433L756 434.3L759 434.7L762 434.3L765 433.7L766.6 433L768 432.6L771 431.3L774 430L774.1 430L777 429.1L780 428.5L783 429.1L784 430L785 433L784.7 436L784.1 439L784.2 442L784.6 445L784.6 448L783.9 451L783 452.5L782.2 454L781 457L783 459.8L783.9 460L786 460.3L787 460L789 459.3L792 457.1L792.2 457L795 455.2L798 454.1L798.3 454L800.6 451L800.2 448L800 445L801 443.3L801.5 442L803.1 439L804 437.3L804.4 436L804.8 433L804.4 430L804.4 427L805.4 424L807 421.5L807.3 421L810 418L810 418L812.1 415L812.9 412L813 411.7L815.9 409L816 409L819 408.7L822 408.7L825 408.8L828 408.9L831 409L834 408.2L835.8 406L837 404.8L838.5 403L840 401.8L843 401.6L844.6 403L845.6 406L845.3 409L845.6 412L846 412.3L849 413.1L852 413.2L855 413.2L858 413.5L861 414.5L861.5 415L864 416.6L865.5 418L867 419.5L870 420.8L873 418.9L874.1 418L875 415L873.9 412L873 410.5L871.7 409L870 407.6L867 406.9L864 406.3L863.5 406L863 403L864 400.7L864.4 400L867 398.7L870 398.7L873 399.5L873.8 400L876 401.9L877.3 403L879 404.2L882 405.3L885 405.1L888 403.4L888.4 403L891 400.3L891.2 400L892.8 397L894 394.1L894.1 394L895.3 391ZM828.5 415L828 415.2L825.2 418L825 418.3L823.8 421L823.2 424L822 426.9L821.9 427L819.1 430L819 430.3L817.8 433L818.9 436L819 436.1L822 438.9L822.3 439L825 439.9L828 440.4L831 440.7L834 440.8L837 440.4L839.6 439L840 438.7L841.3 436L841.4 433L840.2 430L840 429.5L839 427L838.6 424L838.7 421L839 418L837.7 415L837 414.6L834 413.5L831 413.4ZM884.9 415L885 415L885 415L885 415ZM473.5 508L471 509.6L470.5 511L470.7 514L471 514.4L474 515.5L477 515L477.9 514L478.6 511L477.3 508L477 507.6L474 507.7ZM556.6 514L557.8 517L558 517.2L560.6 517L561 517L562.2 517L564 517L564 517L564.9 514L564 513.6L561 513.1L558 513.2ZM499.1 523L498 525L497.8 526L498 529L498 529.3L499.4 532L501 533.8L503.2 535L504 535.2L504.2 535L506.4 532L507 531.1L508 529L508.4 526L507.8 523L507 522.6L504 521.9L501 522ZM377.6 550L378 550.3L378.1 550L378 549.8ZM320.6 661L321 663.8L322.7 661L321 660.8ZM795 432.3L795.5 433L795 433.8L793.9 433ZM336 567.7L339 567.7L339.7 568L340.9 571L340.2 574L339.5 577L339.4 580L339.9 583L340.6 586L340.9 589L340.5 592L339 593.9L337.7 595L336 595.8L333 596.9L330 597.7L327.2 598L327 598L326.9 598L324 597.3L321 595.6L319.1 595L318 593.5L316.1 595L315 595.2L312 596.5L309.7 598L309 598.4L306 599.6L303 599.3L301.6 598L301.4 595L302.3 592L303 591.1L306 589.5L309 589.8L312 590.5L315 591.3L318 591.5L321 589.6L321.3 589L324 586.3L324.2 586L326.5 583L327 582.2L328.3 580L329.5 577L330 575.5L330.7 574L332.3 571L333 570.2L335.5 568ZM255 632.9L258 631.8L261 632.6L262.6 634L261 635.5L260.3 637L258.1 640L258 640.2L256 643L255 645.2L254.4 646L252 648.2L251.4 649L249 651.4L248.5 652L246.9 655L247.1 658L248.9 661L249 661.1L250.4 664L252 666.4L252.6 667L255 669.7L255.3 670L255 671.5L252 671.3L251.3 670L249 668L247.5 667L246 666.1L243.4 664L243 663.4L240.7 661L240 660.4L237 659.6L234.4 661L234 661.4L232.8 664L232.2 667L231.2 670L231 670.2L228 671L226.9 670L226.5 667L227.3 664L228 661.2L228.2 661L228 660.5L227.5 658L225 656.2L222 655.5L220 655L222 652.2L222.2 652L225 649.3L225.3 649L228 646.4L228.5 646L231 643.6L231.6 643L234 642.7L237 642.9L237.5 643L240 644.2L243 644L245.7 643L246 642.9L249 641.6L250.7 640L252 637.5L252.2 637L254 634ZM243 681.5L245.4 682L244.7 685L243.9 688L243.7 691L243.6 694L243.6 697L243 697L240 697L237 697L234 697L231 697L229.8 697L231 694.6L231.3 694L232.8 691L234 688L234 688L236.5 685L237 684.4L240 682.5L241.3 682ZM267 681.7L267.5 682L270 684.5L270.2 685L271.8 688L273 689L275.8 691L276 691.1L279 693.4L279.7 694L280.4 697L279 697L276 697L273 697L270 697L267 697L264.8 697L264.3 694L264 693.6L262.8 691L261.7 688L262.1 685L264 682.5L265.8 682ZM195 695.5L198 694.5L201 694.4L204 694.9L207 696L209.6 697L207 697L204 697L201 697L198 697L195 697L193.5 697Z"/>
<path fill="#ffb700" d="M894 434.5L897 434.3L897 436L897 439L897 442L897 445L897 448L897 451L897 454L897 457L897 460L897 463L897 466L897 469L897 472L897 475L897 478L897 481L897 484L897 487L897 490L897 493L897 496L897 499L897 502L897 505L897 508L897 511L897 514L897 517L897 520L897 523L897 526L897 529L897 532L897 535L897 538L897 541L897 544L897 547L897 550L897 553L897 556L897 559L897 562L897 565L897 568L897 571L897 574L897 577L897 580L897 583L897 586L897 589L897 592L897 595L897 598L897 601L897 604L897 607L897 610L897 613L897 616L897 619L897 622L897 625L897 628L897 631L897 634L897 637L897 640L897 643L897 646L897 649L897 652L897 655L897 658L897 661L897 664L897 667L897 670L897 673L897 676L897 679L897 682L897 685L897 688L897 691L897 694L897 697L894 697L891 697L888 697L885 697L882 697L879 697L876 697L873 697L870 697L867 697L864 697L861 697L858 697L855 697L852 697L849 697L846 697L843 697L840 697L837 697L834 697L831 697L828 697L825 697L822 697L819 697L816 697L813 697L810 697L807 697L804 697L801 697L798 697L795 697L792 697L789 697L786 697L783 697L780 697L777 697L774 697L771 697L768 697L765 697L762 697L759 697L756 697L753 697L750 697L747 697L744 697L741 697L738 697L735 697L732 697L729 697L726 697L723 697L720 697L717 697L714 697L711 697L708 697L705 697L702 697L699 697L696 697L693 697L690 697L687 697L684 697L681 697L678 697L675 697L672 697L669 697L666 697L663 697L660 697L657 697L654 697L651 697L648 697L645 697L642 697L639 697L636 697L633 697L630 697L627 697L624 697L621 697L618 697L615 697L612 697L609 697L606 697L603 697L600 697L597 697L594 697L591 697L588 697L585 697L582 697L579 697L576 697L573 697L570 697L567 697L564 697L561 697L558 697L555 697L552 697L549 697L546 697L543 697L540 697L537 697L534 697L531 697L528 697L525 697L522 697L519 697L516 697L513 697L510 697L507 697L504 697L501 697L498 697L495 697L492 697L489 697L486 697L483 697L480 697L477 697L474 697L471 697L468 697L465 697L462 697L459 697L456 697L453 697L450 697L447 697L444 697L441 697L438 697L435 697L432 697L429 697L426 697L423 697L420 697L417 697L414 697L411 697L408 697L405 697L402 697L399.6 697L402 694.7L402.4 694L403.3 691L405 688.6L405.2 688L405.7 685L405 682.5L404.6 682L402 680.6L399 679.4L397 679L396 678.9L395.3 679L393 679.4L390 680.3L387 681.8L386.8 682L384 684.4L383.6 685L381 687.4L379.7 688L378 688.6L375 688.8L372 688.9L369 688.9L366.4 688L366 687.8L363.2 685L363 684.8L361 682L360 679L360 679L360 679L360.7 676L362.7 673L361 670L360 669.7L357.6 667L357.2 664L359.4 661L360 660.6L363 660.7L364 661L366 662.1L369 663.4L371.1 661L372 659L372.2 658L372.9 655L374.1 652L375 650.8L378 650.2L381 650.6L384 649.7L384.4 649L384 648.5L382.2 646L381 644.3L380.4 643L380.3 640L380.7 637L380.5 634L379.4 631L378 629.2L375 629.6L373.6 631L372 632.3L370.4 634L369 635.4L366 636.5L363 636L360.8 634L361.2 631L361.6 628L361.2 625L360 622.3L359.8 622L358.6 619L360 616.8L360.6 616L363 614.5L366 613L366.1 613L369 611.5L370.8 610L371.1 607L371.1 604L370.7 601L369.4 598L369 597.2L367.5 595L368.5 592L369 591.8L372 591.5L375 591L378 589.6L378.8 589L381 587L382.3 586L384 584.2L387 583.3L387.9 583L390 581.9L391.6 580L392 577L391.4 574L391.6 571L393 569.1L396 568.1L399 568.1L401.1 571L400.2 574L399.2 577L399 577.9L398.6 580L398.1 583L396.5 586L396 586.4L393.8 589L393 591.7L393 592L393 592.2L394.1 595L395.8 598L396 598.5L396.7 598L398.7 595L399 594.6L399.6 592L400.4 589L401.8 586L402 585.8L402.8 583L404 580L405 578.6L405.6 577L408 574.1L408.1 574L411 572.3L414 571.2L414.5 571L417 569.9L420 568.2L420.3 568L422.9 565L423 564.8L424.7 562L426 559.6L426.2 559L427.2 556L427.6 553L427.1 550L426 547.7L425.2 547L424.1 544L424 541L423.3 538L423.1 535L425.5 532L426 531.4L428.5 529L429 528.7L432 528.2L434.7 529L435 529.1L438 530.9L439.6 532L441 532.6L443.4 535L444 535.7L445.5 538L447 540.2L448.6 541L450 541.6L453 541.2L453.6 541L456 540.2L459 539.2L462 538.5L465 538.2L465.9 538L468 537.7L471 537.1L474 536.1L477 535.5L480 535.3L483 535.3L486 535.1L488.2 538L489 541L489 541.3L489.4 544L490 547L491.8 550L492 550.4L492.1 550L495 548.6L498 547.7L501 548.1L503.1 550L504 551.1L506.6 553L507 553.1L510 553.9L513 554.6L516 555L519 554L520.4 553L522 551.9L525 550.3L526.4 550L528 549.7L531 548.9L534 548.1L536.9 547L537 546.9L540 544.2L540.4 544L543 543.2L545 544L546 545.1L546.5 547L546 549.8L545.9 550L546 550.5L546.8 553L549 553.5L550.3 553L552 552.1L554.4 550L555 549.4L557.1 547L558 545.1L558.8 544L558.6 541L558 540.3L556.7 538L555 535L555 534.9L553.9 532L554 529L555 527.6L558 527.3L561 527.6L564 527.4L566.2 526L567 525.5L569 523L570 521.9L572 520L573 518.9L574.9 517L574.9 514L574 511L573.5 508L574.9 505L576 504.2L579 504L582 504.3L585 504.6L588 504.4L591 504L594 503.9L597 503.8L600 503.6L603 504.1L603.8 505L606 507.7L606.3 508L609 509.3L612 508.4L612.5 508L615 505.8L616.2 505L618 503.9L621 504.1L624 504.8L627 504.1L629.2 502L630 501.3L632.4 499L633 498L634.4 496L635.4 493L636 490.8L636.4 490L638.6 487L639 486.5L640.9 484L641.3 481L642 478L642 478L645 475L645 475L648 474.1L651 474.9L654 474.9L657 474.3L660 473.9L663 474.6L663.5 475L665.2 478L666 479.8L666.4 481L667.2 484L667.1 487L669 489.8L669.5 490L672 490.3L673.9 490L675 489.9L678 489.3L681 489L684 488.7L687 488.1L690 488.9L691.1 490L693 490.7L696 491.5L699 491.3L701 490L701.8 487L699.9 484L699 483.2L696 482.1L693 482.9L690.2 484L690 484.1L689.8 484L687 482.5L686.3 481L685.8 478L687 476.5L688.7 475L690 474.2L692.6 472L693 471.7L695.8 469L696 468.7L699 466.5L701.5 466L702 465.9L703.7 466L705 466.1L708 467.3L709.3 469L710.1 472L710.6 475L711 478L710.9 481L710.2 484L710.7 487L711 487.1L714 488.2L717 487.6L718.5 487L720 486.2L723 484.3L723.4 484L726 482.2L728.4 481L729 480.7L732 479.9L735 480.1L736.6 481L738 481.7L740.1 484L741 484.8L743 487L744 488.3L747 488.7L750 487.8L753 487.1L753.3 487L756 485.7L757 484L756.7 481L756 478L756 478L755.6 475L755.1 472L754 469L753 467.8L750 467.7L747 467L745.2 466L744 463L747 460.6L750 461.2L752.7 463L753 463.6L756 466L759 465.2L762 463.8L763.6 463L765 462L768 461.2L771 462.9L771.1 463L774 464.7L775.8 466L777 468.1L777.8 469L777 470L776.3 472L775 475L775.2 478L777 481L777 481L780 482.8L783 482.7L786 481.8L788.3 481L789 480.7L792 478.6L792.6 478L794.8 475L795 474.6L795.8 472L797.4 469L798 467.9L800 466L801 465.3L804 465.1L807 465.3L810 464.8L813 463.5L816 464L818.4 466L818.4 469L819 470.1L820.1 472L822 472.6L824.6 472L825 471.7L827 469L828 467.6L829.6 466L831 465.2L834 465.7L834.4 466L837 468.8L837.1 469L840 471L843 471L846 470L849 469.8L852 471.2L853.1 472L855 473.6L857.2 475L858 475.3L861 475L861 475L862.9 472L864 470.3L867 471.5L867.7 472L870 473.2L873 473.9L876 473.4L879 472.2L879.5 472L882 471L885 469.6L886 469L885.8 466L885 464.5L884.5 463L882 460L882 460L879 458.8L876 458.7L873 458.8L870 458L869.4 457L870 454.9L870.2 454L872 451L873 449.9L876 448.2L876.8 448L879 447.5L882 447.3L885 447.1L888 446.6L889.7 445L891 442.7L891.2 442L891.9 439L892.9 436ZM650.9 481L648 483L646.6 484L645 486.7L644.6 487L645 487.3L646.5 490L648 490.9L651 491.8L654 491.7L657 491L660 490L660 490L661.4 487L660 485.2L659.5 484L657 481.7L655.6 481L654 480.1L651 480.8ZM584.7 529L585 529.2L585.2 529L585 528.3ZM489 553L486 554.2L483 555.3L480.9 556L480 556.2L477 557.6L475.6 559L474 561.9L473.9 562L474 563.2L474.2 565L477 566.8L480 567.3L482.6 568L483 568.1L486 568.6L489 568.2L489.3 568L492 566.2L493.3 565L495 563.2L496.3 562L497.7 559L495 556.3L494.5 556L492 553.7L489.1 553L489 553ZM442.5 556L442.3 559L442.9 562L444 563L447 562.7L447.7 562L448.5 559L448 556L447 554.2L444 553.2ZM410.1 628L408 629.2L406 631L405 632.6L404.6 634L404.9 637L405 637.3L407.5 640L408 640.3L411 640.8L414 640.7L417 640.1L417.2 640L417.3 637L417 636.6L415.5 634L415.2 631L415.6 628L414 626.5L411 627.5ZM368.9 667L366.3 670L369 673L369 673L372 674L375 675.2L376.6 676L378 676.6L381 677.1L382.5 676L381.2 673L381 672.8L378 670.7L377.3 670L375 668.3L373 667L372 665.9L369 666.5ZM852 442L852.4 442L855 442.3L858 443.6L860.4 445L858.8 448L858 448.5L855 448.8L853.6 448L852 446.3L851.2 445L851.9 442ZM711 447.4L711.4 448L713.6 451L712.8 454L711 454.9L708 454.6L707.1 454L705.6 451L708 448.4L709.2 448ZM825 448L825.3 448L828 448.9L829.7 451L828 453.3L825 452.4L823.8 451L824.9 448ZM543 512.4L543.9 514L543 515L541.3 514ZM459 519.5L459.9 520L462 522L462.5 523L462 525.4L461.8 526L459 528.9L456 528.3L453.6 526L453.9 523L456 521L458 520ZM417 543.9L417.2 544L417 544.2L416.8 544ZM378 564.7L381 563.5L381.6 565L381.1 568L381 569.7L380.9 571L380.5 574L378 576L376.8 574L375.1 571L375.7 568L377.8 565ZM324 630.1L327 630.7L327.4 631L329.6 634L330 635L330.5 637L330.5 640L330.5 643L330 644.1L328.4 646L327 646.6L324 647L321 646.2L320.5 646L318 644.3L316.4 643L315 640.1L315 640L315 639.9L317.1 637L318 635.8L319.3 634L321 631.6L321.4 631ZM342 638.9L345 639.1L346.4 640L348 640.7L351 642.5L351.5 643L351.7 646L351 647.7L350.3 649L348.2 652L348 652.2L345 653.7L342 653L340.9 652L339 650L338.1 649L337.1 646L338.9 643L339 642.8L341.2 640ZM309 648.3L312 647.1L312.5 649L312.2 652L312 652.5L310.7 655L309.9 658L309 660.3L306 659.2L304.9 658L304.2 655L306 652.4L306.3 652L308.5 649ZM309 664.8L309.7 667L309.4 670L309 670.6L308.6 670L308.2 667ZM327 687.5L330 687.8L330.6 688L333 688.6L336 689.5L339 690.3L342 690.9L342.8 691L344 694L342 695.7L341.6 697L339 697L336 697L333 697L330 697L327 697L324 697L321 697L320.9 697L321 696.1L321.3 694L322.4 691L324 688.5L325.6 688ZM381 692.1L384 691.3L387 691.7L390 694L390 694L392.2 697L390 697L387 697L384 697L381 697L378.6 697L379.7 694Z"/>
<path fill="#ffa300" d="M804 474L807 474.3L808.5 475L810 476.1L812 478L813 481L812.2 484L810.3 487L810.4 490L812.2 493L813 494L816 495L817.9 493L818.6 490L817.5 487L816.2 484L818.2 481L819 480.8L822 480.2L825 479.7L828 478.7L829.2 478L831 477.1L834 477L836.2 478L837 478.4L840 479.1L843 478.9L846 478.3L849 478.5L852 479.7L855 481L855.1 481L858 482.5L860.4 484L861 484.7L862.7 487L863.2 490L863.6 493L864 493.6L867 493.3L867.4 493L870 492L873 491.5L876 490.2L876.2 490L879 487.2L879.3 487L882 485.1L885 485.3L888 487L888 487L890.4 490L890.3 493L888 494.7L885.8 496L885 496.4L882 498.6L881.5 499L879.1 502L879 502.2L877.3 505L876.4 508L876.1 511L876.1 514L876.9 517L879 518.5L882 518.4L885 518.9L887.3 520L888 520.3L891 522.1L894 522.8L897 522.7L897 523L897 526L897 529L897 532L897 535L897 538L897 541L897 544L897 547L897 550L897 553L897 556L897 559L897 562L897 565L897 568L897 571L897 574L897 577L897 580L897 583L897 586L897 589L897 592L897 595L897 598L897 601L897 604L897 607L897 610L897 613L897 616L897 619L897 622L897 625L897 628L897 631L897 634L897 637L897 640L897 643L897 646L897 649L897 652L897 655L897 658L897 661L897 664L897 667L897 670L897 673L897 676L897 679L897 682L897 685L897 688L897 691L897 694L897 697L894 697L891 697L888 697L885 697L882 697L879 697L876 697L873 697L870 697L867 697L864 697L861 697L858 697L855 697L852 697L849 697L846 697L843 697L840 697L837 697L834 697L831 697L828 697L825 697L822 697L819 697L816 697L813 697L810 697L807 697L804 697L801 697L798 697L795 697L792 697L789 697L786 697L783 697L780 697L777 697L774 697L771 697L768 697L765 697L762 697L759 697L756 697L753 697L750 697L747 697L744 697L741 697L738 697L735 697L732 697L729 697L726 697L723 697L720 697L717 697L714 697L711 697L708 697L705 697L702 697L699 697L696 697L693 697L690 697L687 697L684 697L681 697L678 697L675 697L672 697L669 697L666 697L663 697L660 697L657 697L654 697L651 697L648 697L645 697L642 697L639 697L636 697L633 697L630 697L627 697L624 697L621 697L618 697L615 697L612 697L609 697L606 697L603 697L600 697L597 697L594 697L591 697L588 697L585 697L582 697L579 697L576 697L573 697L570 697L567 697L564 697L561 697L558 697L555 697L552 697L549 697L546 697L543 697L540 697L537 697L534 697L531 697L528 697L525 697L522 697L519 697L516 697L513 697L510 697L507 697L504 697L501 697L498 697L495 697L492 697L489 697L486 697L483 697L480 697L477 697L474 697L471 697L468 697L465 697L462 697L459 697L456 697L453 697L450 697L447 697L444 697L441 697L438 697L435 697L434.2 697L435 696.1L438 694.6L441 694.5L444 694.3L444.6 694L447 691.9L447.5 691L447.6 688L447.2 685L449.1 682L450 681.7L453 680.7L456 679.7L459 679L462 679.7L464.5 682L465 682.5L468 684.1L471 684.6L474 684L475 682L475.8 679L477 676.9L477.8 676L480 674.5L483 673.4L484.8 673L486 672.7L489 671.6L490 670L490.5 667L491.5 664L492 663.2L494.7 661L495 660.7L498 659.2L501 659.5L502.3 661L504 662.3L507 662.9L510 662.6L513 663.4L514.5 664L516 665.1L518.9 664L519 664L521 661L522 660.3L525 659.8L528 660.8L528.4 661L531 662.9L532.4 664L534 665.5L537 667L540 666.8L543 665.3L545.1 664L546 663.3L548.7 661L549 659.2L549.1 658L549.4 655L549.5 652L549.7 649L550.6 646L552 644.3L552.9 643L555 640.5L555.5 640L558 638.6L561 637.1L561.2 637L564 634.6L565.1 634L566.7 631L565.1 628L564 626.7L563.1 625L561 623L558 623L555 623.8L552 624.9L551 625L549 625.3L547.2 625L546 624.8L543 624L541.3 622L540.2 619L540 618.5L537 616.4L534 618.5L533.5 619L531 621.6L530.7 622L530.2 625L531 628L531 628L534 629.9L537 628.5L539.3 628L540 627.7L540.2 628L542.5 631L543 632.4L543.3 634L543 635.8L542.6 637L540 639.8L537 639L534 637.2L531 638.7L530.6 640L530.1 643L529.4 646L528 647.9L527.3 649L525 651.3L523.6 652L522 653.1L520 652L519 651.6L517.4 649L516 646.4L515.8 646L514.7 643L515.5 640L516 639.6L519 637.6L520 637L522 634.8L522.6 634L522 631.5L521.9 631L519.1 628L519 627.9L516 626.2L513.5 625L513.3 622L514 619L515.5 616L516 615.4L518.8 613L519 612.8L522 610.6L522.9 610L525 607.2L525.3 607L525 606.5L522 604.7L519 604.3L516 604.1L515.3 604L513 603.5L510 602L508.8 601L507.4 598L508.8 595L510 593.6L511.7 592L512.9 589L513 588.5L513.5 586L514 583L514 580L513 578.6L510 578.5L507 579.8L506.3 580L504 580.6L501 580.8L498 580.5L496.4 580L495 579L492.9 577L494 574L495 572.5L495.6 571L498 568L498 568L501 566.1L504 565.2L505.1 565L507 564.6L510 564.2L513 564.6L513.9 565L516 566.1L519 567.4L521.2 568L522 568.3L525 568.9L525.8 568L528 567.1L531 565.5L532.1 565L534 564.1L537 562.5L540 562.1L542.2 565L542.1 568L542.4 571L543 571.9L546 574L546.3 574L549 574.3L552 574.4L555 574.6L558 574.9L561 575.2L564 575.6L567 576L570 575.6L571.6 574L572.6 571L572.5 568L571.8 565L570.6 562L570.1 559L573 557.6L576 556.6L577.8 556L579 555.5L581.5 556L582 556.2L585 558.7L587.5 556L588 555.4L588.9 553L589.9 550L591 548.3L591.8 547L594 544.5L594.3 544L594.4 541L594 539.1L593.7 538L593.7 535L594 532.8L594.4 532L596.8 529L597 528.9L597 529L600 531.7L600.9 532L603 532.3L606 532.2L607.5 532L609 531.3L611.5 529L611.6 526L612 525.7L615 524.2L618 523.5L621 523.9L624 525.3L625.6 526L627 526.4L630 526.7L633 526.3L633.9 526L636 525.1L639 523.5L639.7 523L642 520.2L642.3 520L645 517.6L647.2 520L648 520.5L651 522.7L654 522.2L657 520L657 520L660 517.8L662 517L663 516.6L666 515L667.3 514L669 512.4L671 511L672 510.6L675 509.2L676.6 508L678 506.9L680.5 505L681 504.5L683.6 502L684 501.5L686.2 499L687 498.5L690 497.9L693 498.8L693.4 499L696 501.7L696.3 502L699 503.7L702 504.8L705 504.3L708 502.7L710.1 502L711 501.5L714 500.1L716.1 499L717 497.8L718.2 496L720 495.2L723 493.7L724 493L726 492.2L729 490L729 490L732 487.9L735 487.1L738 488.6L739.2 490L740.4 493L741 496L741 496L743 499L744 499.5L745.6 499L747 498.7L750 497.3L752 496L753 495.4L756 493.7L758.4 493L759 492.8L762 492.4L765 491.5L768 490.2L771 490.4L772.7 493L774 496L774 496L775.9 499L777 499.7L780 500L782.4 499L783 498.4L785 496L785.4 493L785.6 490L786 489.4L787.8 487L789 486.2L792 484.2L792.3 484L795 482.2L796 481L798 478.4L798.4 478L801 475.2L801.4 475ZM857.5 526L858 526.5L859.7 529L861 530.2L864 531.4L866.7 529L864.6 526L864 525.8L861 525.2L858 525.5ZM526.4 574L526.7 577L528 577.8L529.4 577L528.4 574L528 573.5ZM530.1 589L529 592L530 595L531 596.4L534 597.2L537 597.2L540 597.9L540.3 598L542.3 601L543 602.5L543.9 604L546 604.8L549 604.8L552 604.1L552.3 604L554.5 601L552 600L549 599L547.1 598L546 596.8L545.1 595L544.6 592L543 589.1L542.9 589L540 587.6L537 586.7L534 586.2L531 587.8ZM595.9 601L594 602.2L591.6 604L591.1 607L594 608.5L597 608.7L600 607.8L601.3 607L603 605.8L606 604L606.1 604L608.8 601L606 599L603 599.5L600 600L597 600.6ZM571.6 628L570 629.3L567.6 631L570 633.7L570.4 634L573 634.7L574.9 634L576 633.3L578.3 631L579 628.4L579.1 628L579 627.7L576 627.1L573 627.4ZM598.5 646L597 648.5L596.8 649L595.9 652L595.3 655L596.3 658L597 658.4L600 658.8L603 659.4L606 660.2L609 660.6L612 660.2L614.1 658L613.5 655L612 653.4L610.7 652L609 649.9L608.2 649L606 646.4L605.5 646L603 644.4L600 644.2ZM573.1 652L573 652.1L570 654.8L569.6 655L567 656.3L564 657.8L563.7 658L561 659.9L559.1 661L558 661.5L555 662.3L552 663.4L551.3 664L551.5 667L552 667.9L552.8 670L554.5 673L555 673.9L558 675.9L561 675.6L563.9 673L564 672.9L566.1 670L567 668.7L570 667.2L572.9 667L573 667L576 666L579 664.2L579.5 664L582 662.6L582.9 661L583.3 658L582.7 655L582 653.1L581.3 652L579 649.3L576 649.4ZM644.2 652L642.5 655L644 658L645 658.7L645.7 658L648 655.3L648.3 655L648 654.1L647.3 652L645 651.5ZM641.7 664L640.8 667L641.1 670L641.8 673L642 675.9L643.8 673L645 670.9L645.5 670L645.5 667L645 665.4L643.4 664L642 663.3ZM584.3 667L583.9 670L584.9 673L585 673.1L588 674.7L591 673.2L591.1 673L591.6 670L591 668.2L590.1 667L588 665.4L585 666ZM561 555.8L561.7 556L561 556.2L560.5 556ZM555 561.1L555.2 562L555 562.3L554.2 562ZM435 569.5L438 569L441 569.5L444 570.2L447 570.6L450 570.4L453 569.7L456 570.3L456.8 571L459 572.5L461.7 574L462 574.2L465 574.9L468 575.6L471 576.7L472.8 577L474 577.2L477 577L477.5 577L480 576.9L481.9 577L483 577.1L486 578.7L487 580L486 581.5L485 583L483 584.8L480 585.4L477 585.7L474 585.5L471 585L468 585.2L466.7 586L465.7 589L465.1 592L465 592.2L464 595L463 598L462.3 601L462 602.2L461.6 604L460.9 607L459.7 610L459 611.3L456 612.2L453 612.9L452.8 613L450 615.8L449.7 616L447 617.7L444 617.6L441 617.8L438 618.2L435 618.5L432 618.3L429 617.9L426 617.4L423.6 616L423.3 613L423.5 610L423 609L421.7 607L420 605.8L417 604L417 603.9L415.1 601L414.7 598L414 595.2L413.9 595L412.5 592L411.2 589L411.3 586L412.2 583L413.2 580L414 578.7L415.4 577L417 576.4L420 575.5L423 574.6L425.2 574L426 573.8L429 572.7L432 571.2L432.5 571ZM483 591.7L483.4 592L486 593.7L487.3 595L489 595.9L492 596.5L495 597.1L497 598L498 599L499.4 601L498.6 604L498 604.8L495.2 607L495 607.1L492 607.7L489 607.6L486 607.2L483.9 610L483.9 613L483.6 616L483.1 619L483 620.4L482.8 622L482.5 625L481.5 628L480.1 631L480 631.3L478.5 634L477 636.8L474 635.5L472.4 634L471 632.6L469.7 631L468.2 628L468 627.6L465 625.1L462 625L459 625.4L456 626.2L453 627.5L450 627.4L449.9 625L450 623.9L450.4 622L453 620L456 619.5L457.2 619L459 618.1L462 617.1L465 617.2L468 616.7L468.7 616L471 614.5L472.2 613L474 610.8L474.8 610L476.7 607L476.3 604L474 601L474 601L473.2 598L474 595.7L474.8 595L477 593.9L480 593L482.4 592ZM405 615.5L406.3 616L405 616.5L404.3 616ZM396 627.8L396.2 628L396.7 631L396 632.6L393 631.1L392.9 631L393 630.6L395.3 628ZM441 630.9L442.3 631L444 631.2L447 631L450 631.5L451.1 634L453 635.2L454.6 637L456 638.7L456.8 640L457.6 643L457.9 646L458.1 649L458.3 652L458.7 655L459 656.2L459.7 658L461.6 661L462 661.7L463.4 664L464.1 667L462 669.3L459 669.1L456 668.4L453 667.7L450.6 667L450 666.7L447.5 664L447 662.8L446.4 661L444 658.7L442.9 658L441 657.2L438 655.8L436.9 655L435.8 652L435.7 649L435.6 646L435.2 643L435 642L434.4 640L434 637L434.2 634L435 632.8L438 631.1L439.5 631ZM489 641.2L492 640.5L495 641.1L497.8 643L498 643.2L500 646L500.6 649L501 651.9L501 652L501 652.1L498 654.2L495 653.6L492 653.7L489 654.1L487.1 652L487.4 649L487.1 646L486.9 643ZM414 657.8L414.4 658L417 660L417.3 661L417 662.4L415.1 664L414 664.2L413.6 664L412.5 661L413.9 658ZM426 665.2L429 665.1L430.9 667L432 668.3L433 670L434.6 673L434.9 676L432 678.3L429.6 679L429 679.2L428.2 679L426 678.1L425.2 676L424.6 673L424 670L424.1 667Z"/>
<path fill="#ff8f00" d="M792 498.6L795 497.3L798 496.9L801 496.7L804 497.5L805.6 499L807 499.8L810 501.4L811.9 502L813 502.3L816 503.3L818.6 505L819 505.5L820.5 508L821.3 511L821 514L820 517L819 519.1L818.7 520L817.8 523L817.5 526L818.7 529L819 529.3L822 531.2L823.3 532L825 533.2L827.8 535L828 535.2L831 535.9L832 535L834 532.6L834.3 532L836 529L837 528.2L840 527.5L843 527.8L845.6 529L846 529.4L847.8 532L848 535L846.3 538L846 538.4L843.5 541L843 541.9L841.7 544L840.4 547L840 548L837 548.2L836 547L834 545.6L832.3 544L831 542.8L828 542L825 543.1L823.8 544L822 545.4L820.7 547L820.3 550L820.9 553L822 555.4L822.4 556L824.7 559L825 559.6L827 562L827.7 565L827.5 568L825 570.5L824.4 571L822 573L821.3 574L820.3 577L819.6 580L819 582.4L818.4 583L816 584L813 583.7L810 583.9L807 585.9L806.9 586L806.8 589L807 589.5L807.9 592L808.4 595L807.5 598L807 600.1L806.8 601L807 601.5L808.3 604L810 606.4L810.6 607L812.2 610L813 612.3L813.7 613L813.8 616L813 618.9L813 619L811.2 622L810 622.6L807 623.8L805.5 625L804 628L804 628L803.6 631L802.8 634L801.4 637L801 638L800.1 640L799.8 643L799.9 646L800.4 649L801 650.7L801.8 652L804 653.7L806.5 655L807 655.3L810 656.4L813 657.2L816 658L816.2 658L819 658.7L821.1 658L822 657.6L824.7 655L825 654.8L828 653.3L830.1 652L831 651.6L834 650.2L837 649.7L840 650.8L841.2 652L843 654.2L843.5 655L844 658L843.8 661L843 664L843 664L840 666L837 667L837 667L835.6 670L837 671.3L840 671.3L840.9 670L843 667L843 667L846 665.1L849 664.7L852 664.1L852.2 664L855 663.1L858 661.5L858.6 661L861 658.3L861.3 658L863.5 655L864 654.1L867 652.6L870 652.8L873 653.6L874.7 655L875.6 658L875 661L873.2 664L873 664.4L870.9 667L870 668L868.3 670L867 671.2L865.2 673L864 674.1L861.2 676L861 676.2L858 678.4L857.4 679L855.4 682L855 682.6L853.3 685L852 686.2L849.2 688L849 688.1L846 689.4L843.7 691L843 691.6L841.9 694L841.2 697L840 697L837 697L834 697L831 697L828 697L825 697L822 697L819 697L816 697L813 697L810 697L807 697L804 697L801 697L798 697L795 697L792 697L789 697L786 697L783 697L780 697L777 697L774 697L771 697L768.6 697L768 694.8L767.6 694L765 691.8L762 691.8L759 691.9L756 691.3L755.1 691L753 688.8L751 688L753 687.1L754 685L756 683.7L757.6 682L759 680.4L759.8 679L759.8 676L759 674.6L757.8 673L756 671.6L753 670L753 670L750 669.5L749.5 670L747.7 673L747.3 676L747.3 679L747.2 682L747.8 685L749.7 688L749.5 691L749 694L748.9 697L747 697L744 697L741 697L738 697L735 697L732 697L729 697L726 697L723 697L720 697L717 697L714 697L711 697L708 697L705 697L702 697L699 697L696 697L693 697L690 697L687 697L684 697L681 697L678 697L675 697L672 697L669 697L666 697L663 697L660 697L657 697L654 697L651 697L648 697L645 697L642 697L639 697L636 697L633 697L630.2 697L630 694.3L630 694L629.2 691L628 688L627 686L626.2 685L624 682L623.9 682L624 681.8L624.8 679L627 678.2L630 677L633 676.6L636 678.8L636.1 679L637.9 682L639 683.6L640.5 685L642 686.2L645 686.9L648 685.9L648.7 685L651 682.3L651.3 682L654 679.5L656.6 679L657 678.9L657.3 679L660 679.8L663 681L665.2 682L666 685L665.4 688L666 689.6L669 689.3L669.8 688L670.4 685L670.1 682L670.5 679L670.8 676L670.3 673L669 670.3L668.8 670L666.7 667L666 664.8L665.8 664L666 663.6L668.7 661L669 660.9L672 659.6L673.5 658L675 656.9L676.5 655L678 653.2L678.8 652L680.1 649L681 646.4L681.3 646L683 643L682.6 640L681 639.1L678 637.6L675 637.6L672 639.2L671.1 640L669 641.4L666 642.4L663 641.9L660 640.8L657.9 640L657 639.4L654 638.4L651 638.8L649.1 640L648 640.6L645 642.5L643.9 643L642 643.7L639 644.6L636.9 646L636 647.1L634.2 649L633 650.7L630 651L628.2 649L627 647.8L625.2 646L624 644L623.3 643L624 641.6L624.7 640L625.8 637L626.7 634L627 633.8L627.4 634L630 634.7L633 635.7L636 635.9L639 634.6L639.8 634L642 631.9L642.9 631L644.4 628L644.9 625L644.7 622L643.7 619L642 617.6L640.1 619L639 619.5L636 620.9L633 621L630 619.8L628.8 619L627.6 616L628.2 613L629.1 610L629 607L627.4 604L627 603.4L624.8 601L624 599.7L622.9 598L623.6 595L624 594.5L626 592L625.7 589L624.5 586L624 583.6L623.9 583L623.9 580L624 577L621 574.4L619.9 574L618 573.6L615 572.8L612 572L609 572L606 572.7L603 573.6L601.7 574L600 574.7L597 575.8L594 576.6L593.1 577L591 577.7L588.6 580L588 581.5L587.5 583L588 584.4L588.9 586L591 587.2L594 587.4L597 586.7L599.7 586L600 585.9L600.5 586L603 587.2L604 589L603 591L602.6 592L600 593.8L598.2 595L597 595.5L594 596.4L591 597.1L588.2 598L588 598L585 598.2L583.4 598L582 597.6L579 596L577.6 595L576.6 592L576 590.4L573.8 589L573 588.6L570.9 589L570 589.1L567 589.1L566.9 589L565.7 586L567 585L570 584L571.5 583L573 582.6L575.2 580L576 578.5L577.2 577L578.2 574L579 571L579 571L582 568.6L585 569.4L588 569.7L591 569.3L592.2 568L592.6 565L592.6 562L593.6 559L594 558.4L597 556.3L599 556L600 555.8L600.8 556L603 556.3L606 557.1L609 557.4L612 556.5L613 556L612.9 553L612 552.1L611 550L609.8 547L612 544.7L615 546.6L615.6 547L618 549.5L620.8 547L621 546.8L622 544L623.5 541L624 540.5L626.6 538L627 537.7L630 536.7L633 537.2L634.2 538L634 541L634.3 544L636 544.9L639 544.4L639.7 544L642 542L643.2 541L645 538.9L646.4 538L648 536.9L651 536.4L654 536.1L656.1 535L657 534.5L659.6 532L660 531.6L662.2 529L663 528.2L665.2 526L666 525.4L669 524.4L672 525.7L672.3 526L674.7 529L675 529.3L677.9 532L678 532.1L681 534.7L681.4 535L683.6 538L684 538.6L685.7 541L687 542.8L688.6 544L690 545.8L691.9 547L693 548.4L695.2 550L696 550.2L697 550L699 547.7L699.3 547L699 546.8L696 546.3L693.8 544L693.6 541L694.2 538L696 536.2L699 536.5L701.5 538L702 538.8L703.2 541L705 543.2L708 543.5L711 543.9L711.4 544L714 544.7L717 545.8L720 544.5L720.3 544L721.2 541L720 539.9L717 539.5L714 539.2L712.4 538L711 537.1L709.6 535L709.2 532L709.4 529L709.9 526L710.4 523L710.3 520L709.9 517L710.5 514L711 513.3L712.4 511L714 509.9L717 509.5L718.9 511L720 512.7L720.5 514L722 517L723 518.3L724.1 520L724.9 523L724.4 526L723.7 529L723.3 532L723.5 535L724.9 538L726 538.5L729 540.2L731.2 541L732 541.3L735 541.9L738 543.2L738.9 544L741 545.7L743.3 547L744 547.3L747 547.8L750 547.3L750.7 547L753 544.6L753.2 544L753 541.8L752.9 541L751.8 538L750.1 535L750 534.9L747 532.7L744 532.4L741 532.1L740.9 532L740.3 529L740.6 526L740.5 523L740.4 520L741 517.5L741.2 517L742.8 514L744 512.4L745.6 511L747 510.2L749.6 508L750 507.7L752.6 505L753 504.7L756 502.7L759 503.1L760.9 505L762 506.1L765 507.9L768 507.6L771 505.2L773.1 505L774 505L777 504.8L780 504.4L783 503.6L786 502.3L786.6 502L789 500.4L791.6 499ZM763.9 526L765 527.8L766.7 526L765 523.5ZM722.5 550L720 550.4L718 553L717.7 556L718.4 559L720 561.3L721.4 562L723 562.4L726 562.2L726.4 562L729 560.1L729.7 559L730.2 556L729.5 553L729 552.4L726 550.4L723.3 550L723 549.9ZM650.1 562L649.2 565L648 567.7L648 568L648 568.1L651 568.5L651.5 568L654 565.9L654.8 565L655.8 562L654 559.9L651 560.8ZM785.7 574L786 574.5L786.4 574L786 573.1ZM704.7 583L703 586L705 587.5L708 587.7L711 588.9L711.1 589L713.7 592L714 592.8L716.4 595L717 595.5L720 597.5L720.3 598L723 599.8L725.5 601L726 601.2L729 602L732 601.1L732.1 601L735 598.7L736.1 598L738 596.2L741 595.2L741.8 595L741.9 592L741 591.1L739 589L738 588.7L735 586.9L733.7 586L732 585.1L729 583.7L726 585.3L725.6 586L723 588.4L720.2 589L720 589.1L719.9 589L717 586.9L715.9 586L714 585L711.2 583L711 582.9L708 581.4L705 582.7ZM779.7 586L777 587.3L774.3 589L774.4 592L777 593.1L778.8 595L780 595.8L783 597.8L784.1 598L786 598.7L788.2 598L789 597.7L792 596L792.8 595L793 592L792 590.1L791.2 589L789 587.4L786 586L786 586L783 585.2L780 585.9ZM757.8 589L757.3 592L758.1 595L759 596.5L762 596.8L765 596.8L768 595.9L769.2 595L771 592.6L772.8 592L771 590.7L769.1 589L768 588.7L765 587.3L762 586.5L759 587.3ZM678 595L676.6 598L676.6 601L677.7 604L678 604.4L681 606.9L681.2 607L684 609.3L685.2 607L685 604L684.7 601L684.2 598L684 597.5L682.1 595L681 594.1L678 595ZM751.6 601L751.6 604L752.2 607L752.7 610L752.8 613L752.9 616L753 616.4L755.1 619L756 619.4L759 619.3L759.7 619L762 617.6L763.7 616L764.1 613L762.1 610L762 609.8L760.4 607L759.6 604L759 601.6L758.7 601L756 598.4L753 599.1ZM785.7 610L786 611.7L789 612.8L790.1 610L789 607.1L786 609ZM722.6 616L721.3 619L721.7 622L721.2 625L720 627.9L720 628L719.9 631L720 631.5L720.6 634L721.1 637L720.8 640L720.1 643L721.2 646L723 646.7L726 647.9L729 648.3L732 647.8L735 646.8L737.1 646L738 645L740 643L738.8 640L738 639.5L735.9 637L735 636.4L732.3 634L732 633.7L729.1 631L729 630.9L727 628L726.2 625L726.3 622L727.5 619L727.9 616L726 614.3L723 615.7ZM682.1 619L681 620L680 622L679.9 625L681 625.8L684 626.3L687 625.8L688 625L689.6 622L688.7 619L687 616.8L684 617.4ZM707.1 619L708 620L709.1 619L708 618.4ZM758.6 634L756.9 637L756 638.5L754.8 640L753 642.3L750.9 643L750 644.1L747.8 646L750 648L753 647.4L756 646.9L759 647.3L762 647.4L765 646.5L765.6 646L768 643L768 643L769 640L768.7 637L768 635.8L766.9 634L765 632L762 631L759 633.2ZM689.6 640L688.3 643L690 643.6L693 643.8L694.5 643L693 640.1L692.6 640L690 639.9ZM782.9 649L780.9 652L782.3 655L783 655.6L786 657.4L786.5 655L786.7 652L786 649.8L783.7 649L783 648.9ZM787.6 661L789 662.6L790 661L789 659.3ZM704.6 670L702 672.1L700.7 673L699 675.1L697.5 676L699 677.7L700.1 679L702 679.7L705 680L708 679.2L708.5 679L711 677.6L713.7 676L714 675.3L716.7 673L714 672L712.3 670L711 669.2L708 668.6L705 669.7ZM823.2 673L824.5 676L825 676.3L828 676.9L831 676.3L831.6 676L832.4 673L831 672.1L828 670.9L825 670.7ZM717.6 676L720 677L723 677.5L724 676L723 674.9L720 673.4ZM684.9 679L684 679.7L681.7 682L681 684.4L680.8 685L681 685.1L684 685.8L685.1 685L687 682.9L687.5 682L689.2 679L687 677.6ZM799.3 679L798.6 682L801 683.2L802.6 685L804 685.8L807 687.5L810 687.7L813 685L813.1 685L813 685L810 682.6L809.5 682L807 679.8L805.7 679L804 677.7L801 677.4ZM788.5 685L788.2 688L789 691L792 690.5L793.4 688L795 685.2L795.1 685L795 684.2L792 682.3L789 683.9ZM814.9 688L816 688.4L819 689.7L819.9 688L819 686.1L816 686.2ZM693 513.1L696 511.7L699 512.4L701.1 514L702 515.3L703.4 517L702 519L701 520L699 520.7L696 520.3L695.7 520L693.2 517L693 516.3L692.3 514ZM861 513.3L862 514L861 515L860.1 514ZM864 515.4L865.6 517L864 517.3L862.4 517ZM843 549.6L846 548.9L849 548.7L852 549.1L853.8 550L855 550.8L856.6 553L857.8 556L858 556.4L859.7 559L861 560.6L864 561.6L867 560.6L869 559L870 558.1L873 557L876 558.2L877 559L879 560.7L880.4 562L882 563.5L883.8 565L885 566.6L886.3 568L887.1 571L886.5 574L885 575L882 574.4L879 574L876 574L875.6 574L873 573.8L870 573.2L867.6 574L867 574.8L866.7 577L866.4 580L865.9 583L865.3 586L864.8 589L864.7 592L865 595L865.6 598L866.6 601L867 602L867.5 604L867.7 607L867 609.6L866.8 610L864 612.8L863.7 613L861.7 616L864 618.7L864.2 619L867 621.3L868.7 622L870 623L871.3 622L873 621.3L874.3 619L876 616.3L876.1 616L877.6 613L879 610.9L880 610L882 608.5L885 607.9L887.2 610L887.8 613L888 613.7L888.5 616L889.2 619L889.7 622L890.5 625L891 625.8L894 627.7L897 627.9L897 628L897 631L897 634L897 636.4L894 635.3L891 634.2L888 634.2L885 635.3L882 636.7L879 635.3L878.1 634L876 631.8L874.7 631L873 629.7L870 629.8L869 631L867 633.6L866.5 634L864 636.1L861 634.7L860.6 634L858 632.4L856.7 631L855 629.3L853.5 628L852 625.8L849 625.9L846.6 628L846 628.3L843 630L840 631L840 631L839.3 631L837 631L834 630.6L833.1 631L831 631.8L828.6 634L828 634.4L825 635.5L822 634.5L821.7 634L820.2 631L819.1 628L819.2 625L822 623.2L825 622.2L825.6 622L825.9 619L825 618L822.2 616L822 615.9L819 613.9L817.8 613L816.8 610L816.3 607L816 605.2L815.7 604L815.5 601L815.8 598L816 597.4L816.6 595L817.6 592L818.4 589L819 586.6L820 586L822 585.6L823.7 586L825 586.2L828 587L831 586.9L832 586L833.3 583L833.2 580L832.9 577L833.1 574L834 572.5L836.3 571L837 570.6L840 568.1L840.1 568L840 567.6L839.5 565L838.4 562L837.7 559L838.7 556L840 553.5L840.1 553L842 550ZM847 574L848.2 577L849 577.8L851.7 577L850.3 574L849 573.1ZM843.4 595L843 595.9L842.1 598L843 599L844.5 601L846 602.5L849 603.3L852 601L852 601L853.5 598L853.4 595L852 592.9L849 592.6L846 593.7ZM894 579.6L897 578.9L897 580L897 583L897 586L897 589L897 592L897 595L897 596L895.9 595L894 593.5L892.8 592L891.1 589L891 588.5L890.4 586L890.7 583L891 582.2L893 580ZM879 591.9L879.2 592L879 594.5L878.7 592ZM567 603.9L567.2 604L570 606.6L570.3 607L571.5 610L570 612.5L567 611.9L564 610.9L561.7 610L562 607L564 604.3L565.8 604ZM552 611.4L555 610.9L557.6 613L555.3 616L555 616.3L552 617.1L550 616L549.6 613ZM597 618.7L598 619L600 621.3L600.2 622L600 622.8L597 624.8L594 622.4L593.8 622L594 621.4L596.1 619ZM588 642.9L591 642.6L591.2 643L591.1 646L591 646.4L588 647.5L587.6 646L587.9 643ZM897 642.5L897 643L897 646L897 649L897 650.4L894.9 649L894 647.1L893.6 646L894 645.4L896.4 643ZM876 673L879 671.8L882 671.6L885 671.4L888 671.1L891 670.9L893.2 673L893.1 676L892.7 679L891.1 682L891 682.1L888 682.9L885 683.4L882 684.1L879.6 685L879 685.4L876 687.5L873.2 688L873 688.1L872.9 688L870 686.4L868.8 685L868.5 682L870 680.2L871 679L873 676.8L873.6 676L876 673ZM531 678.4L534 678.4L537 678.6L537.7 679L540 681.8L540.1 682L540 682.3L537.4 685L537 685.1L536.7 685L534 683L532.6 682L531 679.9L530.7 679ZM588 684.8L589.2 685L591 685.6L592.9 688L592.8 691L591.1 694L591 694.3L588.4 697L588 697L585 697L582 697L579 697L576 697L573 697L570 697L567 697L564 697L561 697L558 697L555 697L552 697L549 697L546 697L543 697L540 697L539.5 697L540 696.3L541.9 694L543 693.1L546 692.7L549 692.9L552 693L555 692.9L558 694L558.1 694L561 696.1L564 694.8L564.7 694L567 692L568.4 691L570 690L573 689.7L575.6 691L576 691.2L579 692.4L580.5 691L582 688L582 688L585 685.6L587 685Z"/>
<path fill="#ff7b08" d="M669 537.3L672 537.3L673.9 538L675 538.6L677.2 541L678 542.1L679.3 544L681 546.2L681.5 547L682.4 550L681.4 553L681 553.5L679.2 556L678 557.6L677 559L675 561.9L674.8 562L674 565L675 565.9L677.8 568L678 569.5L678.2 568L681 566.1L681.6 565L684 563.3L685.9 562L687 561.4L690 560.9L693 561.2L694.6 562L696 563.9L696.5 565L697.2 568L698.2 571L699 572.5L699.5 574L699.4 577L699 577.7L696.8 580L696 580.7L693 581L692 580L690 577.3L689.8 577L687 574.4L686.1 574L684 573L681 571.2L678 571.3L677.4 574L676.2 577L675 578.4L672 579.1L669 578.4L666 577.7L663 577L662.9 577L660 574.7L659.6 574L659.7 571L660 570.5L661.7 568L663 566.2L664.5 565L664.2 562L663 560.5L662.3 559L660.1 556L660 555.9L657.1 553L657 552.9L654 550.1L651 550.4L648.8 553L648 553.6L646 556L645 557.5L643.9 559L642.3 562L642 563.5L641.3 565L642 566.9L642.2 568L643.1 571L642.7 574L643.3 577L645 579.6L645.2 580L645.9 583L645.4 586L645 587.2L644.2 589L643.1 592L642 594.7L641.4 595L639 595.9L638.4 595L636.6 592L636 591.3L634.9 589L633.1 586L633 585L632.7 583L633 582.5L634.8 580L636 578.3L637.1 577L637.6 574L637.2 571L636.2 568L636 567.8L633 566.3L630 565.8L627.2 565L627 564.7L626.4 562L627 561L628.2 559L630 556.7L630.5 556L633 553.9L636 553.1L636.7 553L639 552.8L642 551.7L644.1 550L645 549.3L648 548L651 549.2L654 549.7L655.4 547L657 546.3L660 544L660 544L663 541.4L663.5 541L666 538.9L667.4 538ZM759 537.2L759.7 538L759 538.2L758.9 538ZM786 537.4L789 537.5L789.6 538L792 540.4L792.1 541L792.4 544L793.7 547L792.3 550L792 550.3L789 552.9L788.7 553L786 554.4L783.1 553L783 552.7L782.9 550L782 547L781.7 544L782.3 541L783 540.2L785.6 538ZM762 539.6L765 540.2L768 540.9L768.2 541L771 543.1L772.7 544L773.1 547L774 548.3L774.5 550L775.5 553L777 555L777.7 556L777 558.3L776.2 559L774 561.7L773.8 562L771 562.3L768 562.3L765.7 562L765 561.5L763.8 562L762 562.3L759 562.6L758 562L757.6 559L759 557.7L761.8 556L762 555.9L764.8 553L765 552.8L767.1 550L768 547.1L768.1 547L768 546.9L767.1 544L765 541.3L762 541.2L761.5 541ZM690 588.1L691.7 589L693 589.5L694.5 592L696 594L696.8 595L699 597.9L699.3 598L702 600.6L702.5 601L703.8 604L702 606.4L699 605.8L696.5 604L696 603.8L693 602.4L691.3 601L690 599.7L689.2 598L688.5 595L688.2 592L689.3 589ZM666 618.9L669 618.5L670.2 619L671.4 622L669.9 625L669 626.1L666.4 628L666 628.3L663 628L662.9 628L660.7 625L661.7 622L663 620.8L665.7 619ZM747 630.7L750 630.8L750.1 631L750.3 634L750 634.1L748.5 634L747 633.1L746.8 631ZM726 663.8L729 663.3L730.5 664L732 665L735 665.9L738 666.2L739.5 667L741 668.1L741.7 670L741.7 673L741 675.9L740.9 676L738.3 679L738 679.7L736.9 682L737.1 685L738 686.3L738.5 688L739.8 691L741 692.2L741.9 694L742.3 697L741 697L738 697L735 697L732 697L729 697L726.9 697L727.5 694L728.5 691L728.4 688L728.5 685L729 684.2L730.6 682L732 679.5L732.6 679L732.4 676L732 675.6L730.9 673L729 670.4L728.5 670L726 667.6L725.4 667L725.7 664ZM777 669.7L780 669.8L780.1 670L780 670.1L777 670.8L776.6 670Z"/>
</g>
<g fill="none" stroke="#666" stroke-width="1.4" stroke-linejoin="round" clip-path="url(#prov)">
<path d="M395.7 166.7C398.5 166.9 407.2 167.9 412.4 167.8C417.6 167.7 423.6 165.7 426.8 165.9C430 166.1 431.2 167.1 431.6 169C432 170.9 431.2 174.4 429.2 177.4C427.2 180.4 421.4 183.4 419.6 187C417.8 190.6 419.6 195.9 418.4 198.9C417.2 201.9 414 202.7 412.4 204.9C410.8 207.1 411.7 210.8 408.9 212.1C406.1 213.4 400.3 213.2 395.7 212.8C391.1 212.4 385.7 210.8 381.3 209.7C376.9 208.6 372.6 207 369.4 206.1C366.2 205.2 365 204 362.2 204.2C359.4 204.4 356.6 206.4 352.6 207.3C348.6 208.2 341.1 208.7 338.3 209.7C335.5 210.7 335.3 212.3 335.9 213.3C336.5 214.3 339.9 215.3 341.9 215.7C343.9 216.1 347 214.5 347.8 215.7C348.6 216.9 347.7 221.1 346.7 222.9C345.7 224.7 342.1 224.9 341.9 226.5C341.7 228.1 343.3 231 345.5 232.4C347.7 233.8 352.4 233.6 355 234.8C357.6 236 359.6 237.2 361 239.6C362.4 242 363.1 246 363.4 249.2C363.7 252.4 363.3 256.2 362.7 258.8C362.1 261.4 360.3 263.7 359.8 264.7"/>
<path d="M429.2 177.4C430.8 177.8 435.6 178.7 438.8 179.8C442 180.9 445.1 184.5 448.3 184.1C451.5 183.7 454.7 179 457.9 177.4C461.1 175.8 464.3 174.8 467.5 174.5C470.7 174.2 474.2 176.2 477 175.5C479.8 174.8 482.2 171.3 484.2 170.2C486.2 169.1 487.8 167.4 489 169C490.2 170.6 490.6 176 491.4 179.8C492.2 183.6 492.4 188.2 493.8 191.8C495.2 195.4 498.2 198.5 499.8 201.3C501.4 204.1 502.3 206.1 503.3 208.5C504.3 210.9 506.1 213.7 505.7 215.7C505.3 217.7 503.4 218.9 501 220.5C498.6 222.1 494 223.7 491.4 225.3C488.8 226.9 486.2 228 485.4 230C484.6 232 487.2 235.2 486.6 237.2C486 239.2 484.2 241.6 481.8 242C479.4 242.4 475.4 239.4 472.2 239.6C469 239.8 465.5 241.6 462.7 243.2C459.9 244.8 457.2 248.1 455.5 249.2C453.8 250.3 452.9 249.9 452.4 250"/>
<path d="M501.5 203.5C501.3 204.3 499.7 206.3 500.3 208.3C500.9 210.3 503.3 213.1 505.1 215.5C506.9 217.9 508.5 221.1 511.1 222.7C513.7 224.3 516.7 224.5 520.7 225.1C524.7 225.7 531 225.5 535 226.3C539 227.1 541 230.1 544.6 229.9C548.2 229.7 553.6 227.5 556.6 225.1C559.6 222.7 562.5 218.3 562.5 215.5C562.5 212.7 558.4 210.3 556.6 208.3C554.8 206.3 552.7 205.1 551.8 203.5C550.9 201.9 550.5 200.2 551.3 198.8C552.1 197.4 553.7 196.2 556.6 195.2C559.5 194.2 564.5 193.8 568.5 192.8C572.5 191.8 577.1 191.4 580.5 189.2C583.9 187 586.7 182.4 588.9 179.6C591.1 176.8 592.5 174.8 593.6 172.4C594.7 170 595 166.5 595.3 165.3"/>
<path d="M452.4 250C452.2 252 451.2 258.4 451.2 262C451.2 265.6 453.2 268.7 452.4 271.5C451.6 274.3 446.9 276.3 446.5 278.7C446.1 281.1 449.2 282.7 450 285.9C450.8 289.1 451.6 293.8 451.2 297.8C450.8 301.8 448.7 306.6 447.7 309.8C446.7 313 445.1 315 445.3 317C445.5 319 448.9 320.2 448.9 321.8C448.9 323.4 448.3 325.6 445.3 326.6C442.3 327.6 435.7 327.2 430.9 327.8C426.1 328.4 420.6 328.9 416.6 330.1C412.6 331.3 409.8 333.1 407 334.9C404.2 336.7 403 339.7 399.8 340.9C396.6 342.1 391.8 341.9 387.8 342.1C383.8 342.3 378.9 342.1 375.9 342.1C372.9 342.1 370.9 342.1 369.9 342.1"/>
<path d="M556.6 225.1C557.8 225.3 561.7 224.5 563.9 226.3C566.1 228.1 568.7 233.1 569.9 235.9C571.1 238.7 572.1 240.7 571.1 243.1C570.1 245.5 566.7 247.4 563.9 250.2C561.1 253 557.2 256.2 554.4 259.8C551.6 263.4 548.8 267.8 547.2 271.8C545.6 275.8 544.4 280.1 544.8 283.7C545.2 287.3 547.2 290.5 549.6 293.3C552 296.1 556.3 297.9 559.1 300.5C561.9 303.1 566.3 307.1 566.3 308.9C566.3 310.7 560.3 310.8 559.1 311.2"/>
<path d="M560.1 311C558.1 311.4 552.9 312.4 548.1 313.4C543.3 314.4 536.6 316 531.4 317C526.2 318 519.8 318.2 517 319.4C514.2 320.6 514.6 322.6 514.6 324.2C514.6 325.8 518.2 327.9 517 328.9C515.8 329.9 510.1 329.3 507.5 330.1C504.9 330.9 502.3 332.1 501.5 333.7C500.7 335.3 500.9 338.3 502.7 339.7C504.5 341.1 510 340.7 512.2 342.1C514.4 343.5 513.8 346.3 515.8 348.1C517.8 349.9 521.8 350.9 524.2 352.9C526.6 354.9 529 357.6 530.2 360C531.4 362.4 532 364.8 531.4 367.2C530.8 369.6 527.2 371.2 526.6 374.4C526 377.6 527.8 383.2 527.8 386.4C527.8 389.6 528 391.8 526.6 393.5C525.2 395.2 522 396 519.4 396.4C516.8 396.8 512.5 396 511.1 395.9"/>
<path d="M559.1 311.2C559.9 312.6 561.5 316.6 563.9 319.6C566.3 322.6 570.5 326.2 573.5 329.2C576.5 332.2 581.5 335.2 581.9 337.6C582.3 340 577.5 341.3 575.9 343.5C574.3 345.7 572.3 347.9 572.3 350.7C572.3 353.5 574.7 357.1 575.9 360.3C577.1 363.5 578.7 366.6 579.5 369.9C580.3 373.2 580.5 378.4 580.7 380.1"/>
<path d="M581.9 337.6C582.9 339.4 585.2 346.1 587.8 348.3C590.4 350.5 593.4 350.9 597.4 350.7C601.4 350.5 607 348.1 611.8 347.1C616.6 346.1 621.3 344.7 626.1 344.7C630.9 344.7 636.1 346.3 640.5 347.1C644.9 347.9 648.8 348.5 652.4 349.5C656 350.5 659.8 350.9 662 353.1C664.2 355.3 664.8 359.5 665.6 362.7C666.4 365.9 667.4 369.4 666.8 372.2C666.2 375 662.8 378.2 662 379.4"/>
<path d="M579.1 370C579.9 371.6 581.5 377.2 583.9 379.6C586.3 382 591.5 382 593.5 384.4C595.5 386.8 594.7 391.1 595.9 393.9C597.1 396.7 599.1 398.3 600.7 401.1C602.3 403.9 604.1 407.3 605.5 410.7C606.9 414.1 609.8 419.2 609 421.4C608.2 423.6 602.9 422.4 600.7 423.8C598.5 425.2 596.3 427.2 595.9 429.8C595.5 432.4 598.3 436.6 598.3 439.4C598.3 442.2 595.1 444.2 595.9 446.6C596.7 449 602.3 451.3 603.1 453.7C603.9 456.1 601.3 458.8 600.7 460.9C600.1 463 599.5 465.2 599.3 466.1"/>
<path d="M667.7 370C667.3 371.2 668.1 375.6 665.3 377.2C662.5 378.8 654.1 378.4 650.9 379.6C647.7 380.8 645.9 382.4 646.1 384.4C646.3 386.4 651.1 388.7 652.1 391.5C653.1 394.3 653.1 397.9 652.1 401.1C651.1 404.3 648.3 407.9 646.1 410.7C643.9 413.5 640.3 415.6 638.9 417.8C637.5 420 636.6 422.3 637.8 423.8C639 425.3 643.7 426.9 646.1 426.9C648.5 426.9 650.7 425.7 652.1 423.8C653.5 421.9 653.1 417.7 654.5 415.5C655.9 413.3 657.9 411.7 660.5 410.7C663.1 409.7 666.8 409.3 670 409.5C673.2 409.7 676.4 410.1 679.6 411.9C682.8 413.7 685.6 418 689.2 420.2C692.8 422.4 697.1 423.6 701.1 425C705.1 426.4 708.7 428.2 713.1 428.6C717.5 429 722.7 427.6 727.5 427.4C732.3 427.2 737.2 427.2 741.8 427.4C746.4 427.6 752.8 428.4 755 428.6"/>
<path d="M652.1 426.2C653.1 426.8 657.5 427.6 658.1 429.8C658.7 432 656 436.7 655.7 439.4C655.4 442.1 655.9 443.5 656.3 445.9C656.7 448.3 656.6 451.8 658.2 453.8C659.8 455.8 663.8 456.1 666.1 457.7C668.4 459.3 671.4 461.3 672 463.6C672.6 465.9 669.8 468.8 670 471.4C670.2 474 672.5 476.7 673 479.3C673.5 481.9 673.2 484.9 673 487.2C672.8 489.5 671.2 491.5 672 493C672.8 494.5 675.3 495.3 677.9 496C680.5 496.7 684.8 496.2 687.7 497C690.7 497.8 693.3 499.4 695.6 500.9C697.9 502.4 700.2 504.5 701.5 505.8C702.8 507.1 703.1 508.3 703.4 508.8"/>
<path d="M484.5 440C484.7 441.6 485.4 446.5 485.5 449.8C485.6 453.1 484.9 456.3 484.9 459.6C484.9 462.9 485.1 466.6 485.5 469.5C485.9 472.4 486.4 475.7 487.4 477.3C488.4 478.9 488.9 478.6 491.4 479.3C493.9 480 497.8 481.1 502.2 481.3C506.6 481.5 512.7 480.8 517.9 480.3C523.1 479.8 528.4 479 533.6 478.3C538.8 477.6 544.1 477.1 549.3 476.3C554.5 475.5 559.9 474.4 565 473.4C570.1 472.4 577.2 471 580 470.5C582.8 470 579.7 471 581.6 470.5C583.5 470 588.5 468.2 591.4 467.5C594.3 466.8 598 466.3 599.3 466.1"/>
<path d="M599.3 466.1C599.8 467.3 601.1 470.5 602.2 473.4C603.4 476.2 604.7 479.9 606.2 483.2C607.7 486.5 609.3 489.7 611.1 493C612.9 496.3 615 499.9 617 502.9C619 505.8 621.6 508.6 622.9 510.7C624.2 512.8 622.2 514.1 624.8 515.6C627.4 517.1 634.7 518.8 638.6 519.6C642.5 520.4 645.8 520.5 648.4 520.6C651 520.7 651.3 520.7 654.3 520.2C657.2 519.7 662.5 518.4 666.1 517.6C669.7 516.8 674.3 515.9 675.9 515.6"/>
<path d="M513 482.2C512.5 482.9 511.8 485.4 510 486.2C508.2 487 505.1 487.2 502.2 487.2C499.2 487.2 494.9 486 492.3 486.2C489.7 486.4 488 487 486.4 488.1C484.8 489.2 482.5 491.5 482.5 493C482.5 494.5 484.8 496 486.4 497C488 498 491 497.6 492.3 498.9C493.6 500.2 493.8 502.5 494.3 504.8C494.8 507.1 496 510.9 495.3 512.7C494.6 514.5 492 514.8 490.4 515.6C488.8 516.4 486.2 516.8 485.5 517.6C484.8 518.4 485.1 520 486.4 520.6C487.7 521.2 491.6 520.9 493.3 521.5C495 522.1 496 523.2 496.3 524.5C496.6 525.8 496.3 528.1 495.3 529.4C494.3 530.7 492.5 531.8 490.4 532.3C488.3 532.8 484.8 532 482.5 532.3C480.2 532.6 477.4 533.3 476.6 534.3C475.8 535.3 476.9 536.9 477.6 538.2C478.3 539.5 480.3 541.1 480.6 542.2C480.9 543.4 478.6 545 479.6 545.1C480.6 545.2 484.3 543.6 486.4 543.1C488.5 542.6 490.5 541.7 492.3 542.2C494.1 542.7 495.6 544.5 497.2 546.1C498.8 547.7 500.7 549.7 502.2 552C503.7 554.3 504.8 557.8 506.1 559.8C507.4 561.8 508.5 563 510 563.8C511.5 564.6 512.9 565.5 514.9 564.8C516.9 564.1 520.1 561.6 521.8 559.8C523.4 558 524.3 556.2 524.8 553.9C525.3 551.6 525.1 548.7 524.8 546.1C524.5 543.5 522.6 540.2 522.8 538.2C522.9 536.2 523.9 535.3 525.7 534.3C527.5 533.3 531.1 533.1 533.6 532.3C536.1 531.5 538.5 529.7 540.5 529.4C542.5 529.1 542.9 529.6 545.4 530.4C547.9 531.2 552.2 533 555.2 534.3C558.2 535.6 561.1 536.6 563.1 538.2C565.1 539.8 565.4 542.6 567 544.1C568.6 545.6 570.7 546.8 572.9 547.1C575.1 547.4 578.2 545.9 580 546.1C581.8 546.3 582 548.8 583.6 548.1C585.2 547.5 587.9 544.2 589.5 542.2C591.1 540.2 593.7 537.9 593.4 536.3C593.1 534.6 588.1 533.9 587.5 532.3C586.9 530.6 588.7 528.3 589.5 526.4C590.3 524.5 592.6 522.5 592.4 520.6C592.2 518.7 589 516.8 588.5 514.7C588 512.6 588.4 509.8 589.5 507.8C590.6 505.8 592.8 503.4 595.4 502.9C598 502.4 601.9 503.5 605.2 504.8C608.5 506.1 611.9 508.9 615 510.7C618.1 512.5 622.4 514.8 623.9 515.6"/>
<path d="M514.9 564.8C513.7 566 509.4 569 507.5 571.8C505.6 574.6 504.4 578.6 503.6 581.6C502.8 584.6 502.3 586.9 502.6 589.5C502.9 592.1 504.2 595 505.5 597.3C506.8 599.6 509.7 601.2 510.5 603.2C511.3 605.2 510.5 608.1 510.5 609.1"/>
<path d="M560.2 634.3C559.9 633.4 559.4 631.4 558.6 628.8C557.8 626.2 556.3 622.5 555.6 618.9C554.9 615.3 554.1 611.1 554.3 607.2C554.5 603.3 555.5 599 556.6 595.4C557.7 591.8 559 588.8 560.6 585.5C562.2 582.2 564.3 578.5 566.4 575.7C568.5 572.9 571 569.3 573.3 568.8C575.6 568.3 577.4 571.5 580.2 572.8C583 574.1 586.7 575.9 590 576.7C593.3 577.5 596.5 577.9 599.8 577.7C603.1 577.5 606.8 575.9 609.7 575.7C612.7 575.5 614.9 575.7 617.5 576.7C620.1 577.7 623.6 579.5 625.4 581.6C627.2 583.7 628.1 586.5 628.3 589.5C628.5 592.5 626.2 596.8 626.4 599.3C626.6 601.8 627.8 603.1 629.3 604.2C630.8 605.4 634.1 607 635.2 606.2C636.4 605.4 636.2 601.8 636.2 599.3C636.2 596.8 635 593 635.2 591.4C635.4 589.8 637.2 590.1 637.6 589.9"/>
<path d="M623.9 515.6C623.7 517.1 623.2 521.9 622.9 524.5C622.6 527.1 620.9 530.1 621.9 531.4C622.9 532.7 626 532.5 628.8 532.3C631.6 532.1 635.7 530.9 638.6 530.4C641.5 529.9 645.1 528.4 646.4 529.4C647.7 530.4 646.7 533.8 646.4 536.3C646.1 538.8 644.6 541.8 644.5 544.1C644.4 546.4 645.8 548 645.5 550C645.2 552 643.6 553.6 642.5 555.9C641.4 558.2 640.2 561.8 638.6 563.8C637 565.8 634 566.1 632.7 567.7C631.4 569.3 630.1 572 630.7 573.6C631.4 575.2 635.3 575.5 636.6 577.5C637.9 579.5 638.4 583.3 638.6 585.4C638.8 587.5 637.8 589.1 637.6 589.9"/>
<path d="M611.2 629.7C612.2 628.6 614.8 624.9 617.5 622.9C620.2 620.9 624 619.1 627.3 618C630.6 616.9 634.2 617.1 637.2 616C640.2 614.9 641.3 613.4 645 611.1C648.7 608.8 655.9 604.5 659.6 602C663.4 599.5 664.9 597.7 667.5 596.1C670.1 594.5 672.4 593.1 675.4 592.2C678.4 591.3 681.9 591.1 685.2 590.6C688.5 590.1 692.2 589.8 695 589.2C697.8 588.6 700.8 588.5 701.9 587.2C703 585.9 700.9 582.7 701.9 581.4C702.9 580.1 707 580.5 707.8 579.4C708.6 578.2 708.1 575.6 706.8 574.5C705.5 573.4 700.9 573.5 699.9 572.5C698.9 571.5 699.6 569.4 700.9 568.6C702.2 567.8 706.6 568.6 707.8 567.6C708.9 566.6 708.6 564.2 707.8 562.7C707 561.2 703.1 560.8 702.9 558.8C702.7 556.8 706.3 553.4 706.8 550.9C707.3 548.4 707.1 545.6 705.8 544C704.5 542.4 700.4 542.9 698.9 541.1C697.4 539.3 698.6 535.5 697 533.2C695.4 530.9 692.1 528.4 689.1 527.3C686.1 526.1 681.2 526.4 679.3 526.3C677.4 526.1 678.1 526.4 677.9 526.4"/>
<path d="M671.4 490C672.1 490.8 673.1 493.6 675.4 494.9C677.7 496.2 681.9 496.8 685.2 497.9C688.5 499 692.4 500.5 695 501.8C697.6 503.1 699.6 504.6 700.9 505.7C702.2 506.8 702.6 508.2 702.9 508.7"/>
<path d="M687.2 506.7C689.2 507 695 507.9 698.9 508.7C702.8 509.5 706.8 510.9 710.7 511.6C714.6 512.4 718.9 512.7 722.5 513.2C726.1 513.7 729.7 513.2 732.3 514.6C734.9 516 736.2 518.6 738.2 521.4C740.2 524.2 742.1 528.5 744.1 531.3C746.1 534.1 747.7 536.1 750 538.1C752.3 540.1 754.9 541.8 757.9 543C760.9 544.2 764.1 544.9 767.7 545.4C771.3 545.9 777.5 545.9 779.5 546"/>
</g>
<g fill="none" stroke="#1ba6ef" stroke-width="1.9" stroke-linejoin="round" stroke-linecap="round" clip-path="url(#prov)">
<path d="M417.3 548.1C417.2 546.5 416 541.2 416.7 538.2C417.4 535.2 419.5 533 421.6 530.4C423.7 527.8 426.9 525.5 429.5 522.5C432.1 519.5 435.2 516.3 437.3 512.7C439.4 509.1 440.7 504.2 442.2 500.9C443.7 497.6 444.4 495.4 446.2 493C448 490.6 450.2 488.1 453 486.2C455.8 484.2 459.3 482.4 462.9 481.3C466.5 480.2 471.1 479.6 474.7 479.3C478.3 479 481.2 478.9 484.5 479.3C487.8 479.7 490.7 481.2 494.3 481.7C497.9 482.2 502.5 482.4 506.1 482.2C509.7 482 512.6 480.9 515.9 480.3C519.2 479.7 523.7 478.8 525.7 478.3C527.7 477.8 528.1 477.2 528.1 477.2C528.1 477.2 529.1 481.5 530.3 482.9C531.5 484.3 533.5 485.3 535.2 485.7C537 486.1 537.8 486.5 540.8 485C543.8 483.5 552.9 476.5 552.9 476.5C552.9 476.5 555.2 478.8 557.8 480.7C560.4 482.6 568.4 487.8 568.4 487.8C568.4 487.8 576.9 474.4 576.9 474.4C576.9 474.4 580.8 475.6 583.9 476.5C587 477.4 595.2 480 595.2 480C595.2 480 593.8 488.5 593.8 488.5C593.8 488.5 600.8 493.2 603 494.9C605.2 496.6 605.2 496.8 607.2 498.9C609.2 501 612.7 505 615 507.8C617.3 510.6 618.8 513.5 620.9 515.6C623 517.7 624.8 519.5 627.8 520.6C630.8 521.8 634.8 522 638.6 522.5C642.4 523 646.5 523.7 650.4 523.5C654.3 523.3 658.6 522.3 662.2 521.5C665.8 520.7 669.1 519.9 672 518.6C674.9 517.3 677.5 515.8 679.8 513.7C682.1 511.6 683.7 507.9 685.7 505.8C687.7 503.7 689.6 502 691.6 501.3C693.6 500.6 694.5 501.1 697.5 501.9C700.5 502.6 705.8 504.5 709.3 505.8C712.8 507.1 715.8 508.1 718.6 509.6C721.5 511.1 724.4 512.6 726.4 514.6C728.4 516.6 728.8 519 730.4 521.4C732 523.8 734.3 526.7 736.3 529.3C738.3 531.9 739.9 534.9 742.2 537.2C744.5 539.5 747.1 541.4 750 543C752.9 544.6 756.5 546.1 759.8 547C763.1 547.9 766.4 548.1 769.7 548.3C773 548.5 777.9 548 779.5 548"/>
<path d="M668 208.4C666.6 208.6 663.1 208.1 659.4 209.5C655.7 210.9 650.4 214.1 645.8 217C641.2 219.9 636.5 223.9 632 227C627.5 230.1 623.6 233.1 618.5 235.7C613.4 238.3 607.2 240.8 601.5 242.5C595.8 244.2 589.5 244.6 584.4 246C579.3 247.4 575.3 249.3 570.8 251C566.3 252.7 561.2 254.6 557.2 256C553.2 257.4 550.4 257.5 547 259.5C543.6 261.5 540.7 264.9 536.7 268C532.7 271.1 527.5 274.9 523 278.3C518.5 281.7 514 285.1 509.5 288.5C505 291.9 500.1 295.6 495.8 298.7C491.5 301.8 487.9 304.8 483.5 307.4C479.1 310 473.6 312.2 469.2 314.6C464.8 317 461.2 318.8 457.2 321.8C453.2 324.8 448.2 329.1 445.3 332.5C442.4 335.9 441.4 338.6 439.5 342.4C437.6 346.1 433.8 355 433.8 355C433.8 355 425.4 358.1 425.4 358.1C425.4 358.1 426.9 342.8 426.9 342.8C426.9 342.8 424.8 346.1 423.3 346.6C421.8 347.1 418 345.6 418 345.6C418 345.6 416.4 340.9 416.4 340.9C416.4 340.9 411.8 350.8 411.8 350.8C411.8 350.8 413.9 359.2 413.9 359.2C413.9 359.2 408.6 358.1 408.6 358.1C408.6 358.1 407.7 363.6 406.5 365.5C405.3 367.4 405.3 369 401.3 369.2C397.3 369.4 386.8 368.2 382.4 366.5C378 364.8 377.4 363.2 375.1 359.2C372.8 355.2 369.9 345.2 368.8 342.4"/>
</g>
<path d="M115.6 102.6C118.3 99.6 122.7 98 127.5 96.8C132.3 95.6 138.5 95.8 144.5 95.4C150.5 95 158.2 94.2 163.3 94.4C168.4 94.6 172.4 96.2 175.2 96.8C178 97.4 177.6 97 180 98.3C182.4 99.6 187.8 102.3 189.8 104.8C191.9 107.2 190.9 110.5 192.3 113C193.7 115.5 195.6 117.4 198 119.6C200.4 121.8 205.6 124.1 207 126.1C208.4 128.1 205.9 130 206.2 131.8C206.5 133.7 207.2 136.2 208.7 137.2C210.2 138.2 213.8 136.8 215.2 137.9C216.6 139.1 216.6 141.7 217.3 144.1C218 146.5 218.4 149.7 219.3 152.3C220.2 154.9 221.1 157.9 222.6 159.7C224.1 161.5 226.5 162.9 228.3 163C230.1 163.1 232.1 162.3 233.2 160.5C234.3 158.7 233.7 154.5 234.9 152.3C236.1 150.1 238.3 148.4 240.6 147.4C242.9 146.4 246.2 145.9 248.8 146.6C251.4 147.3 253.7 149.4 256.1 151.5C258.6 153.6 261.2 157.2 263.5 158.9C265.8 160.6 267.7 161.5 270.1 161.8C272.6 162.1 275.5 161.5 278.2 160.5C280.9 159.5 283.7 157.1 286.4 155.6C289.1 154.1 291.6 152.2 294.6 151.5C297.6 150.8 301.9 151.9 304.4 151.5C306.9 151.1 308.4 151.1 309.4 149C310.4 146.9 309.4 141.5 310.2 139.2C311 136.9 312.2 136 314.3 135.1C316.4 134.2 317.9 134.3 322.5 134C327.1 133.7 337.1 133.1 342.1 133.3C347.1 133.5 350.4 133.3 352.4 135C354.4 136.7 353 141.2 354.1 143.5C355.2 145.8 357.6 147.1 359.2 148.6C360.8 150.1 363.3 151 363.6 152.7C363.9 154.4 361.9 156.9 360.9 158.8C359.9 160.7 357.5 161.9 357.5 163.9C357.5 165.9 358.3 169.4 360.9 170.7C363.4 172 368.6 172 372.8 171.8C377.1 171.6 383.6 170.1 386.4 169.7C389.2 169.3 388 170.2 389.8 169.6C391.6 169 395.7 167.9 397.2 166.3C398.7 164.7 398.4 162 398.8 159.8C399.2 157.6 399.6 156.3 399.6 153.2C399.6 150.1 398 144.5 398.8 141C399.6 137.5 401.7 134.3 404.6 132C407.5 129.7 412.5 127.6 416 127C419.5 126.4 422.8 127.9 425.8 128.4C428.8 129 430.7 129.9 434 130.3C437.3 130.8 442.9 131.5 445.5 131.1C448.1 130.7 449.3 129.2 449.6 127.9C449.9 126.6 447.9 124.4 447.1 123C446.3 121.6 444.7 121.2 444.7 119.7C444.7 118.2 445.9 116 447.1 113.9C448.3 111.9 450.2 109.7 452 107.4C453.8 105.1 456.4 102.2 457.8 100C459.2 97.8 459.7 96.6 460.2 94.3C460.7 92 460.4 88.3 461 86.1C461.6 83.9 461.7 82 463.5 80.9C465.3 79.8 468.1 80 471.7 79.6C475.2 79.2 481 78.8 484.8 78.4C488.6 78 492.2 77.9 494.6 77.1C497.1 76.3 497.6 74.9 499.5 73.8C501.4 72.7 503.4 71.4 506.1 70.6C508.8 69.8 513.2 69.1 515.9 68.9C518.6 68.7 521.1 69 522.5 69.4C523.9 69.8 524.4 70.5 524.1 71.4C523.8 72.3 522.4 73 520.8 74.6C519.2 76.2 516.2 79 514.3 81.2C512.4 83.4 510.7 85.4 509.4 87.7C508.1 90 507.2 92.7 506.6 95C506.1 97.3 506 99.2 506.1 101.5C506.2 103.8 506.6 106.7 507.2 109.1C507.8 111.5 508.6 113.8 509.9 115.7C511.2 117.6 513.1 119.2 514.8 120.5C516.5 121.8 518.4 122.7 520.2 123.3C522 123.9 523.7 124.1 525.7 124.1C527.7 124 530 123.4 532.2 123C534.4 122.6 536.5 121.7 538.7 121.6C540.9 121.5 543.6 121.9 545.2 122.2C546.8 122.5 547.8 122.9 548.5 123.5C549.2 124.1 550 125.1 549.6 126C549.2 126.9 547.2 127.7 546.3 128.7C545.4 129.7 544.3 130.9 544.1 132C543.9 133.1 544.1 134.2 545.2 135.2C546.3 136.2 548.5 136.9 550.7 137.9C552.9 138.9 555.8 140 558.3 141.2C560.8 142.4 563.7 143.7 565.9 145C568.1 146.3 569.8 147.9 571.3 149.3C572.8 150.8 572.1 152.8 574.6 153.7C577.1 154.6 583.1 154.3 586.1 154.9C589.1 155.5 591.2 155.5 592.9 157.3C594.6 159.1 594.4 164.1 596.4 165.8C598.4 167.5 602 167.3 604.9 167.5C607.8 167.7 609.6 166.8 613.6 167C617.6 167.2 625 167.3 629 168.7C633 170.1 634.7 173.5 637.5 175.6C640.3 177.7 642.6 180.2 646 181.3C649.4 182.4 655.1 181.4 657.9 182.4C660.7 183.4 661.6 184.7 663 187.5C664.4 190.3 665.3 195.4 666.4 199.4C667.5 203.4 668.1 208.2 669.8 211.3C671.5 214.4 674.4 216.1 676.7 218.1C679 220.1 681.8 220.5 683.5 223.3C685.2 226.2 685.5 230.4 686.9 235.2C688.3 240 689.7 247.7 692 252.2C694.3 256.7 698.2 258.4 700.5 262.4C702.8 266.4 703.9 271.6 705.6 276.1C707.3 280.7 709.6 285.4 710.7 289.7C711.8 293.9 712.2 297.9 712.4 301.6C712.6 305.3 710.9 309.4 711.8 311.8C712.6 314.2 716.1 313.6 717.5 315.9C718.9 318.2 718.8 322.5 719.9 325.5C721 328.5 722.9 332.1 724.4 334C725.9 335.9 728.2 335.6 728.8 336.7C729.4 337.8 727.1 338.7 727.8 340.8C728.5 342.9 731.2 347 732.9 349.3C734.6 351.6 737.3 352.1 738 354.4C738.7 356.7 736.4 360 737.3 362.9C738.1 365.8 741 368.6 743.1 371.5C745.2 374.4 748.5 377.2 749.9 380C751.3 382.8 751.9 385.7 751.6 388.5C751.3 391.3 749.6 394.4 748.2 397C746.8 399.6 742.8 400.9 743.1 403.8C743.4 406.7 747.9 410.7 749.9 414.1C751.9 417.5 753.3 421.2 755 424.3C756.7 427.4 758.1 430.7 760.1 432.8C762.1 434.9 763.6 436.1 767 437.2C770.4 438.3 775.8 438.6 780.6 439.6C785.4 440.6 791.1 441.6 795.9 443C800.7 444.4 805.8 446.1 809.5 448.1C813.2 450.1 815.8 452.1 818.1 455C820.4 457.9 822.6 462.1 823.2 465.2C823.8 468.3 822.6 471.1 821.5 473.7C820.4 476.2 817 478.2 816.4 480.5C815.8 482.8 816.7 485.6 818.1 487.3C819.5 489 823.5 489 824.9 490.7C826.3 492.4 824.3 496.1 826.6 497.5C828.9 498.9 834.2 498.9 838.5 499.3C842.8 499.7 847.8 499.3 852.1 499.9C856.4 500.5 861.2 501.1 864.1 502.7C867 504.3 867.2 506.9 869.2 509.5C871.2 512 873.5 515.5 876 518C878.5 520.5 882.8 522.2 884.5 524.8C886.2 527.3 884.8 530.2 886.2 533.3C887.6 536.4 891 540.4 893 543.5C895 546.6 897.2 549.2 898.1 552.1C899 555 899 558.3 898.1 560.6C897.2 562.9 896.1 565.1 893 565.7C889.9 566.3 883.9 565.1 879.4 564C874.9 562.9 870.3 560.6 865.8 558.9C861.2 557.2 856.6 555.5 852.1 553.8C847.6 552.1 842.5 550.7 838.5 548.7C834.5 546.7 831.7 544.1 828.3 541.8C824.9 539.5 822.1 536.5 818.1 535C814.1 533.5 808.7 532.6 804.4 532.6C800.1 532.6 795.9 533.8 792.5 535C789.1 536.2 786 538.1 784 540.1C782 542.1 780.6 544.7 780.6 547C780.6 549.3 781.7 552.1 784 553.8C786.3 555.5 790.8 555.8 794.2 557.2C797.6 558.6 801.9 561.2 804.4 562.3C806.9 563.4 807.3 562.7 809.4 563.7C811.5 564.7 814.9 566.6 816.8 568.3C818.6 570 820.2 572.1 820.5 573.8C820.8 575.5 819.8 576.9 818.6 578.3C817.4 579.7 815.2 580.9 813.1 582C811 583.1 808.2 583.9 805.8 584.8C803.3 585.7 800.8 586.4 798.4 587.5C796 588.6 793.1 589.8 791.1 591.2C789.1 592.6 787.6 594 786.5 595.8C785.4 597.6 784.9 600.1 784.7 602.2C784.6 604.3 785.3 606.6 785.6 608.6C785.9 610.6 787.1 612.9 786.5 614.1C785.9 615.3 783.6 615.2 781.9 616C780.2 616.8 777.8 617.5 776.4 618.7C775 619.9 773.9 621.6 773.7 623.3C773.6 625 775.4 627.1 775.5 628.8C775.6 630.5 775.7 632.3 774.6 633.4C773.5 634.5 771.2 635.1 769.1 635.6C767 636.1 764.2 635.9 761.7 636.1C759.2 636.4 756.5 636.3 754.4 637.1C752.3 637.9 749.7 639.3 748.9 640.7C748.1 642.1 749 643.8 749.8 645.3C750.6 646.8 753.2 648.4 753.5 649.9C753.8 651.4 753.1 653.6 751.7 654.5C750.3 655.4 747.8 655.1 745.2 655.4C742.6 655.7 739.2 655.8 736.1 656.3C733 656.8 729.4 657.3 726.9 658.2C724.4 659.1 722.5 660.4 721.4 661.8C720.3 663.2 720 665 720.5 666.4C721 667.8 723.6 668.7 724.1 670.1C724.6 671.5 724.3 673.5 723.2 674.7C722.1 675.9 720 676.6 717.7 677.4C715.4 678.2 711.9 678.4 709.4 679.3C706.9 680.2 705 681.7 703 682.9C701 684.1 699.3 685.7 697.5 686.6C695.7 687.5 693.5 688.7 692 688.4C690.5 688.1 689.1 686.3 688.3 684.8C687.5 683.3 687.4 681.1 687.4 679.3C687.4 677.5 688.6 675.3 688.3 673.8C688 672.3 687.1 670.7 685.6 670.1C684.1 669.5 681 670.4 679.2 670.1C677.4 669.8 675.7 669.2 674.6 668.3C673.5 667.4 673.6 665.7 672.8 664.6C672 663.5 670.9 662.2 670 661.8C669.1 661.4 669.2 662.1 667.4 662.3C665.5 662.5 662.2 663.4 658.9 663.2C655.6 663 650.9 662.2 647.6 661.2C644.3 660.2 641.9 658.8 639.1 657.5C636.3 656.2 633.3 654.9 630.7 653.3C628.1 651.6 625.5 649.7 623.6 647.6C621.7 645.5 620.6 643 619.4 640.6C618.2 638.2 617.9 635.4 616.5 633.5C615.1 631.6 613.2 630.2 610.9 629.2C608.5 628.2 605.7 628.1 602.4 627.8C599.1 627.5 594.9 627.1 591.1 627.3C587.3 627.5 583.6 628.3 579.8 629.2C576 630.1 570.9 631.6 568.5 632.9C566.1 634.1 568.2 636.5 565.7 636.7C563.2 636.9 558.1 635.6 553.8 634C549.5 632.4 544.6 629.2 540.1 627.2C535.6 625.2 530.5 623.8 526.5 622.1C522.5 620.4 518.8 619 516.3 617C513.8 615 512.9 611.4 511.2 610.1C509.5 608.9 508.4 608.4 506.1 609.5C503.8 610.6 500.9 615.2 497.5 617C494.1 618.8 490.4 619.8 485.6 620.4C480.8 621 474 620.5 468.6 620.4C463.2 620.3 457.3 620.9 453.3 619.7C449.3 618.6 446.2 616 444.7 613.5C443.2 611 443.2 607.3 444.1 605C445 602.7 447.1 601.2 449.8 599.9C452.5 598.6 457.2 598.6 460.1 597.2C463 595.8 465.6 593.8 466.9 591.4C468.2 589 468.5 585.7 467.9 582.9C467.3 580.1 465.4 577.2 463.5 574.4C461.6 571.5 459.6 568.1 456.7 565.8C453.8 563.5 449.8 562.4 446.4 560.7C443 559 438.8 557.6 436.2 555.6C433.6 553.6 432.5 551.1 431.1 548.8C429.7 546.5 429.7 542.9 427.7 542C425.7 541.1 421.5 544 419.2 543.7C416.9 543.4 415 542.3 414.1 540.3C413.2 538.3 415 534.1 414.1 531.8C413.2 529.5 411.6 528.4 409 526.7C406.4 525 401.6 523.3 398.7 521.6C395.8 519.9 393 518.7 391.9 516.4C390.8 514.1 391 510.4 391.9 507.9C392.8 505.3 394.7 502.8 397 501.1C399.3 499.4 403 499.1 405.6 497.7C408.2 496.3 411 494.6 412.4 492.6C413.8 490.6 412.7 487.3 414.1 485.8C415.5 484.3 418.3 484 420.9 483.4C423.4 482.8 427.1 483.4 429.4 482.4C431.7 481.4 433.4 479.9 434.5 477.3C435.6 474.7 435.4 470.9 436.2 467C436.9 463.1 439.3 457.1 439 453.8C438.7 450.5 437 448.7 434.6 447C432.2 445.3 426.7 445.5 424.4 443.5C422.1 441.5 421 437.6 421 435C421 432.4 422.4 429.6 424.4 428.2C426.4 426.8 429.2 426.7 432.9 426.5C436.6 426.3 442 426.8 446.5 427.2C451 427.6 455.6 428.2 460.1 429.2C464.7 430.2 469.5 431.5 473.8 433.3C478.1 435.1 482.6 438.1 485.7 440.1C488.8 442.1 490.2 444.2 492.5 445.2C494.8 446.2 497.3 447.1 499.3 446.3C501.3 445.5 503 442.6 504.4 440.1C505.8 437.7 506.6 434.2 507.8 431.6C509.1 429.1 511.9 426.8 511.9 424.8C511.9 422.8 508.2 421.4 507.8 419.7C507.4 418 508.6 416.9 509.5 414.6C510.4 412.3 512.6 409 512.9 406.1C513.2 403.2 513.2 399.5 511.2 397.5C509.2 395.5 504.1 395.5 501 394.1C497.9 392.7 495.1 391.3 492.5 389C489.9 386.7 488.2 382.5 485.7 380.5C483.1 378.5 480.3 377.7 477.2 377.1C474.1 376.5 470.4 376.5 467 377.1C463.6 377.7 459.8 378.8 456.7 380.5C453.6 382.2 450.2 384.5 448.2 387.3C446.2 390.1 445.2 394.1 444.8 397.5C444.4 400.9 447.2 405.8 445.8 407.8C444.4 409.8 441.3 409.1 436.3 409.5C431.3 409.9 422.3 410.3 415.8 410.2C409.3 410.1 402.2 410.1 397.1 408.8C392 407.6 388.6 406 385.2 402.7C381.8 399.4 378.7 394.1 376.7 389C374.7 383.9 374.1 377.7 373.3 372C372.6 366.3 372.8 359.8 372.2 355C371.6 350.2 371.3 345 369.8 343C368.3 341 366.1 341.9 363 343C359.9 344.1 354.2 348.9 351.1 349.8C348 350.7 347.1 349.5 344.3 348.1C341.5 346.7 336.4 344.1 334.1 341.3C331.8 338.5 329.6 335.6 330.7 331.1C331.8 326.6 337.5 319.8 340.9 314.1C344.3 308.4 348.1 301.9 351.1 297C354.2 292.1 357.3 288.9 359.2 284.9C361.1 280.9 362.3 276.3 362.6 272.9C362.9 269.5 362.6 266.1 360.9 264.4C359.2 262.7 356.1 262.8 352.4 262.7C348.7 262.6 343.8 263.1 338.7 263.7C333.6 264.3 326.8 265.4 321.7 266.1C316.6 266.8 311.5 268.1 308.1 267.8C304.7 267.5 302.1 266.1 301.2 264.4C300.3 262.7 301.8 259.6 302.9 257.6C304 255.6 307.5 254.3 308.1 252.5C308.7 250.7 308.1 248.1 306.4 246.7C304.7 245.3 299.8 245.6 297.8 244C295.8 242.4 295.5 239.8 294.4 237.2C293.3 234.6 292.4 230.4 291 228.7C289.6 227 287.9 226.7 285.9 227C283.9 227.3 280.6 230.7 279.1 230.4C277.6 230.1 277.8 226.9 276.7 225.2C275.6 223.5 273.9 220.8 272.3 220.1C270.7 219.4 269.2 221.2 267.2 220.8C265.2 220.4 263.2 218.2 260.4 217.4C257.5 216.6 254.1 216 250.1 216C246.1 216 240.5 217 236.5 217.4C232.5 217.8 229.1 218.8 226.3 218.4C223.5 218 221.8 216.9 219.5 215C217.2 213.1 215.3 209.8 212.7 207.2C210.1 204.6 206.7 202.4 204.1 199.7C201.5 197 198.7 194.3 197.3 191.2C195.9 188.1 196.4 184.1 195.6 181C194.8 177.9 194.2 173.9 192.2 172.4C190.2 170.9 187.1 172.2 183.7 171.8C180.3 171.4 175.2 171 171.8 169.7C168.4 168.4 166.4 165.2 163.3 163.9C160.2 162.7 156.7 163 153 162.2C149.3 161.3 144.8 161 141.1 158.8C137.4 156.7 134.3 152.1 130.9 149.3C127.5 146.5 124 143.9 120.7 141.8C117.4 139.7 113.3 139 111.1 136.7C108.9 134.4 107.7 131.8 107.7 128.1C107.7 124.4 109.8 118.8 111.1 114.5C112.4 110.2 112.9 105.5 115.6 102.6Z" fill="none" stroke="#444" stroke-width="3.3" stroke-linejoin="round"/>
<g>
<circle cx="232.4" cy="192.2" r="2" fill="#444"/>
<text class="c" x="243" y="196.3">徐州</text>
<circle cx="377.2" cy="221.8" r="2" fill="#444"/>
<text class="c" x="381.7" y="228.2">宿迁</text>
<circle cx="505" cy="144.7" r="2" fill="#444"/>
<text class="c" x="487.7" y="138.6">连云港</text>
<circle cx="488" cy="276.6" r="2" fill="#444"/>
<text class="c" x="492.4" y="281.7">淮安</text>
<circle cx="670.2" cy="307.8" r="2" fill="#444"/>
<text class="c" x="675.6" y="311.8">盐城</text>
<circle cx="610.2" cy="452.6" r="2" fill="#444"/>
<text class="c" x="616.4" y="457.7">泰州</text>
<circle cx="745.5" cy="515.6" r="2" fill="#444"/>
<text class="c" x="754" y="520.7">南通</text>
<circle cx="616" cy="545.9" r="2" fill="#444"/>
<text class="c" x="621" y="551.4">常州</text>
<circle cx="663.7" cy="581" r="2" fill="#444"/>
<text class="c" x="668.8" y="585.1">无锡</text>
<circle cx="706" cy="606.6" r="2" fill="#444"/>
<text class="c" x="712.4" y="614">苏州</text>
<circle cx="448.1" cy="505.2" r="2" fill="#444"/>
<text class="c" x="453.3" y="510.3">南京</text>
<circle cx="535" cy="501.8" r="2" fill="#444"/>
<text class="c" x="540.1" y="506.2">镇江</text>
<circle cx="541.9" cy="434" r="2" fill="#444"/>
<text class="c" x="542.6" y="452">扬州</text>
</g>
<g>
<text class="n" x="149.6" y="138.9">21.2</text>
<text class="n" x="190.5" y="130.4">21.4</text>
<text class="n" x="222.9" y="193.4">20.5</text>
<text class="n" x="344.5" y="178.5">20.0</text>
<text class="n" x="330.9" y="249.7">19.3</text>
<text class="n" x="372.8" y="238.1">19.7</text>
<text class="n" x="371.5" y="307.7">21.5</text>
<text class="n" x="502" y="111.9">18.5</text>
<text class="n" x="546.3" y="123.5">19.6</text>
<text class="n" x="516.3" y="155.9">20.1</text>
<text class="n" x="442.4" y="156.9">19.4</text>
<text class="n" x="391.9" y="187.2">19.4</text>
<text class="n" x="517.3" y="196.7">21.4</text>
<text class="n" x="569.1" y="205.3">23.2</text>
<text class="n" x="452.2" y="219.9">20.2</text>
<text class="n" x="524.8" y="225.4">22.2</text>
<text class="n" x="597" y="231.1">23.9</text>
<text class="n" x="437.9" y="272">21.2</text>
<text class="n" x="525.8" y="266.9">22.6</text>
<text class="n" x="600.8" y="271.7">24.7</text>
<text class="n" x="668" y="269.4">26.2</text>
<text class="n" x="473.7" y="285.7">21.9</text>
<text class="n" x="506.1" y="305.1">23.3</text>
<text class="n" x="593" y="308.8">25.1</text>
<text class="n" x="639.2" y="329.8">25.9</text>
<text class="n" x="690.6" y="351.6">27.2</text>
<text class="n" x="665.4" y="395.9">27.2</text>
<text class="n" x="599.1" y="382.8">26.3</text>
<text class="n" x="471" y="331.7">24.3</text>
<text class="n" x="531.7" y="337.5">24.4</text>
<text class="n" x="415.8" y="378">25.9</text>
<text class="n" x="479.6" y="377">25.0</text>
<text class="n" x="547.7" y="404.9">26.2</text>
<text class="n" x="623.9" y="437.8">28.4</text>
<text class="n" x="648.4" y="445.3">28.8</text>
<text class="n" x="689.3" y="443.6">28.2</text>
<text class="n" x="706.3" y="466.1">29.8</text>
<text class="n" x="792.8" y="472.2">29.3</text>
<text class="n" x="632.3" y="494.8">29.3</text>
<text class="n" x="763.5" y="505.3">31.4</text>
<text class="n" x="778.9" y="503.2">31.0</text>
<text class="n" x="852.1" y="507">31.2</text>
<text class="n" x="668" y="519.8">30.9</text>
<text class="n" x="795.9" y="530.5">32.0</text>
<text class="n" x="667" y="533.1">32.0</text>
<text class="n" x="622.9" y="535.6">31.2</text>
<text class="n" x="706.3" y="537.3">31.6</text>
<text class="n" x="858.3" y="547.2">31.9</text>
<text class="n" x="675.2" y="572.8">33.0</text>
<text class="n" x="733.6" y="570">32.0</text>
<text class="n" x="783" y="587">31.8</text>
<text class="n" x="704.9" y="601">32.6</text>
<text class="n" x="767" y="602">32.0</text>
<text class="n" x="611.5" y="615.2">31.3</text>
<text class="n" x="713.8" y="638.9">32.4</text>
<text class="n" x="686.6" y="647.8">32.2</text>
<text class="n" x="462.5" y="464.9">26.9</text>
<text class="n" x="506" y="474.8">27.6</text>
<text class="n" x="530.7" y="464.9">27.8</text>
<text class="n" x="542.9" y="459.4">27.6</text>
<text class="n" x="567.5" y="453">28.2</text>
<text class="n" x="596.7" y="479.2">28.4</text>
<text class="n" x="551.7" y="491.6">29.0</text>
<text class="n" x="425.3" y="507.8">28.8</text>
<text class="n" x="469.3" y="527.4">29.7</text>
<text class="n" x="511.5" y="523.3">29.0</text>
<text class="n" x="567.4" y="520.1">29.5</text>
<text class="n" x="530.6" y="544.6">29.6</text>
<text class="n" x="562.3" y="556.5">30.8</text>
<text class="n" x="488" y="565.4">30.2</text>
<text class="n" x="554.8" y="598.4">31.6</text>
<text class="n" x="469.3" y="612.4">30.7</text>
</g>
<rect x="54.6" y="14.95" width="852.4" height="710.85" fill="none" stroke="#000" stroke-width="2.3"/>
<g><line x1="54.6" y1="725.8" x2="54.6" y2="732" stroke="#000" stroke-width="2"/><text class="ax" transform="translate(40.2 747.7) scale(.868 1)">116°E</text><line x1="196.5" y1="725.8" x2="196.5" y2="732" stroke="#000" stroke-width="2"/><text class="ax" transform="translate(181.9 747.7) scale(.868 1)">117°E</text><line x1="338.4" y1="725.8" x2="338.4" y2="732" stroke="#000" stroke-width="2"/><text class="ax" transform="translate(323.8 747.7) scale(.868 1)">118°E</text><line x1="480.3" y1="725.8" x2="480.3" y2="732" stroke="#000" stroke-width="2"/><text class="ax" transform="translate(465.7 747.7) scale(.868 1)">119°E</text><line x1="622.2" y1="725.8" x2="622.2" y2="732" stroke="#000" stroke-width="2"/><text class="ax" transform="translate(607.6 747.7) scale(.868 1)">120°E</text><line x1="764.1" y1="725.8" x2="764.1" y2="732" stroke="#000" stroke-width="2"/><text class="ax" transform="translate(749.5 747.7) scale(.868 1)">121°E</text><line x1="906" y1="725.8" x2="906" y2="732" stroke="#000" stroke-width="2"/><text class="ax" transform="translate(871.8 747.7) scale(.868 1)">122°E</text><line x1="49.5" y1="85.8" x2="54.6" y2="85.8" stroke="#000" stroke-width="2"/><text class="ax" transform="translate(47.3 91.4) scale(.875 1)" text-anchor="end">35°N</text><line x1="49.5" y1="228.1" x2="54.6" y2="228.1" stroke="#000" stroke-width="2"/><text class="ax" transform="translate(47.3 233.7) scale(.875 1)" text-anchor="end">34°N</text><line x1="49.5" y1="370.4" x2="54.6" y2="370.4" stroke="#000" stroke-width="2"/><text class="ax" transform="translate(47.3 376) scale(.875 1)" text-anchor="end">33°N</text><line x1="49.5" y1="512.7" x2="54.6" y2="512.7" stroke="#000" stroke-width="2"/><text class="ax" transform="translate(47.3 518.3) scale(.875 1)" text-anchor="end">32°N</text><line x1="49.5" y1="655" x2="54.6" y2="655" stroke="#000" stroke-width="2"/><text class="ax" transform="translate(47.3 660.6) scale(.875 1)" text-anchor="end">31°N</text></g>
<g><rect x="70.1" y="309.8" width="24.8" height="17.6" fill="#6b000a"/><rect x="70.1" y="327.1" width="24.8" height="17.6" fill="#9a000c"/><rect x="70.1" y="344.3" width="24.8" height="17.6" fill="#c9141f"/><rect x="70.1" y="361.6" width="24.8" height="17.6" fill="#ee2737"/><rect x="70.1" y="378.9" width="24.8" height="17.6" fill="#ff3311"/><rect x="70.1" y="396.1" width="24.8" height="17.6" fill="#ff4c2e"/><rect x="70.1" y="413.4" width="24.8" height="17.6" fill="#ff5e20"/><rect x="70.1" y="430.7" width="24.8" height="17.6" fill="#ff7b08"/><rect x="70.1" y="448" width="24.8" height="17.6" fill="#ff8f00"/><rect x="70.1" y="465.2" width="24.8" height="17.6" fill="#ffa300"/><rect x="70.1" y="482.5" width="24.8" height="17.6" fill="#ffb700"/><rect x="70.1" y="499.8" width="24.8" height="17.6" fill="#ffcb00"/><rect x="70.1" y="517" width="24.8" height="17.6" fill="#ffdd55"/><rect x="70.1" y="534.3" width="24.8" height="17.6" fill="#ffe072"/><rect x="70.1" y="551.6" width="24.8" height="17.6" fill="#fbfe9b"/><rect x="70.1" y="568.9" width="24.8" height="17.6" fill="#d9ff9c"/><rect x="70.1" y="586.1" width="24.8" height="17.6" fill="#bfffa8"/><rect x="70.1" y="603.4" width="24.8" height="17.6" fill="#a5fd82"/><rect x="70.1" y="620.7" width="24.8" height="17.6" fill="#97fc6b"/><rect x="70.1" y="637.9" width="24.8" height="17.6" fill="#85fb4f"/><rect x="70.1" y="655.2" width="24.8" height="17.6" fill="#63fb1e"/><rect x="70.1" y="672.5" width="24.8" height="17.6" fill="#22fb7d"/><line x1="70.1" y1="327.1" x2="94.9" y2="327.1" stroke="#1a1000" stroke-opacity=".8" stroke-width="0.9"/><line x1="70.1" y1="344.3" x2="94.9" y2="344.3" stroke="#1a1000" stroke-opacity=".8" stroke-width="0.9"/><line x1="70.1" y1="361.6" x2="94.9" y2="361.6" stroke="#1a1000" stroke-opacity=".8" stroke-width="0.9"/><line x1="70.1" y1="378.9" x2="94.9" y2="378.9" stroke="#1a1000" stroke-opacity=".8" stroke-width="0.9"/><line x1="70.1" y1="396.1" x2="94.9" y2="396.1" stroke="#1a1000" stroke-opacity=".8" stroke-width="0.9"/><line x1="70.1" y1="413.4" x2="94.9" y2="413.4" stroke="#1a1000" stroke-opacity=".8" stroke-width="0.9"/><line x1="70.1" y1="430.7" x2="94.9" y2="430.7" stroke="#1a1000" stroke-opacity=".8" stroke-width="0.9"/><line x1="70.1" y1="448" x2="94.9" y2="448" stroke="#1a1000" stroke-opacity=".8" stroke-width="0.9"/><line x1="70.1" y1="465.2" x2="94.9" y2="465.2" stroke="#1a1000" stroke-opacity=".8" stroke-width="0.9"/><line x1="70.1" y1="482.5" x2="94.9" y2="482.5" stroke="#1a1000" stroke-opacity=".8" stroke-width="0.9"/><line x1="70.1" y1="499.8" x2="94.9" y2="499.8" stroke="#1a1000" stroke-opacity=".8" stroke-width="0.9"/><line x1="70.1" y1="517" x2="94.9" y2="517" stroke="#1a1000" stroke-opacity=".8" stroke-width="0.9"/><line x1="70.1" y1="534.3" x2="94.9" y2="534.3" stroke="#1a1000" stroke-opacity=".8" stroke-width="0.9"/><line x1="70.1" y1="551.6" x2="94.9" y2="551.6" stroke="#1a1000" stroke-opacity=".8" stroke-width="0.9"/><line x1="70.1" y1="568.9" x2="94.9" y2="568.9" stroke="#1a1000" stroke-opacity=".8" stroke-width="0.9"/><line x1="70.1" y1="586.1" x2="94.9" y2="586.1" stroke="#1a1000" stroke-opacity=".8" stroke-width="0.9"/><line x1="70.1" y1="603.4" x2="94.9" y2="603.4" stroke="#1a1000" stroke-opacity=".8" stroke-width="0.9"/><line x1="70.1" y1="620.7" x2="94.9" y2="620.7" stroke="#1a1000" stroke-opacity=".8" stroke-width="0.9"/><line x1="70.1" y1="637.9" x2="94.9" y2="637.9" stroke="#1a1000" stroke-opacity=".8" stroke-width="0.9"/><line x1="70.1" y1="655.2" x2="94.9" y2="655.2" stroke="#1a1000" stroke-opacity=".8" stroke-width="0.9"/><line x1="70.1" y1="672.5" x2="94.9" y2="672.5" stroke="#1a1000" stroke-opacity=".8" stroke-width="0.9"/><rect x="70.1" y="309.8" width="24.8" height="379.9" fill="none" stroke="#555" stroke-opacity=".6" stroke-width="0.8"/><text class="cb" x="102.7" y="334.4">40</text><text class="cb" x="102.7" y="351.6">39</text><text class="cb" x="102.7" y="368.9">38</text><text class="cb" x="102.7" y="386.2">37</text><text class="cb" x="102.7" y="403.4">36</text><text class="cb" x="102.7" y="420.7">35</text><text class="cb" x="102.7" y="438">34</text><text class="cb" x="102.7" y="455.3">33</text><text class="cb" x="102.7" y="472.5">32</text><text class="cb" x="102.7" y="489.8">31</text><text class="cb" x="102.7" y="507.1">30</text><text class="cb" x="102.7" y="524.3">29</text><text class="cb" x="102.7" y="541.6">28</text><text class="cb" x="102.7" y="558.9">27</text><text class="cb" x="102.7" y="576.1">26</text><text class="cb" x="102.7" y="593.4">25</text><text class="cb" x="102.7" y="610.7">24</text><text class="cb" x="102.7" y="628">23</text><text class="cb" x="102.7" y="645.2">22</text><text class="cb" x="102.7" y="662.5">21</text><text class="cb" x="102.7" y="679.8">20</text></g>
<text x="575" y="51" style="font:bold 25px 'Liberation Sans','Noto Sans CJK SC',sans-serif" fill="#000">江苏省实时气温(℃)</text>
<text x="671.5" y="75.3" style="font:14px 'Liberation Sans','Noto Sans CJK SC',sans-serif" fill="#000">9月17日9时0分</text>
<text x="749.3" y="698" letter-spacing="0.25" style="font:400 22px 'Liberation Sans','Noto Sans CJK SC',sans-serif" fill="#1c2738">江苏省气象台</text>
<g id="logo">
<defs>
<clipPath id="lgc"><circle cx="96" cy="59.2" r="21.2"/></clipPath>
<path id="lgt" d="M73.200 56.900A22.800 22.800 0 0 1 118.800 56.900"/>
<path id="lgb" d="M68.600 58.500A27.400 27.400 0 0 0 123.400 58.500"/>
</defs>
<circle cx="96" cy="56.9" r="29.6" fill="#fff" stroke="#3f93e3" stroke-width="0.8"/>
<circle cx="96" cy="56.9" r="28.2" fill="none" stroke="#5aa3e8" stroke-width="0.45"/>
<text style="font:500 6px 'Liberation Sans','Noto Sans CJK SC',sans-serif" fill="#1e6cc4" letter-spacing="3"><textPath href="#lgt" startOffset="52.500%" text-anchor="middle">江苏省气象台</textPath></text>
<text style="font:3.7px 'Liberation Sans',sans-serif" fill="#2a7ad0"><textPath href="#lgb" startOffset="50%" text-anchor="middle">JIANGSU METEOROLOGICAL OBSERVATORY</textPath></text>
<circle cx="71.4" cy="50.5" r="0.7" fill="#1e6cc4"/><circle cx="120.6" cy="50.5" r="0.7" fill="#1e6cc4"/>
<circle cx="96" cy="59.2" r="21.2" fill="#0a3c90"/>
<g clip-path="url(#lgc)">
<path transform="translate(0 1.6)" d="M70 82V63c2-1 3-2 4.500-2 .5-2 2.500-3.500 5-3 1-2 3.500-3 5.500-2.300 1.500-1.200 3.500-1 4.500 0h12c1.500-2.500 5-3.500 7.500-1.500 1.500 1.500 2.500 3 3 4.500 2.500-.5 4.500.5 5.500 2.300 2 0 3.500 1 4.500 2V82z" fill="#1b77cc"/>
<path d="M74 67.500h44v14H74z" fill="#1b77cc"/>
<g stroke="#fff" stroke-width="0.55" fill="none" opacity=".9">
<path d="M77 69.300h38"/><path d="M79 71.800h13m4 0h14"/><path d="M82 74.200c5-1 9 .8 14 0s8-.8 12 0"/><path d="M86 76.600c4-.8 7 .6 10 0s6-.6 9 0"/>
</g>
<g fill="#fff">
<path d="M88.600 67.300v-7.300h1v-1.200h12.800v1.200h1v7.300h-1.500v-6.500h-1.300v6.500h-1.300v-6.500h-1.300v6.500h-.9v-4.200c0-1.600-2.400-1.600-2.400 0v4.200h-.9v-6.500h-1.300v6.500h-1.300v-6.500h-1.300v6.500z"/>
<path d="M88.300 58.700l.8-1.300h13.800l.8 1.300z"/>
<path d="M89.800 57l.3-2.300h11.800l.3 2.300z"/>
<path d="M90.200 54.300l.4-2.300h10.800l.4 2.300z"/>
<path d="M90.800 51.600l.6-2.200h9.200l.6 2.200z"/>
<path d="M91.700 49l.7-2h7.200l.7 2z"/>
<path d="M92.800 46.600l.8-1.800h4.800l.8 1.800z"/>
<path d="M94 44.400l.7-1.500h2.600l.7 1.500z"/>
<path d="M94.900 42.600c.1-.9.500-1.400 1.100-1.700.7.300 1 .8 1.100 1.700z"/>
</g>
</g>
</g>

</svg></body></html>
